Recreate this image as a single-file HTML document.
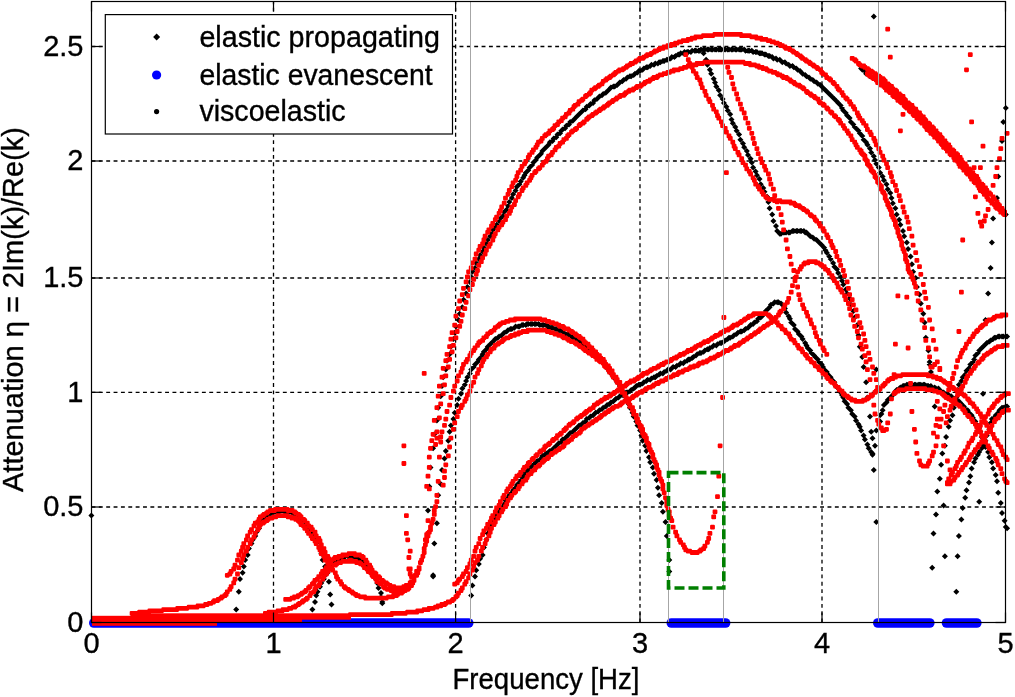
<!DOCTYPE html>
<html><head><meta charset="utf-8"><title>Attenuation vs Frequency</title>
<style>html,body{margin:0;padding:0;background:#fff}svg{display:block}</style></head>
<body>
<svg width="1015" height="697" viewBox="0 0 1015 697" style="display:block">
<rect width="1015" height="697" fill="#fff"/>
<line x1="273.5" y1="622.5" x2="273.5" y2="1.5" stroke="#000" stroke-width="1.3" stroke-dasharray="3.9 3.46"/>
<line x1="455.6" y1="622.5" x2="455.6" y2="1.5" stroke="#000" stroke-width="1.3" stroke-dasharray="3.9 3.46"/>
<line x1="640.0" y1="622.5" x2="640.0" y2="1.5" stroke="#000" stroke-width="1.3" stroke-dasharray="3.9 3.46"/>
<line x1="822.0" y1="622.5" x2="822.0" y2="1.5" stroke="#000" stroke-width="1.3" stroke-dasharray="3.9 3.46"/>
<line x1="91.5" y1="507.0" x2="1005.5" y2="507.0" stroke="#000" stroke-width="1.3" stroke-dasharray="3.9 3.46"/>
<line x1="91.5" y1="392.3" x2="1005.5" y2="392.3" stroke="#000" stroke-width="1.3" stroke-dasharray="3.9 3.46"/>
<line x1="91.5" y1="278.0" x2="1005.5" y2="278.0" stroke="#000" stroke-width="1.3" stroke-dasharray="3.9 3.46"/>
<line x1="91.5" y1="161.0" x2="1005.5" y2="161.0" stroke="#000" stroke-width="1.3" stroke-dasharray="3.9 3.46"/>
<line x1="91.5" y1="46.5" x2="1005.5" y2="46.5" stroke="#000" stroke-width="1.3" stroke-dasharray="3.9 3.46"/>
<path d="M236.2 606.6l3.0 3.0l-3.0 3.0l-3.0 -3.0zM238.8 588.8l3.0 3.0l-3.0 3.0l-3.0 -3.0zM240.0 576.1l3.0 3.0l-3.0 3.0l-3.0 -3.0zM242.6 569.8l3.0 3.0l-3.0 3.0l-3.0 -3.0zM243.8 563.4l3.0 3.0l-3.0 3.0l-3.0 -3.0zM245.1 557.1l3.0 3.0l-3.0 3.0l-3.0 -3.0zM247.7 552.0l3.0 3.0l-3.0 3.0l-3.0 -3.0zM248.9 545.6l3.0 3.0l-3.0 3.0l-3.0 -3.0zM251.5 540.6l3.0 3.0l-3.0 3.0l-3.0 -3.0zM252.7 536.8l3.0 3.0l-3.0 3.0l-3.0 -3.0zM255.3 532.9l3.0 3.0l-3.0 3.0l-3.0 -3.0zM256.5 529.1l3.0 3.0l-3.0 3.0l-3.0 -3.0zM259.1 525.3l3.0 3.0l-3.0 3.0l-3.0 -3.0zM260.4 521.5l3.0 3.0l-3.0 3.0l-3.0 -3.0zM261.6 519.0l3.0 3.0l-3.0 3.0l-3.0 -3.0zM264.2 516.4l3.0 3.0l-3.0 3.0l-3.0 -3.0zM265.4 513.9l3.0 3.0l-3.0 3.0l-3.0 -3.0zM268.0 512.6l3.0 3.0l-3.0 3.0l-3.0 -3.0zM269.2 511.4l3.0 3.0l-3.0 3.0l-3.0 -3.0zM271.8 510.1l3.0 3.0l-3.0 3.0l-3.0 -3.0zM273.1 510.1l3.0 3.0l-3.0 3.0l-3.0 -3.0zM275.6 508.8l3.0 3.0l-3.0 3.0l-3.0 -3.0zM276.9 508.8l3.0 3.0l-3.0 3.0l-3.0 -3.0zM279.4 508.8l3.0 3.0l-3.0 3.0l-3.0 -3.0zM280.7 507.5l3.0 3.0l-3.0 3.0l-3.0 -3.0zM281.9 507.5l3.0 3.0l-3.0 3.0l-3.0 -3.0zM284.5 508.8l3.0 3.0l-3.0 3.0l-3.0 -3.0zM285.8 508.8l3.0 3.0l-3.0 3.0l-3.0 -3.0zM288.3 508.8l3.0 3.0l-3.0 3.0l-3.0 -3.0zM289.6 508.8l3.0 3.0l-3.0 3.0l-3.0 -3.0zM292.1 510.1l3.0 3.0l-3.0 3.0l-3.0 -3.0zM293.4 510.1l3.0 3.0l-3.0 3.0l-3.0 -3.0zM295.9 511.4l3.0 3.0l-3.0 3.0l-3.0 -3.0zM297.2 512.6l3.0 3.0l-3.0 3.0l-3.0 -3.0zM299.7 513.9l3.0 3.0l-3.0 3.0l-3.0 -3.0zM301.0 516.4l3.0 3.0l-3.0 3.0l-3.0 -3.0zM302.3 517.7l3.0 3.0l-3.0 3.0l-3.0 -3.0zM304.8 519.0l3.0 3.0l-3.0 3.0l-3.0 -3.0zM306.1 521.5l3.0 3.0l-3.0 3.0l-3.0 -3.0zM308.6 524.0l3.0 3.0l-3.0 3.0l-3.0 -3.0zM309.9 526.6l3.0 3.0l-3.0 3.0l-3.0 -3.0zM312.4 529.1l3.0 3.0l-3.0 3.0l-3.0 -3.0zM313.7 531.7l3.0 3.0l-3.0 3.0l-3.0 -3.0zM316.2 535.5l3.0 3.0l-3.0 3.0l-3.0 -3.0zM317.5 539.3l3.0 3.0l-3.0 3.0l-3.0 -3.0zM320.0 544.4l3.0 3.0l-3.0 3.0l-3.0 -3.0zM321.3 550.7l3.0 3.0l-3.0 3.0l-3.0 -3.0zM322.6 557.1l3.0 3.0l-3.0 3.0l-3.0 -3.0zM325.1 563.4l3.0 3.0l-3.0 3.0l-3.0 -3.0zM326.4 569.8l3.0 3.0l-3.0 3.0l-3.0 -3.0zM328.9 578.7l3.0 3.0l-3.0 3.0l-3.0 -3.0zM330.2 591.4l3.0 3.0l-3.0 3.0l-3.0 -3.0zM331.5 601.5l3.0 3.0l-3.0 3.0l-3.0 -3.0zM312.4 606.6l3.0 3.0l-3.0 3.0l-3.0 -3.0zM315.0 599.0l3.0 3.0l-3.0 3.0l-3.0 -3.0zM316.2 592.6l3.0 3.0l-3.0 3.0l-3.0 -3.0zM317.5 588.8l3.0 3.0l-3.0 3.0l-3.0 -3.0zM320.0 583.7l3.0 3.0l-3.0 3.0l-3.0 -3.0zM321.3 579.9l3.0 3.0l-3.0 3.0l-3.0 -3.0zM323.9 576.1l3.0 3.0l-3.0 3.0l-3.0 -3.0zM325.1 572.3l3.0 3.0l-3.0 3.0l-3.0 -3.0zM327.7 569.8l3.0 3.0l-3.0 3.0l-3.0 -3.0zM328.9 566.0l3.0 3.0l-3.0 3.0l-3.0 -3.0zM331.5 563.4l3.0 3.0l-3.0 3.0l-3.0 -3.0zM332.7 560.9l3.0 3.0l-3.0 3.0l-3.0 -3.0zM334.0 559.6l3.0 3.0l-3.0 3.0l-3.0 -3.0zM336.6 558.3l3.0 3.0l-3.0 3.0l-3.0 -3.0zM337.8 557.1l3.0 3.0l-3.0 3.0l-3.0 -3.0zM340.4 555.8l3.0 3.0l-3.0 3.0l-3.0 -3.0zM341.6 554.5l3.0 3.0l-3.0 3.0l-3.0 -3.0zM344.2 554.5l3.0 3.0l-3.0 3.0l-3.0 -3.0zM345.4 553.3l3.0 3.0l-3.0 3.0l-3.0 -3.0zM348.0 553.3l3.0 3.0l-3.0 3.0l-3.0 -3.0zM349.2 553.3l3.0 3.0l-3.0 3.0l-3.0 -3.0zM351.8 553.3l3.0 3.0l-3.0 3.0l-3.0 -3.0zM353.1 553.3l3.0 3.0l-3.0 3.0l-3.0 -3.0zM355.6 554.5l3.0 3.0l-3.0 3.0l-3.0 -3.0zM356.9 554.5l3.0 3.0l-3.0 3.0l-3.0 -3.0zM358.1 555.8l3.0 3.0l-3.0 3.0l-3.0 -3.0zM360.7 557.1l3.0 3.0l-3.0 3.0l-3.0 -3.0zM361.9 558.3l3.0 3.0l-3.0 3.0l-3.0 -3.0zM364.5 559.6l3.0 3.0l-3.0 3.0l-3.0 -3.0zM365.8 560.9l3.0 3.0l-3.0 3.0l-3.0 -3.0zM368.3 563.4l3.0 3.0l-3.0 3.0l-3.0 -3.0zM369.6 566.0l3.0 3.0l-3.0 3.0l-3.0 -3.0zM372.1 568.5l3.0 3.0l-3.0 3.0l-3.0 -3.0zM373.4 572.3l3.0 3.0l-3.0 3.0l-3.0 -3.0zM375.9 576.1l3.0 3.0l-3.0 3.0l-3.0 -3.0zM377.2 579.9l3.0 3.0l-3.0 3.0l-3.0 -3.0zM378.5 585.0l3.0 3.0l-3.0 3.0l-3.0 -3.0zM381.0 593.9l3.0 3.0l-3.0 3.0l-3.0 -3.0zM382.3 599.0l3.0 3.0l-3.0 3.0l-3.0 -3.0zM429.3 483.4l3.0 3.0l-3.0 3.0l-3.0 -3.0zM430.5 464.4l3.0 3.0l-3.0 3.0l-3.0 -3.0zM433.1 445.3l3.0 3.0l-3.0 3.0l-3.0 -3.0zM434.3 431.3l3.0 3.0l-3.0 3.0l-3.0 -3.0zM436.9 417.4l3.0 3.0l-3.0 3.0l-3.0 -3.0zM438.2 404.7l3.0 3.0l-3.0 3.0l-3.0 -3.0zM440.7 393.2l3.0 3.0l-3.0 3.0l-3.0 -3.0zM442.0 383.1l3.0 3.0l-3.0 3.0l-3.0 -3.0zM443.2 374.2l3.0 3.0l-3.0 3.0l-3.0 -3.0zM445.8 366.6l3.0 3.0l-3.0 3.0l-3.0 -3.0zM447.0 357.7l3.0 3.0l-3.0 3.0l-3.0 -3.0zM449.6 351.3l3.0 3.0l-3.0 3.0l-3.0 -3.0zM450.9 343.7l3.0 3.0l-3.0 3.0l-3.0 -3.0zM453.4 336.1l3.0 3.0l-3.0 3.0l-3.0 -3.0zM454.7 329.7l3.0 3.0l-3.0 3.0l-3.0 -3.0zM455.9 323.4l3.0 3.0l-3.0 3.0l-3.0 -3.0zM458.5 317.0l3.0 3.0l-3.0 3.0l-3.0 -3.0zM459.7 310.7l3.0 3.0l-3.0 3.0l-3.0 -3.0zM462.3 304.3l3.0 3.0l-3.0 3.0l-3.0 -3.0zM463.6 296.7l3.0 3.0l-3.0 3.0l-3.0 -3.0zM466.1 290.4l3.0 3.0l-3.0 3.0l-3.0 -3.0zM467.4 284.0l3.0 3.0l-3.0 3.0l-3.0 -3.0zM469.9 278.9l3.0 3.0l-3.0 3.0l-3.0 -3.0zM471.2 273.9l3.0 3.0l-3.0 3.0l-3.0 -3.0zM472.4 268.8l3.0 3.0l-3.0 3.0l-3.0 -3.0zM475.0 265.0l3.0 3.0l-3.0 3.0l-3.0 -3.0zM476.2 259.9l3.0 3.0l-3.0 3.0l-3.0 -3.0zM478.8 256.1l3.0 3.0l-3.0 3.0l-3.0 -3.0zM480.1 252.3l3.0 3.0l-3.0 3.0l-3.0 -3.0zM482.6 248.5l3.0 3.0l-3.0 3.0l-3.0 -3.0zM483.9 244.7l3.0 3.0l-3.0 3.0l-3.0 -3.0zM486.4 240.8l3.0 3.0l-3.0 3.0l-3.0 -3.0zM487.7 237.0l3.0 3.0l-3.0 3.0l-3.0 -3.0zM490.2 233.2l3.0 3.0l-3.0 3.0l-3.0 -3.0zM491.5 230.7l3.0 3.0l-3.0 3.0l-3.0 -3.0zM492.8 226.9l3.0 3.0l-3.0 3.0l-3.0 -3.0zM495.3 224.3l3.0 3.0l-3.0 3.0l-3.0 -3.0zM496.6 221.8l3.0 3.0l-3.0 3.0l-3.0 -3.0zM499.1 218.0l3.0 3.0l-3.0 3.0l-3.0 -3.0zM500.4 215.4l3.0 3.0l-3.0 3.0l-3.0 -3.0zM502.9 212.9l3.0 3.0l-3.0 3.0l-3.0 -3.0zM504.2 209.1l3.0 3.0l-3.0 3.0l-3.0 -3.0zM506.7 206.6l3.0 3.0l-3.0 3.0l-3.0 -3.0zM508.0 202.7l3.0 3.0l-3.0 3.0l-3.0 -3.0zM509.3 198.9l3.0 3.0l-3.0 3.0l-3.0 -3.0zM511.8 195.1l3.0 3.0l-3.0 3.0l-3.0 -3.0zM513.1 191.3l3.0 3.0l-3.0 3.0l-3.0 -3.0zM515.6 187.5l3.0 3.0l-3.0 3.0l-3.0 -3.0zM516.9 183.7l3.0 3.0l-3.0 3.0l-3.0 -3.0zM519.4 181.2l3.0 3.0l-3.0 3.0l-3.0 -3.0zM520.7 178.6l3.0 3.0l-3.0 3.0l-3.0 -3.0zM523.2 174.8l3.0 3.0l-3.0 3.0l-3.0 -3.0zM524.5 172.3l3.0 3.0l-3.0 3.0l-3.0 -3.0zM525.8 169.7l3.0 3.0l-3.0 3.0l-3.0 -3.0zM528.3 167.2l3.0 3.0l-3.0 3.0l-3.0 -3.0zM529.6 164.6l3.0 3.0l-3.0 3.0l-3.0 -3.0zM532.1 162.1l3.0 3.0l-3.0 3.0l-3.0 -3.0zM533.4 159.6l3.0 3.0l-3.0 3.0l-3.0 -3.0zM535.9 157.0l3.0 3.0l-3.0 3.0l-3.0 -3.0zM537.2 154.5l3.0 3.0l-3.0 3.0l-3.0 -3.0zM539.8 151.9l3.0 3.0l-3.0 3.0l-3.0 -3.0zM541.0 150.7l3.0 3.0l-3.0 3.0l-3.0 -3.0zM542.3 148.1l3.0 3.0l-3.0 3.0l-3.0 -3.0zM544.8 145.6l3.0 3.0l-3.0 3.0l-3.0 -3.0zM546.1 144.3l3.0 3.0l-3.0 3.0l-3.0 -3.0zM548.6 141.8l3.0 3.0l-3.0 3.0l-3.0 -3.0zM549.9 139.2l3.0 3.0l-3.0 3.0l-3.0 -3.0zM552.5 138.0l3.0 3.0l-3.0 3.0l-3.0 -3.0zM553.7 135.4l3.0 3.0l-3.0 3.0l-3.0 -3.0zM556.3 134.2l3.0 3.0l-3.0 3.0l-3.0 -3.0zM557.5 131.6l3.0 3.0l-3.0 3.0l-3.0 -3.0zM560.1 130.3l3.0 3.0l-3.0 3.0l-3.0 -3.0zM561.3 127.8l3.0 3.0l-3.0 3.0l-3.0 -3.0zM562.6 126.5l3.0 3.0l-3.0 3.0l-3.0 -3.0zM565.1 125.3l3.0 3.0l-3.0 3.0l-3.0 -3.0zM566.4 122.7l3.0 3.0l-3.0 3.0l-3.0 -3.0zM569.0 121.5l3.0 3.0l-3.0 3.0l-3.0 -3.0zM570.2 118.9l3.0 3.0l-3.0 3.0l-3.0 -3.0zM572.8 117.7l3.0 3.0l-3.0 3.0l-3.0 -3.0zM574.0 116.4l3.0 3.0l-3.0 3.0l-3.0 -3.0zM576.6 113.8l3.0 3.0l-3.0 3.0l-3.0 -3.0zM577.9 112.6l3.0 3.0l-3.0 3.0l-3.0 -3.0zM579.1 111.3l3.0 3.0l-3.0 3.0l-3.0 -3.0zM581.7 108.8l3.0 3.0l-3.0 3.0l-3.0 -3.0zM582.9 107.5l3.0 3.0l-3.0 3.0l-3.0 -3.0zM585.5 106.2l3.0 3.0l-3.0 3.0l-3.0 -3.0zM586.7 103.7l3.0 3.0l-3.0 3.0l-3.0 -3.0zM589.3 102.4l3.0 3.0l-3.0 3.0l-3.0 -3.0zM590.5 101.1l3.0 3.0l-3.0 3.0l-3.0 -3.0zM593.1 99.9l3.0 3.0l-3.0 3.0l-3.0 -3.0zM594.4 97.3l3.0 3.0l-3.0 3.0l-3.0 -3.0zM596.9 96.1l3.0 3.0l-3.0 3.0l-3.0 -3.0zM598.2 94.8l3.0 3.0l-3.0 3.0l-3.0 -3.0zM599.4 93.5l3.0 3.0l-3.0 3.0l-3.0 -3.0zM602.0 92.2l3.0 3.0l-3.0 3.0l-3.0 -3.0zM603.2 91.0l3.0 3.0l-3.0 3.0l-3.0 -3.0zM605.8 89.7l3.0 3.0l-3.0 3.0l-3.0 -3.0zM607.1 88.4l3.0 3.0l-3.0 3.0l-3.0 -3.0zM609.6 85.9l3.0 3.0l-3.0 3.0l-3.0 -3.0zM610.9 84.6l3.0 3.0l-3.0 3.0l-3.0 -3.0zM613.4 83.4l3.0 3.0l-3.0 3.0l-3.0 -3.0zM614.7 83.4l3.0 3.0l-3.0 3.0l-3.0 -3.0zM617.2 82.1l3.0 3.0l-3.0 3.0l-3.0 -3.0zM618.5 80.8l3.0 3.0l-3.0 3.0l-3.0 -3.0zM619.8 79.5l3.0 3.0l-3.0 3.0l-3.0 -3.0zM622.3 78.3l3.0 3.0l-3.0 3.0l-3.0 -3.0zM623.6 77.0l3.0 3.0l-3.0 3.0l-3.0 -3.0zM626.1 75.7l3.0 3.0l-3.0 3.0l-3.0 -3.0zM627.4 74.5l3.0 3.0l-3.0 3.0l-3.0 -3.0zM629.9 73.2l3.0 3.0l-3.0 3.0l-3.0 -3.0zM631.2 73.2l3.0 3.0l-3.0 3.0l-3.0 -3.0zM633.7 71.9l3.0 3.0l-3.0 3.0l-3.0 -3.0zM635.0 70.7l3.0 3.0l-3.0 3.0l-3.0 -3.0zM637.5 69.4l3.0 3.0l-3.0 3.0l-3.0 -3.0zM638.8 68.1l3.0 3.0l-3.0 3.0l-3.0 -3.0zM640.1 68.1l3.0 3.0l-3.0 3.0l-3.0 -3.0zM642.6 66.8l3.0 3.0l-3.0 3.0l-3.0 -3.0zM643.9 65.6l3.0 3.0l-3.0 3.0l-3.0 -3.0zM646.4 64.3l3.0 3.0l-3.0 3.0l-3.0 -3.0zM647.7 64.3l3.0 3.0l-3.0 3.0l-3.0 -3.0zM650.2 63.0l3.0 3.0l-3.0 3.0l-3.0 -3.0zM651.5 61.8l3.0 3.0l-3.0 3.0l-3.0 -3.0zM654.0 61.8l3.0 3.0l-3.0 3.0l-3.0 -3.0zM655.3 60.5l3.0 3.0l-3.0 3.0l-3.0 -3.0zM657.9 60.5l3.0 3.0l-3.0 3.0l-3.0 -3.0zM659.1 59.2l3.0 3.0l-3.0 3.0l-3.0 -3.0zM660.4 59.2l3.0 3.0l-3.0 3.0l-3.0 -3.0zM662.9 58.0l3.0 3.0l-3.0 3.0l-3.0 -3.0zM664.2 58.0l3.0 3.0l-3.0 3.0l-3.0 -3.0zM666.8 56.7l3.0 3.0l-3.0 3.0l-3.0 -3.0zM668.0 56.7l3.0 3.0l-3.0 3.0l-3.0 -3.0zM670.6 55.4l3.0 3.0l-3.0 3.0l-3.0 -3.0zM671.8 54.1l3.0 3.0l-3.0 3.0l-3.0 -3.0zM674.4 54.1l3.0 3.0l-3.0 3.0l-3.0 -3.0zM675.6 52.9l3.0 3.0l-3.0 3.0l-3.0 -3.0zM678.2 51.6l3.0 3.0l-3.0 3.0l-3.0 -3.0zM679.5 51.6l3.0 3.0l-3.0 3.0l-3.0 -3.0zM680.7 50.3l3.0 3.0l-3.0 3.0l-3.0 -3.0zM683.3 50.3l3.0 3.0l-3.0 3.0l-3.0 -3.0zM684.5 49.1l3.0 3.0l-3.0 3.0l-3.0 -3.0zM687.1 49.1l3.0 3.0l-3.0 3.0l-3.0 -3.0zM688.3 49.1l3.0 3.0l-3.0 3.0l-3.0 -3.0zM690.9 49.1l3.0 3.0l-3.0 3.0l-3.0 -3.0zM692.1 47.8l3.0 3.0l-3.0 3.0l-3.0 -3.0zM694.7 47.8l3.0 3.0l-3.0 3.0l-3.0 -3.0zM696.0 47.8l3.0 3.0l-3.0 3.0l-3.0 -3.0zM698.5 47.8l3.0 3.0l-3.0 3.0l-3.0 -3.0zM699.8 47.8l3.0 3.0l-3.0 3.0l-3.0 -3.0zM701.0 46.5l3.0 3.0l-3.0 3.0l-3.0 -3.0zM703.6 46.5l3.0 3.0l-3.0 3.0l-3.0 -3.0zM704.9 46.5l3.0 3.0l-3.0 3.0l-3.0 -3.0zM707.4 46.5l3.0 3.0l-3.0 3.0l-3.0 -3.0zM708.7 46.5l3.0 3.0l-3.0 3.0l-3.0 -3.0zM711.2 46.5l3.0 3.0l-3.0 3.0l-3.0 -3.0zM712.5 46.5l3.0 3.0l-3.0 3.0l-3.0 -3.0zM715.0 46.5l3.0 3.0l-3.0 3.0l-3.0 -3.0zM716.3 46.5l3.0 3.0l-3.0 3.0l-3.0 -3.0zM718.8 46.5l3.0 3.0l-3.0 3.0l-3.0 -3.0zM720.1 46.5l3.0 3.0l-3.0 3.0l-3.0 -3.0zM721.4 46.5l3.0 3.0l-3.0 3.0l-3.0 -3.0zM723.9 46.5l3.0 3.0l-3.0 3.0l-3.0 -3.0zM725.2 46.5l3.0 3.0l-3.0 3.0l-3.0 -3.0zM727.7 46.5l3.0 3.0l-3.0 3.0l-3.0 -3.0zM729.0 46.5l3.0 3.0l-3.0 3.0l-3.0 -3.0zM731.5 46.5l3.0 3.0l-3.0 3.0l-3.0 -3.0zM732.8 46.5l3.0 3.0l-3.0 3.0l-3.0 -3.0zM735.3 46.5l3.0 3.0l-3.0 3.0l-3.0 -3.0zM736.6 46.5l3.0 3.0l-3.0 3.0l-3.0 -3.0zM739.1 46.5l3.0 3.0l-3.0 3.0l-3.0 -3.0zM740.4 46.5l3.0 3.0l-3.0 3.0l-3.0 -3.0zM741.7 46.5l3.0 3.0l-3.0 3.0l-3.0 -3.0zM744.2 46.5l3.0 3.0l-3.0 3.0l-3.0 -3.0zM745.5 47.8l3.0 3.0l-3.0 3.0l-3.0 -3.0zM748.0 47.8l3.0 3.0l-3.0 3.0l-3.0 -3.0zM749.3 47.8l3.0 3.0l-3.0 3.0l-3.0 -3.0zM751.8 47.8l3.0 3.0l-3.0 3.0l-3.0 -3.0zM753.1 49.1l3.0 3.0l-3.0 3.0l-3.0 -3.0zM755.6 49.1l3.0 3.0l-3.0 3.0l-3.0 -3.0zM756.9 49.1l3.0 3.0l-3.0 3.0l-3.0 -3.0zM759.5 50.3l3.0 3.0l-3.0 3.0l-3.0 -3.0zM760.7 50.3l3.0 3.0l-3.0 3.0l-3.0 -3.0zM762.0 50.3l3.0 3.0l-3.0 3.0l-3.0 -3.0zM764.5 51.6l3.0 3.0l-3.0 3.0l-3.0 -3.0zM765.8 51.6l3.0 3.0l-3.0 3.0l-3.0 -3.0zM768.4 52.9l3.0 3.0l-3.0 3.0l-3.0 -3.0zM769.6 52.9l3.0 3.0l-3.0 3.0l-3.0 -3.0zM772.2 54.1l3.0 3.0l-3.0 3.0l-3.0 -3.0zM773.4 55.4l3.0 3.0l-3.0 3.0l-3.0 -3.0zM776.0 55.4l3.0 3.0l-3.0 3.0l-3.0 -3.0zM777.2 56.7l3.0 3.0l-3.0 3.0l-3.0 -3.0zM779.8 56.7l3.0 3.0l-3.0 3.0l-3.0 -3.0zM781.0 58.0l3.0 3.0l-3.0 3.0l-3.0 -3.0zM782.3 59.2l3.0 3.0l-3.0 3.0l-3.0 -3.0zM784.9 59.2l3.0 3.0l-3.0 3.0l-3.0 -3.0zM786.1 60.5l3.0 3.0l-3.0 3.0l-3.0 -3.0zM788.7 61.8l3.0 3.0l-3.0 3.0l-3.0 -3.0zM789.9 63.0l3.0 3.0l-3.0 3.0l-3.0 -3.0zM792.5 63.0l3.0 3.0l-3.0 3.0l-3.0 -3.0zM793.8 64.3l3.0 3.0l-3.0 3.0l-3.0 -3.0zM796.3 65.6l3.0 3.0l-3.0 3.0l-3.0 -3.0zM797.6 66.8l3.0 3.0l-3.0 3.0l-3.0 -3.0zM800.1 68.1l3.0 3.0l-3.0 3.0l-3.0 -3.0zM801.4 69.4l3.0 3.0l-3.0 3.0l-3.0 -3.0zM802.6 70.7l3.0 3.0l-3.0 3.0l-3.0 -3.0zM805.2 71.9l3.0 3.0l-3.0 3.0l-3.0 -3.0zM806.5 73.2l3.0 3.0l-3.0 3.0l-3.0 -3.0zM809.0 74.5l3.0 3.0l-3.0 3.0l-3.0 -3.0zM810.3 75.7l3.0 3.0l-3.0 3.0l-3.0 -3.0zM812.8 77.0l3.0 3.0l-3.0 3.0l-3.0 -3.0zM814.1 78.3l3.0 3.0l-3.0 3.0l-3.0 -3.0zM816.6 79.5l3.0 3.0l-3.0 3.0l-3.0 -3.0zM817.9 80.8l3.0 3.0l-3.0 3.0l-3.0 -3.0zM820.4 82.1l3.0 3.0l-3.0 3.0l-3.0 -3.0zM821.7 83.4l3.0 3.0l-3.0 3.0l-3.0 -3.0zM824.2 85.9l3.0 3.0l-3.0 3.0l-3.0 -3.0zM825.5 87.2l3.0 3.0l-3.0 3.0l-3.0 -3.0zM826.8 88.4l3.0 3.0l-3.0 3.0l-3.0 -3.0zM829.3 91.0l3.0 3.0l-3.0 3.0l-3.0 -3.0zM830.6 92.2l3.0 3.0l-3.0 3.0l-3.0 -3.0zM833.1 94.8l3.0 3.0l-3.0 3.0l-3.0 -3.0zM834.4 96.1l3.0 3.0l-3.0 3.0l-3.0 -3.0zM836.9 98.6l3.0 3.0l-3.0 3.0l-3.0 -3.0zM838.2 99.9l3.0 3.0l-3.0 3.0l-3.0 -3.0zM840.7 102.4l3.0 3.0l-3.0 3.0l-3.0 -3.0zM842.0 105.0l3.0 3.0l-3.0 3.0l-3.0 -3.0zM843.3 107.5l3.0 3.0l-3.0 3.0l-3.0 -3.0zM845.8 110.0l3.0 3.0l-3.0 3.0l-3.0 -3.0zM847.1 112.6l3.0 3.0l-3.0 3.0l-3.0 -3.0zM849.6 115.1l3.0 3.0l-3.0 3.0l-3.0 -3.0zM850.9 118.9l3.0 3.0l-3.0 3.0l-3.0 -3.0zM853.4 121.5l3.0 3.0l-3.0 3.0l-3.0 -3.0zM854.7 124.0l3.0 3.0l-3.0 3.0l-3.0 -3.0zM857.2 126.5l3.0 3.0l-3.0 3.0l-3.0 -3.0zM858.5 127.8l3.0 3.0l-3.0 3.0l-3.0 -3.0zM859.8 130.3l3.0 3.0l-3.0 3.0l-3.0 -3.0zM862.3 132.9l3.0 3.0l-3.0 3.0l-3.0 -3.0zM863.6 136.7l3.0 3.0l-3.0 3.0l-3.0 -3.0zM866.1 139.2l3.0 3.0l-3.0 3.0l-3.0 -3.0zM867.4 141.8l3.0 3.0l-3.0 3.0l-3.0 -3.0zM870.0 145.6l3.0 3.0l-3.0 3.0l-3.0 -3.0zM871.2 149.4l3.0 3.0l-3.0 3.0l-3.0 -3.0zM873.8 153.2l3.0 3.0l-3.0 3.0l-3.0 -3.0zM875.0 157.0l3.0 3.0l-3.0 3.0l-3.0 -3.0zM876.3 160.8l3.0 3.0l-3.0 3.0l-3.0 -3.0zM878.8 164.6l3.0 3.0l-3.0 3.0l-3.0 -3.0zM880.1 169.7l3.0 3.0l-3.0 3.0l-3.0 -3.0zM882.6 173.5l3.0 3.0l-3.0 3.0l-3.0 -3.0zM883.9 177.3l3.0 3.0l-3.0 3.0l-3.0 -3.0zM886.5 181.2l3.0 3.0l-3.0 3.0l-3.0 -3.0zM887.7 186.2l3.0 3.0l-3.0 3.0l-3.0 -3.0zM890.3 190.0l3.0 3.0l-3.0 3.0l-3.0 -3.0zM891.5 195.1l3.0 3.0l-3.0 3.0l-3.0 -3.0zM892.8 200.2l3.0 3.0l-3.0 3.0l-3.0 -3.0zM895.4 205.3l3.0 3.0l-3.0 3.0l-3.0 -3.0zM896.6 211.6l3.0 3.0l-3.0 3.0l-3.0 -3.0zM899.2 216.7l3.0 3.0l-3.0 3.0l-3.0 -3.0zM900.4 221.8l3.0 3.0l-3.0 3.0l-3.0 -3.0zM903.0 228.1l3.0 3.0l-3.0 3.0l-3.0 -3.0zM904.2 233.2l3.0 3.0l-3.0 3.0l-3.0 -3.0zM906.8 239.6l3.0 3.0l-3.0 3.0l-3.0 -3.0zM908.1 245.9l3.0 3.0l-3.0 3.0l-3.0 -3.0zM910.6 253.5l3.0 3.0l-3.0 3.0l-3.0 -3.0zM911.9 261.2l3.0 3.0l-3.0 3.0l-3.0 -3.0zM913.1 268.8l3.0 3.0l-3.0 3.0l-3.0 -3.0zM915.7 275.1l3.0 3.0l-3.0 3.0l-3.0 -3.0zM916.9 284.0l3.0 3.0l-3.0 3.0l-3.0 -3.0zM919.5 291.6l3.0 3.0l-3.0 3.0l-3.0 -3.0zM920.8 300.5l3.0 3.0l-3.0 3.0l-3.0 -3.0zM923.3 310.7l3.0 3.0l-3.0 3.0l-3.0 -3.0zM924.6 319.6l3.0 3.0l-3.0 3.0l-3.0 -3.0zM925.8 334.8l3.0 3.0l-3.0 3.0l-3.0 -3.0zM928.4 347.5l3.0 3.0l-3.0 3.0l-3.0 -3.0zM929.6 361.5l3.0 3.0l-3.0 3.0l-3.0 -3.0zM930.9 369.1l3.0 3.0l-3.0 3.0l-3.0 -3.0zM433.1 572.3l3.0 3.0l-3.0 3.0l-3.0 -3.0zM434.3 540.6l3.0 3.0l-3.0 3.0l-3.0 -3.0zM436.9 520.2l3.0 3.0l-3.0 3.0l-3.0 -3.0zM438.2 492.3l3.0 3.0l-3.0 3.0l-3.0 -3.0zM440.7 480.9l3.0 3.0l-3.0 3.0l-3.0 -3.0zM442.0 466.9l3.0 3.0l-3.0 3.0l-3.0 -3.0zM444.5 455.5l3.0 3.0l-3.0 3.0l-3.0 -3.0zM445.8 447.9l3.0 3.0l-3.0 3.0l-3.0 -3.0zM448.3 437.7l3.0 3.0l-3.0 3.0l-3.0 -3.0zM449.6 428.8l3.0 3.0l-3.0 3.0l-3.0 -3.0zM450.9 422.4l3.0 3.0l-3.0 3.0l-3.0 -3.0zM453.4 416.1l3.0 3.0l-3.0 3.0l-3.0 -3.0zM454.7 409.8l3.0 3.0l-3.0 3.0l-3.0 -3.0zM457.2 402.1l3.0 3.0l-3.0 3.0l-3.0 -3.0zM458.5 395.8l3.0 3.0l-3.0 3.0l-3.0 -3.0zM461.0 390.7l3.0 3.0l-3.0 3.0l-3.0 -3.0zM462.3 385.6l3.0 3.0l-3.0 3.0l-3.0 -3.0zM464.8 381.8l3.0 3.0l-3.0 3.0l-3.0 -3.0zM466.1 378.0l3.0 3.0l-3.0 3.0l-3.0 -3.0zM467.4 374.2l3.0 3.0l-3.0 3.0l-3.0 -3.0zM469.9 370.4l3.0 3.0l-3.0 3.0l-3.0 -3.0zM471.2 366.6l3.0 3.0l-3.0 3.0l-3.0 -3.0zM473.7 364.0l3.0 3.0l-3.0 3.0l-3.0 -3.0zM475.0 361.5l3.0 3.0l-3.0 3.0l-3.0 -3.0zM477.5 358.9l3.0 3.0l-3.0 3.0l-3.0 -3.0zM478.8 356.4l3.0 3.0l-3.0 3.0l-3.0 -3.0zM481.3 353.9l3.0 3.0l-3.0 3.0l-3.0 -3.0zM482.6 351.3l3.0 3.0l-3.0 3.0l-3.0 -3.0zM483.9 348.8l3.0 3.0l-3.0 3.0l-3.0 -3.0zM486.4 346.2l3.0 3.0l-3.0 3.0l-3.0 -3.0zM487.7 343.7l3.0 3.0l-3.0 3.0l-3.0 -3.0zM490.2 341.2l3.0 3.0l-3.0 3.0l-3.0 -3.0zM491.5 339.9l3.0 3.0l-3.0 3.0l-3.0 -3.0zM494.0 337.4l3.0 3.0l-3.0 3.0l-3.0 -3.0zM495.3 336.1l3.0 3.0l-3.0 3.0l-3.0 -3.0zM497.8 334.8l3.0 3.0l-3.0 3.0l-3.0 -3.0zM499.1 333.6l3.0 3.0l-3.0 3.0l-3.0 -3.0zM501.7 332.3l3.0 3.0l-3.0 3.0l-3.0 -3.0zM502.9 331.0l3.0 3.0l-3.0 3.0l-3.0 -3.0zM504.2 329.7l3.0 3.0l-3.0 3.0l-3.0 -3.0zM506.7 328.5l3.0 3.0l-3.0 3.0l-3.0 -3.0zM508.0 327.2l3.0 3.0l-3.0 3.0l-3.0 -3.0zM510.5 325.9l3.0 3.0l-3.0 3.0l-3.0 -3.0zM511.8 325.9l3.0 3.0l-3.0 3.0l-3.0 -3.0zM514.4 324.7l3.0 3.0l-3.0 3.0l-3.0 -3.0zM515.6 323.4l3.0 3.0l-3.0 3.0l-3.0 -3.0zM518.2 323.4l3.0 3.0l-3.0 3.0l-3.0 -3.0zM519.4 323.4l3.0 3.0l-3.0 3.0l-3.0 -3.0zM522.0 322.1l3.0 3.0l-3.0 3.0l-3.0 -3.0zM523.2 322.1l3.0 3.0l-3.0 3.0l-3.0 -3.0zM525.8 322.1l3.0 3.0l-3.0 3.0l-3.0 -3.0zM527.0 320.9l3.0 3.0l-3.0 3.0l-3.0 -3.0zM528.3 320.9l3.0 3.0l-3.0 3.0l-3.0 -3.0zM530.9 320.9l3.0 3.0l-3.0 3.0l-3.0 -3.0zM532.1 320.9l3.0 3.0l-3.0 3.0l-3.0 -3.0zM534.7 320.9l3.0 3.0l-3.0 3.0l-3.0 -3.0zM535.9 320.9l3.0 3.0l-3.0 3.0l-3.0 -3.0zM538.5 320.9l3.0 3.0l-3.0 3.0l-3.0 -3.0zM539.8 322.1l3.0 3.0l-3.0 3.0l-3.0 -3.0zM542.3 322.1l3.0 3.0l-3.0 3.0l-3.0 -3.0zM543.6 322.1l3.0 3.0l-3.0 3.0l-3.0 -3.0zM546.1 322.1l3.0 3.0l-3.0 3.0l-3.0 -3.0zM547.4 323.4l3.0 3.0l-3.0 3.0l-3.0 -3.0zM548.6 323.4l3.0 3.0l-3.0 3.0l-3.0 -3.0zM551.2 324.7l3.0 3.0l-3.0 3.0l-3.0 -3.0zM552.5 324.7l3.0 3.0l-3.0 3.0l-3.0 -3.0zM555.0 325.9l3.0 3.0l-3.0 3.0l-3.0 -3.0zM556.3 325.9l3.0 3.0l-3.0 3.0l-3.0 -3.0zM558.8 327.2l3.0 3.0l-3.0 3.0l-3.0 -3.0zM560.1 327.2l3.0 3.0l-3.0 3.0l-3.0 -3.0zM562.6 328.5l3.0 3.0l-3.0 3.0l-3.0 -3.0zM563.9 329.7l3.0 3.0l-3.0 3.0l-3.0 -3.0zM565.1 331.0l3.0 3.0l-3.0 3.0l-3.0 -3.0zM567.7 331.0l3.0 3.0l-3.0 3.0l-3.0 -3.0zM569.0 332.3l3.0 3.0l-3.0 3.0l-3.0 -3.0zM571.5 333.6l3.0 3.0l-3.0 3.0l-3.0 -3.0zM572.8 334.8l3.0 3.0l-3.0 3.0l-3.0 -3.0zM575.3 336.1l3.0 3.0l-3.0 3.0l-3.0 -3.0zM576.6 337.4l3.0 3.0l-3.0 3.0l-3.0 -3.0zM579.1 338.6l3.0 3.0l-3.0 3.0l-3.0 -3.0zM580.4 339.9l3.0 3.0l-3.0 3.0l-3.0 -3.0zM582.9 341.2l3.0 3.0l-3.0 3.0l-3.0 -3.0zM584.2 342.4l3.0 3.0l-3.0 3.0l-3.0 -3.0zM586.7 343.7l3.0 3.0l-3.0 3.0l-3.0 -3.0zM588.0 345.0l3.0 3.0l-3.0 3.0l-3.0 -3.0zM589.3 347.5l3.0 3.0l-3.0 3.0l-3.0 -3.0zM591.8 348.8l3.0 3.0l-3.0 3.0l-3.0 -3.0zM593.1 350.1l3.0 3.0l-3.0 3.0l-3.0 -3.0zM595.6 352.6l3.0 3.0l-3.0 3.0l-3.0 -3.0zM596.9 353.9l3.0 3.0l-3.0 3.0l-3.0 -3.0zM599.4 356.4l3.0 3.0l-3.0 3.0l-3.0 -3.0zM600.7 357.7l3.0 3.0l-3.0 3.0l-3.0 -3.0zM603.2 360.2l3.0 3.0l-3.0 3.0l-3.0 -3.0zM604.5 361.5l3.0 3.0l-3.0 3.0l-3.0 -3.0zM605.8 364.0l3.0 3.0l-3.0 3.0l-3.0 -3.0zM608.3 366.6l3.0 3.0l-3.0 3.0l-3.0 -3.0zM609.6 369.1l3.0 3.0l-3.0 3.0l-3.0 -3.0zM612.1 371.6l3.0 3.0l-3.0 3.0l-3.0 -3.0zM613.4 374.2l3.0 3.0l-3.0 3.0l-3.0 -3.0zM616.0 376.7l3.0 3.0l-3.0 3.0l-3.0 -3.0zM617.2 379.3l3.0 3.0l-3.0 3.0l-3.0 -3.0zM619.8 383.1l3.0 3.0l-3.0 3.0l-3.0 -3.0zM621.0 385.6l3.0 3.0l-3.0 3.0l-3.0 -3.0zM623.6 389.4l3.0 3.0l-3.0 3.0l-3.0 -3.0zM624.8 393.2l3.0 3.0l-3.0 3.0l-3.0 -3.0zM626.1 397.1l3.0 3.0l-3.0 3.0l-3.0 -3.0zM628.6 400.9l3.0 3.0l-3.0 3.0l-3.0 -3.0zM629.9 404.7l3.0 3.0l-3.0 3.0l-3.0 -3.0zM632.5 409.8l3.0 3.0l-3.0 3.0l-3.0 -3.0zM633.7 413.6l3.0 3.0l-3.0 3.0l-3.0 -3.0zM636.3 418.6l3.0 3.0l-3.0 3.0l-3.0 -3.0zM637.5 422.4l3.0 3.0l-3.0 3.0l-3.0 -3.0zM640.1 427.5l3.0 3.0l-3.0 3.0l-3.0 -3.0zM641.4 432.6l3.0 3.0l-3.0 3.0l-3.0 -3.0zM642.6 437.7l3.0 3.0l-3.0 3.0l-3.0 -3.0zM645.2 442.8l3.0 3.0l-3.0 3.0l-3.0 -3.0zM646.4 447.9l3.0 3.0l-3.0 3.0l-3.0 -3.0zM649.0 454.2l3.0 3.0l-3.0 3.0l-3.0 -3.0zM650.2 459.3l3.0 3.0l-3.0 3.0l-3.0 -3.0zM652.8 464.4l3.0 3.0l-3.0 3.0l-3.0 -3.0zM654.0 470.7l3.0 3.0l-3.0 3.0l-3.0 -3.0zM656.6 477.1l3.0 3.0l-3.0 3.0l-3.0 -3.0zM657.9 484.7l3.0 3.0l-3.0 3.0l-3.0 -3.0zM659.1 492.3l3.0 3.0l-3.0 3.0l-3.0 -3.0zM661.7 499.9l3.0 3.0l-3.0 3.0l-3.0 -3.0zM662.9 508.8l3.0 3.0l-3.0 3.0l-3.0 -3.0zM665.5 519.0l3.0 3.0l-3.0 3.0l-3.0 -3.0zM666.8 532.9l3.0 3.0l-3.0 3.0l-3.0 -3.0zM669.3 557.1l3.0 3.0l-3.0 3.0l-3.0 -3.0zM669.3 568.5l3.0 3.0l-3.0 3.0l-3.0 -3.0zM471.2 592.6l3.0 3.0l-3.0 3.0l-3.0 -3.0zM472.4 582.5l3.0 3.0l-3.0 3.0l-3.0 -3.0zM475.0 573.6l3.0 3.0l-3.0 3.0l-3.0 -3.0zM476.2 567.2l3.0 3.0l-3.0 3.0l-3.0 -3.0zM478.8 560.9l3.0 3.0l-3.0 3.0l-3.0 -3.0zM480.1 555.8l3.0 3.0l-3.0 3.0l-3.0 -3.0zM482.6 552.0l3.0 3.0l-3.0 3.0l-3.0 -3.0zM483.9 544.4l3.0 3.0l-3.0 3.0l-3.0 -3.0zM486.4 536.8l3.0 3.0l-3.0 3.0l-3.0 -3.0zM487.7 530.4l3.0 3.0l-3.0 3.0l-3.0 -3.0zM488.9 526.6l3.0 3.0l-3.0 3.0l-3.0 -3.0zM491.5 521.5l3.0 3.0l-3.0 3.0l-3.0 -3.0zM492.8 519.0l3.0 3.0l-3.0 3.0l-3.0 -3.0zM495.3 515.2l3.0 3.0l-3.0 3.0l-3.0 -3.0zM496.6 512.6l3.0 3.0l-3.0 3.0l-3.0 -3.0zM499.1 508.8l3.0 3.0l-3.0 3.0l-3.0 -3.0zM500.4 506.3l3.0 3.0l-3.0 3.0l-3.0 -3.0zM502.9 503.7l3.0 3.0l-3.0 3.0l-3.0 -3.0zM504.2 501.2l3.0 3.0l-3.0 3.0l-3.0 -3.0zM505.5 497.4l3.0 3.0l-3.0 3.0l-3.0 -3.0zM508.0 494.8l3.0 3.0l-3.0 3.0l-3.0 -3.0zM509.3 492.3l3.0 3.0l-3.0 3.0l-3.0 -3.0zM511.8 489.8l3.0 3.0l-3.0 3.0l-3.0 -3.0zM513.1 487.2l3.0 3.0l-3.0 3.0l-3.0 -3.0zM515.6 484.7l3.0 3.0l-3.0 3.0l-3.0 -3.0zM516.9 482.1l3.0 3.0l-3.0 3.0l-3.0 -3.0zM519.4 479.6l3.0 3.0l-3.0 3.0l-3.0 -3.0zM520.7 477.1l3.0 3.0l-3.0 3.0l-3.0 -3.0zM522.0 474.5l3.0 3.0l-3.0 3.0l-3.0 -3.0zM524.5 472.0l3.0 3.0l-3.0 3.0l-3.0 -3.0zM525.8 469.4l3.0 3.0l-3.0 3.0l-3.0 -3.0zM528.3 466.9l3.0 3.0l-3.0 3.0l-3.0 -3.0zM529.6 465.6l3.0 3.0l-3.0 3.0l-3.0 -3.0zM532.1 463.1l3.0 3.0l-3.0 3.0l-3.0 -3.0zM533.4 461.8l3.0 3.0l-3.0 3.0l-3.0 -3.0zM535.9 459.3l3.0 3.0l-3.0 3.0l-3.0 -3.0zM537.2 458.0l3.0 3.0l-3.0 3.0l-3.0 -3.0zM539.8 456.7l3.0 3.0l-3.0 3.0l-3.0 -3.0zM541.0 455.5l3.0 3.0l-3.0 3.0l-3.0 -3.0zM542.3 452.9l3.0 3.0l-3.0 3.0l-3.0 -3.0zM544.8 451.7l3.0 3.0l-3.0 3.0l-3.0 -3.0zM546.1 450.4l3.0 3.0l-3.0 3.0l-3.0 -3.0zM548.6 449.1l3.0 3.0l-3.0 3.0l-3.0 -3.0zM549.9 447.9l3.0 3.0l-3.0 3.0l-3.0 -3.0zM552.5 446.6l3.0 3.0l-3.0 3.0l-3.0 -3.0zM553.7 445.3l3.0 3.0l-3.0 3.0l-3.0 -3.0zM556.3 442.8l3.0 3.0l-3.0 3.0l-3.0 -3.0zM557.5 441.5l3.0 3.0l-3.0 3.0l-3.0 -3.0zM558.8 440.2l3.0 3.0l-3.0 3.0l-3.0 -3.0zM561.3 439.0l3.0 3.0l-3.0 3.0l-3.0 -3.0zM562.6 436.4l3.0 3.0l-3.0 3.0l-3.0 -3.0zM565.1 435.2l3.0 3.0l-3.0 3.0l-3.0 -3.0zM566.4 433.9l3.0 3.0l-3.0 3.0l-3.0 -3.0zM569.0 431.3l3.0 3.0l-3.0 3.0l-3.0 -3.0zM570.2 430.1l3.0 3.0l-3.0 3.0l-3.0 -3.0zM572.8 428.8l3.0 3.0l-3.0 3.0l-3.0 -3.0zM574.0 427.5l3.0 3.0l-3.0 3.0l-3.0 -3.0zM576.6 425.0l3.0 3.0l-3.0 3.0l-3.0 -3.0zM577.9 423.7l3.0 3.0l-3.0 3.0l-3.0 -3.0zM579.1 422.4l3.0 3.0l-3.0 3.0l-3.0 -3.0zM581.7 421.2l3.0 3.0l-3.0 3.0l-3.0 -3.0zM582.9 419.9l3.0 3.0l-3.0 3.0l-3.0 -3.0zM585.5 418.6l3.0 3.0l-3.0 3.0l-3.0 -3.0zM586.7 416.1l3.0 3.0l-3.0 3.0l-3.0 -3.0zM589.3 414.8l3.0 3.0l-3.0 3.0l-3.0 -3.0zM590.5 413.6l3.0 3.0l-3.0 3.0l-3.0 -3.0zM593.1 412.3l3.0 3.0l-3.0 3.0l-3.0 -3.0zM594.4 411.0l3.0 3.0l-3.0 3.0l-3.0 -3.0zM595.6 409.8l3.0 3.0l-3.0 3.0l-3.0 -3.0zM598.2 408.5l3.0 3.0l-3.0 3.0l-3.0 -3.0zM599.4 407.2l3.0 3.0l-3.0 3.0l-3.0 -3.0zM602.0 405.9l3.0 3.0l-3.0 3.0l-3.0 -3.0zM603.2 404.7l3.0 3.0l-3.0 3.0l-3.0 -3.0zM605.8 403.4l3.0 3.0l-3.0 3.0l-3.0 -3.0zM607.1 402.1l3.0 3.0l-3.0 3.0l-3.0 -3.0zM609.6 400.9l3.0 3.0l-3.0 3.0l-3.0 -3.0zM610.9 399.6l3.0 3.0l-3.0 3.0l-3.0 -3.0zM613.4 398.3l3.0 3.0l-3.0 3.0l-3.0 -3.0zM614.7 397.1l3.0 3.0l-3.0 3.0l-3.0 -3.0zM616.0 395.8l3.0 3.0l-3.0 3.0l-3.0 -3.0zM618.5 394.5l3.0 3.0l-3.0 3.0l-3.0 -3.0zM619.8 393.2l3.0 3.0l-3.0 3.0l-3.0 -3.0zM622.3 392.0l3.0 3.0l-3.0 3.0l-3.0 -3.0zM623.6 390.7l3.0 3.0l-3.0 3.0l-3.0 -3.0zM626.1 389.4l3.0 3.0l-3.0 3.0l-3.0 -3.0zM627.4 389.4l3.0 3.0l-3.0 3.0l-3.0 -3.0zM629.9 388.2l3.0 3.0l-3.0 3.0l-3.0 -3.0zM631.2 386.9l3.0 3.0l-3.0 3.0l-3.0 -3.0zM633.7 385.6l3.0 3.0l-3.0 3.0l-3.0 -3.0zM635.0 384.4l3.0 3.0l-3.0 3.0l-3.0 -3.0zM636.3 383.1l3.0 3.0l-3.0 3.0l-3.0 -3.0zM638.8 381.8l3.0 3.0l-3.0 3.0l-3.0 -3.0zM640.1 381.8l3.0 3.0l-3.0 3.0l-3.0 -3.0zM642.6 380.5l3.0 3.0l-3.0 3.0l-3.0 -3.0zM643.9 379.3l3.0 3.0l-3.0 3.0l-3.0 -3.0zM646.4 378.0l3.0 3.0l-3.0 3.0l-3.0 -3.0zM647.7 376.7l3.0 3.0l-3.0 3.0l-3.0 -3.0zM650.2 376.7l3.0 3.0l-3.0 3.0l-3.0 -3.0zM651.5 375.5l3.0 3.0l-3.0 3.0l-3.0 -3.0zM654.0 374.2l3.0 3.0l-3.0 3.0l-3.0 -3.0zM655.3 374.2l3.0 3.0l-3.0 3.0l-3.0 -3.0zM656.6 372.9l3.0 3.0l-3.0 3.0l-3.0 -3.0zM659.1 371.6l3.0 3.0l-3.0 3.0l-3.0 -3.0zM660.4 370.4l3.0 3.0l-3.0 3.0l-3.0 -3.0zM662.9 370.4l3.0 3.0l-3.0 3.0l-3.0 -3.0zM664.2 369.1l3.0 3.0l-3.0 3.0l-3.0 -3.0zM666.8 367.8l3.0 3.0l-3.0 3.0l-3.0 -3.0zM668.0 366.6l3.0 3.0l-3.0 3.0l-3.0 -3.0zM670.6 366.6l3.0 3.0l-3.0 3.0l-3.0 -3.0zM671.8 365.3l3.0 3.0l-3.0 3.0l-3.0 -3.0zM673.1 364.0l3.0 3.0l-3.0 3.0l-3.0 -3.0zM675.6 364.0l3.0 3.0l-3.0 3.0l-3.0 -3.0zM676.9 362.8l3.0 3.0l-3.0 3.0l-3.0 -3.0zM679.5 361.5l3.0 3.0l-3.0 3.0l-3.0 -3.0zM680.7 360.2l3.0 3.0l-3.0 3.0l-3.0 -3.0zM683.3 360.2l3.0 3.0l-3.0 3.0l-3.0 -3.0zM684.5 358.9l3.0 3.0l-3.0 3.0l-3.0 -3.0zM687.1 357.7l3.0 3.0l-3.0 3.0l-3.0 -3.0zM688.3 356.4l3.0 3.0l-3.0 3.0l-3.0 -3.0zM689.6 356.4l3.0 3.0l-3.0 3.0l-3.0 -3.0zM692.1 355.1l3.0 3.0l-3.0 3.0l-3.0 -3.0zM693.4 353.9l3.0 3.0l-3.0 3.0l-3.0 -3.0zM696.0 352.6l3.0 3.0l-3.0 3.0l-3.0 -3.0zM697.2 351.3l3.0 3.0l-3.0 3.0l-3.0 -3.0zM699.8 350.1l3.0 3.0l-3.0 3.0l-3.0 -3.0zM701.0 350.1l3.0 3.0l-3.0 3.0l-3.0 -3.0zM703.6 348.8l3.0 3.0l-3.0 3.0l-3.0 -3.0zM704.9 347.5l3.0 3.0l-3.0 3.0l-3.0 -3.0zM707.4 346.2l3.0 3.0l-3.0 3.0l-3.0 -3.0zM708.7 346.2l3.0 3.0l-3.0 3.0l-3.0 -3.0zM709.9 345.0l3.0 3.0l-3.0 3.0l-3.0 -3.0zM712.5 343.7l3.0 3.0l-3.0 3.0l-3.0 -3.0zM713.7 342.4l3.0 3.0l-3.0 3.0l-3.0 -3.0zM716.3 342.4l3.0 3.0l-3.0 3.0l-3.0 -3.0zM717.5 341.2l3.0 3.0l-3.0 3.0l-3.0 -3.0zM720.1 339.9l3.0 3.0l-3.0 3.0l-3.0 -3.0zM721.4 339.9l3.0 3.0l-3.0 3.0l-3.0 -3.0zM723.9 338.6l3.0 3.0l-3.0 3.0l-3.0 -3.0zM725.2 337.4l3.0 3.0l-3.0 3.0l-3.0 -3.0zM727.7 336.1l3.0 3.0l-3.0 3.0l-3.0 -3.0zM729.0 334.8l3.0 3.0l-3.0 3.0l-3.0 -3.0zM730.2 334.8l3.0 3.0l-3.0 3.0l-3.0 -3.0zM732.8 333.6l3.0 3.0l-3.0 3.0l-3.0 -3.0zM734.1 332.3l3.0 3.0l-3.0 3.0l-3.0 -3.0zM736.6 331.0l3.0 3.0l-3.0 3.0l-3.0 -3.0zM737.9 329.7l3.0 3.0l-3.0 3.0l-3.0 -3.0zM740.4 328.5l3.0 3.0l-3.0 3.0l-3.0 -3.0zM741.7 328.5l3.0 3.0l-3.0 3.0l-3.0 -3.0zM744.2 327.2l3.0 3.0l-3.0 3.0l-3.0 -3.0zM745.5 325.9l3.0 3.0l-3.0 3.0l-3.0 -3.0zM748.0 324.7l3.0 3.0l-3.0 3.0l-3.0 -3.0zM749.3 323.4l3.0 3.0l-3.0 3.0l-3.0 -3.0zM750.6 322.1l3.0 3.0l-3.0 3.0l-3.0 -3.0zM753.1 320.9l3.0 3.0l-3.0 3.0l-3.0 -3.0zM754.4 319.6l3.0 3.0l-3.0 3.0l-3.0 -3.0zM756.9 318.3l3.0 3.0l-3.0 3.0l-3.0 -3.0zM758.2 315.8l3.0 3.0l-3.0 3.0l-3.0 -3.0zM760.7 314.5l3.0 3.0l-3.0 3.0l-3.0 -3.0zM762.0 313.2l3.0 3.0l-3.0 3.0l-3.0 -3.0zM764.5 310.7l3.0 3.0l-3.0 3.0l-3.0 -3.0zM765.8 308.1l3.0 3.0l-3.0 3.0l-3.0 -3.0zM768.4 305.6l3.0 3.0l-3.0 3.0l-3.0 -3.0zM769.6 304.3l3.0 3.0l-3.0 3.0l-3.0 -3.0zM770.9 301.8l3.0 3.0l-3.0 3.0l-3.0 -3.0zM773.4 300.5l3.0 3.0l-3.0 3.0l-3.0 -3.0zM774.7 299.3l3.0 3.0l-3.0 3.0l-3.0 -3.0zM777.2 299.3l3.0 3.0l-3.0 3.0l-3.0 -3.0zM778.5 299.3l3.0 3.0l-3.0 3.0l-3.0 -3.0zM781.0 300.5l3.0 3.0l-3.0 3.0l-3.0 -3.0zM782.3 301.8l3.0 3.0l-3.0 3.0l-3.0 -3.0zM784.9 305.6l3.0 3.0l-3.0 3.0l-3.0 -3.0zM786.1 309.4l3.0 3.0l-3.0 3.0l-3.0 -3.0zM788.7 313.2l3.0 3.0l-3.0 3.0l-3.0 -3.0zM789.9 315.8l3.0 3.0l-3.0 3.0l-3.0 -3.0zM791.2 319.6l3.0 3.0l-3.0 3.0l-3.0 -3.0zM793.8 322.1l3.0 3.0l-3.0 3.0l-3.0 -3.0zM795.0 325.9l3.0 3.0l-3.0 3.0l-3.0 -3.0zM797.6 328.5l3.0 3.0l-3.0 3.0l-3.0 -3.0zM798.8 331.0l3.0 3.0l-3.0 3.0l-3.0 -3.0zM801.4 333.6l3.0 3.0l-3.0 3.0l-3.0 -3.0zM802.6 336.1l3.0 3.0l-3.0 3.0l-3.0 -3.0zM805.2 339.9l3.0 3.0l-3.0 3.0l-3.0 -3.0zM806.5 342.4l3.0 3.0l-3.0 3.0l-3.0 -3.0zM807.7 345.0l3.0 3.0l-3.0 3.0l-3.0 -3.0zM810.3 347.5l3.0 3.0l-3.0 3.0l-3.0 -3.0zM811.5 350.1l3.0 3.0l-3.0 3.0l-3.0 -3.0zM814.1 352.6l3.0 3.0l-3.0 3.0l-3.0 -3.0zM815.3 353.9l3.0 3.0l-3.0 3.0l-3.0 -3.0zM817.9 356.4l3.0 3.0l-3.0 3.0l-3.0 -3.0zM819.1 358.9l3.0 3.0l-3.0 3.0l-3.0 -3.0zM821.7 361.5l3.0 3.0l-3.0 3.0l-3.0 -3.0zM823.0 364.0l3.0 3.0l-3.0 3.0l-3.0 -3.0zM824.2 366.6l3.0 3.0l-3.0 3.0l-3.0 -3.0zM826.8 369.1l3.0 3.0l-3.0 3.0l-3.0 -3.0zM828.0 371.6l3.0 3.0l-3.0 3.0l-3.0 -3.0zM830.6 374.2l3.0 3.0l-3.0 3.0l-3.0 -3.0zM831.9 376.7l3.0 3.0l-3.0 3.0l-3.0 -3.0zM834.4 379.3l3.0 3.0l-3.0 3.0l-3.0 -3.0zM835.7 383.1l3.0 3.0l-3.0 3.0l-3.0 -3.0zM838.2 385.6l3.0 3.0l-3.0 3.0l-3.0 -3.0zM839.5 388.2l3.0 3.0l-3.0 3.0l-3.0 -3.0zM842.0 392.0l3.0 3.0l-3.0 3.0l-3.0 -3.0zM843.3 394.5l3.0 3.0l-3.0 3.0l-3.0 -3.0zM844.6 398.3l3.0 3.0l-3.0 3.0l-3.0 -3.0zM847.1 400.9l3.0 3.0l-3.0 3.0l-3.0 -3.0zM848.4 404.7l3.0 3.0l-3.0 3.0l-3.0 -3.0zM850.9 407.2l3.0 3.0l-3.0 3.0l-3.0 -3.0zM852.2 411.0l3.0 3.0l-3.0 3.0l-3.0 -3.0zM854.7 413.6l3.0 3.0l-3.0 3.0l-3.0 -3.0zM856.0 417.4l3.0 3.0l-3.0 3.0l-3.0 -3.0zM858.5 421.2l3.0 3.0l-3.0 3.0l-3.0 -3.0zM859.8 423.7l3.0 3.0l-3.0 3.0l-3.0 -3.0zM861.1 427.5l3.0 3.0l-3.0 3.0l-3.0 -3.0zM863.6 432.6l3.0 3.0l-3.0 3.0l-3.0 -3.0zM864.9 436.4l3.0 3.0l-3.0 3.0l-3.0 -3.0zM867.4 441.5l3.0 3.0l-3.0 3.0l-3.0 -3.0zM868.7 445.3l3.0 3.0l-3.0 3.0l-3.0 -3.0zM871.2 449.1l3.0 3.0l-3.0 3.0l-3.0 -3.0zM872.5 451.7l3.0 3.0l-3.0 3.0l-3.0 -3.0zM703.6 50.3l3.0 3.0l-3.0 3.0l-3.0 -3.0zM706.1 56.7l3.0 3.0l-3.0 3.0l-3.0 -3.0zM707.4 61.8l3.0 3.0l-3.0 3.0l-3.0 -3.0zM709.9 66.8l3.0 3.0l-3.0 3.0l-3.0 -3.0zM711.2 70.7l3.0 3.0l-3.0 3.0l-3.0 -3.0zM713.7 75.7l3.0 3.0l-3.0 3.0l-3.0 -3.0zM715.0 79.5l3.0 3.0l-3.0 3.0l-3.0 -3.0zM716.3 83.4l3.0 3.0l-3.0 3.0l-3.0 -3.0zM718.8 87.2l3.0 3.0l-3.0 3.0l-3.0 -3.0zM720.1 92.2l3.0 3.0l-3.0 3.0l-3.0 -3.0zM722.6 96.1l3.0 3.0l-3.0 3.0l-3.0 -3.0zM723.9 99.9l3.0 3.0l-3.0 3.0l-3.0 -3.0zM726.4 103.7l3.0 3.0l-3.0 3.0l-3.0 -3.0zM727.7 107.5l3.0 3.0l-3.0 3.0l-3.0 -3.0zM730.2 111.3l3.0 3.0l-3.0 3.0l-3.0 -3.0zM731.5 116.4l3.0 3.0l-3.0 3.0l-3.0 -3.0zM732.8 120.2l3.0 3.0l-3.0 3.0l-3.0 -3.0zM735.3 124.0l3.0 3.0l-3.0 3.0l-3.0 -3.0zM736.6 127.8l3.0 3.0l-3.0 3.0l-3.0 -3.0zM739.1 131.6l3.0 3.0l-3.0 3.0l-3.0 -3.0zM740.4 136.7l3.0 3.0l-3.0 3.0l-3.0 -3.0zM743.0 140.5l3.0 3.0l-3.0 3.0l-3.0 -3.0zM744.2 144.3l3.0 3.0l-3.0 3.0l-3.0 -3.0zM746.8 148.1l3.0 3.0l-3.0 3.0l-3.0 -3.0zM748.0 151.9l3.0 3.0l-3.0 3.0l-3.0 -3.0zM750.6 155.8l3.0 3.0l-3.0 3.0l-3.0 -3.0zM751.8 159.6l3.0 3.0l-3.0 3.0l-3.0 -3.0zM753.1 164.6l3.0 3.0l-3.0 3.0l-3.0 -3.0zM755.6 168.4l3.0 3.0l-3.0 3.0l-3.0 -3.0zM756.9 172.3l3.0 3.0l-3.0 3.0l-3.0 -3.0zM759.5 176.1l3.0 3.0l-3.0 3.0l-3.0 -3.0zM760.7 181.2l3.0 3.0l-3.0 3.0l-3.0 -3.0zM763.3 185.0l3.0 3.0l-3.0 3.0l-3.0 -3.0zM764.5 188.8l3.0 3.0l-3.0 3.0l-3.0 -3.0zM767.1 193.8l3.0 3.0l-3.0 3.0l-3.0 -3.0zM768.4 198.9l3.0 3.0l-3.0 3.0l-3.0 -3.0zM769.6 205.3l3.0 3.0l-3.0 3.0l-3.0 -3.0zM772.2 211.6l3.0 3.0l-3.0 3.0l-3.0 -3.0zM773.4 218.0l3.0 3.0l-3.0 3.0l-3.0 -3.0zM776.0 223.1l3.0 3.0l-3.0 3.0l-3.0 -3.0zM777.2 228.1l3.0 3.0l-3.0 3.0l-3.0 -3.0zM779.8 230.7l3.0 3.0l-3.0 3.0l-3.0 -3.0zM781.0 230.7l3.0 3.0l-3.0 3.0l-3.0 -3.0zM783.6 229.4l3.0 3.0l-3.0 3.0l-3.0 -3.0zM784.9 229.4l3.0 3.0l-3.0 3.0l-3.0 -3.0zM786.1 229.4l3.0 3.0l-3.0 3.0l-3.0 -3.0zM788.7 229.4l3.0 3.0l-3.0 3.0l-3.0 -3.0zM789.9 229.4l3.0 3.0l-3.0 3.0l-3.0 -3.0zM792.5 228.1l3.0 3.0l-3.0 3.0l-3.0 -3.0zM793.8 228.1l3.0 3.0l-3.0 3.0l-3.0 -3.0zM796.3 228.1l3.0 3.0l-3.0 3.0l-3.0 -3.0zM797.6 228.1l3.0 3.0l-3.0 3.0l-3.0 -3.0zM800.1 228.1l3.0 3.0l-3.0 3.0l-3.0 -3.0zM801.4 228.1l3.0 3.0l-3.0 3.0l-3.0 -3.0zM803.9 228.1l3.0 3.0l-3.0 3.0l-3.0 -3.0zM805.2 229.4l3.0 3.0l-3.0 3.0l-3.0 -3.0zM806.5 229.4l3.0 3.0l-3.0 3.0l-3.0 -3.0zM809.0 232.0l3.0 3.0l-3.0 3.0l-3.0 -3.0zM810.3 233.2l3.0 3.0l-3.0 3.0l-3.0 -3.0zM812.8 234.5l3.0 3.0l-3.0 3.0l-3.0 -3.0zM814.1 235.8l3.0 3.0l-3.0 3.0l-3.0 -3.0zM816.6 237.0l3.0 3.0l-3.0 3.0l-3.0 -3.0zM817.9 238.3l3.0 3.0l-3.0 3.0l-3.0 -3.0zM820.4 240.8l3.0 3.0l-3.0 3.0l-3.0 -3.0zM821.7 242.1l3.0 3.0l-3.0 3.0l-3.0 -3.0zM824.2 244.7l3.0 3.0l-3.0 3.0l-3.0 -3.0zM825.5 247.2l3.0 3.0l-3.0 3.0l-3.0 -3.0zM826.8 249.7l3.0 3.0l-3.0 3.0l-3.0 -3.0zM829.3 253.5l3.0 3.0l-3.0 3.0l-3.0 -3.0zM830.6 256.1l3.0 3.0l-3.0 3.0l-3.0 -3.0zM833.1 259.9l3.0 3.0l-3.0 3.0l-3.0 -3.0zM834.4 263.7l3.0 3.0l-3.0 3.0l-3.0 -3.0zM836.9 266.2l3.0 3.0l-3.0 3.0l-3.0 -3.0zM838.2 270.1l3.0 3.0l-3.0 3.0l-3.0 -3.0zM840.7 273.9l3.0 3.0l-3.0 3.0l-3.0 -3.0zM842.0 277.7l3.0 3.0l-3.0 3.0l-3.0 -3.0zM843.3 281.5l3.0 3.0l-3.0 3.0l-3.0 -3.0zM845.8 286.6l3.0 3.0l-3.0 3.0l-3.0 -3.0zM847.1 290.4l3.0 3.0l-3.0 3.0l-3.0 -3.0zM849.6 295.4l3.0 3.0l-3.0 3.0l-3.0 -3.0zM850.9 301.8l3.0 3.0l-3.0 3.0l-3.0 -3.0zM853.4 308.1l3.0 3.0l-3.0 3.0l-3.0 -3.0zM854.7 314.5l3.0 3.0l-3.0 3.0l-3.0 -3.0zM857.2 322.1l3.0 3.0l-3.0 3.0l-3.0 -3.0zM858.5 332.3l3.0 3.0l-3.0 3.0l-3.0 -3.0zM859.8 343.7l3.0 3.0l-3.0 3.0l-3.0 -3.0zM862.3 353.9l3.0 3.0l-3.0 3.0l-3.0 -3.0zM863.6 364.0l3.0 3.0l-3.0 3.0l-3.0 -3.0zM866.1 379.3l3.0 3.0l-3.0 3.0l-3.0 -3.0zM867.4 394.5l3.0 3.0l-3.0 3.0l-3.0 -3.0zM870.0 413.6l3.0 3.0l-3.0 3.0l-3.0 -3.0zM871.2 428.8l3.0 3.0l-3.0 3.0l-3.0 -3.0zM872.5 435.2l3.0 3.0l-3.0 3.0l-3.0 -3.0zM861.1 65.6l3.0 3.0l-3.0 3.0l-3.0 -3.0zM862.3 66.8l3.0 3.0l-3.0 3.0l-3.0 -3.0zM864.9 68.1l3.0 3.0l-3.0 3.0l-3.0 -3.0zM866.1 70.7l3.0 3.0l-3.0 3.0l-3.0 -3.0zM868.7 71.9l3.0 3.0l-3.0 3.0l-3.0 -3.0zM870.0 73.2l3.0 3.0l-3.0 3.0l-3.0 -3.0zM872.5 74.5l3.0 3.0l-3.0 3.0l-3.0 -3.0zM872.5 74.5l3.0 3.0l-3.0 3.0l-3.0 -3.0zM933.5 530.4l3.0 3.0l-3.0 3.0l-3.0 -3.0zM936.0 511.4l3.0 3.0l-3.0 3.0l-3.0 -3.0zM937.3 488.5l3.0 3.0l-3.0 3.0l-3.0 -3.0zM939.8 475.8l3.0 3.0l-3.0 3.0l-3.0 -3.0zM941.1 461.8l3.0 3.0l-3.0 3.0l-3.0 -3.0zM942.3 450.4l3.0 3.0l-3.0 3.0l-3.0 -3.0zM944.9 442.8l3.0 3.0l-3.0 3.0l-3.0 -3.0zM946.1 433.9l3.0 3.0l-3.0 3.0l-3.0 -3.0zM948.7 423.7l3.0 3.0l-3.0 3.0l-3.0 -3.0zM950.0 417.4l3.0 3.0l-3.0 3.0l-3.0 -3.0zM952.5 412.3l3.0 3.0l-3.0 3.0l-3.0 -3.0zM953.8 404.7l3.0 3.0l-3.0 3.0l-3.0 -3.0zM956.3 394.5l3.0 3.0l-3.0 3.0l-3.0 -3.0zM957.6 386.9l3.0 3.0l-3.0 3.0l-3.0 -3.0zM958.9 381.8l3.0 3.0l-3.0 3.0l-3.0 -3.0zM961.4 378.0l3.0 3.0l-3.0 3.0l-3.0 -3.0zM962.7 374.2l3.0 3.0l-3.0 3.0l-3.0 -3.0zM965.2 371.6l3.0 3.0l-3.0 3.0l-3.0 -3.0zM966.5 367.8l3.0 3.0l-3.0 3.0l-3.0 -3.0zM969.0 365.3l3.0 3.0l-3.0 3.0l-3.0 -3.0zM970.3 361.5l3.0 3.0l-3.0 3.0l-3.0 -3.0zM972.8 358.9l3.0 3.0l-3.0 3.0l-3.0 -3.0zM974.1 356.4l3.0 3.0l-3.0 3.0l-3.0 -3.0zM975.4 352.6l3.0 3.0l-3.0 3.0l-3.0 -3.0zM977.9 350.1l3.0 3.0l-3.0 3.0l-3.0 -3.0zM979.2 347.5l3.0 3.0l-3.0 3.0l-3.0 -3.0zM981.7 345.0l3.0 3.0l-3.0 3.0l-3.0 -3.0zM983.0 343.7l3.0 3.0l-3.0 3.0l-3.0 -3.0zM985.5 341.2l3.0 3.0l-3.0 3.0l-3.0 -3.0zM986.8 339.9l3.0 3.0l-3.0 3.0l-3.0 -3.0zM989.3 338.6l3.0 3.0l-3.0 3.0l-3.0 -3.0zM990.6 337.4l3.0 3.0l-3.0 3.0l-3.0 -3.0zM993.1 336.1l3.0 3.0l-3.0 3.0l-3.0 -3.0zM994.4 334.8l3.0 3.0l-3.0 3.0l-3.0 -3.0zM995.7 334.8l3.0 3.0l-3.0 3.0l-3.0 -3.0zM998.2 333.6l3.0 3.0l-3.0 3.0l-3.0 -3.0zM999.5 333.6l3.0 3.0l-3.0 3.0l-3.0 -3.0zM1002.0 333.6l3.0 3.0l-3.0 3.0l-3.0 -3.0zM1003.3 333.6l3.0 3.0l-3.0 3.0l-3.0 -3.0zM1005.8 333.6l3.0 3.0l-3.0 3.0l-3.0 -3.0zM1007.1 333.6l3.0 3.0l-3.0 3.0l-3.0 -3.0zM956.3 588.8l3.0 3.0l-3.0 3.0l-3.0 -3.0zM957.6 553.3l3.0 3.0l-3.0 3.0l-3.0 -3.0zM958.9 532.9l3.0 3.0l-3.0 3.0l-3.0 -3.0zM961.4 516.4l3.0 3.0l-3.0 3.0l-3.0 -3.0zM962.7 505.0l3.0 3.0l-3.0 3.0l-3.0 -3.0zM965.2 494.8l3.0 3.0l-3.0 3.0l-3.0 -3.0zM966.5 487.2l3.0 3.0l-3.0 3.0l-3.0 -3.0zM969.0 479.6l3.0 3.0l-3.0 3.0l-3.0 -3.0zM970.3 473.2l3.0 3.0l-3.0 3.0l-3.0 -3.0zM971.6 465.6l3.0 3.0l-3.0 3.0l-3.0 -3.0zM974.1 459.3l3.0 3.0l-3.0 3.0l-3.0 -3.0zM975.4 455.5l3.0 3.0l-3.0 3.0l-3.0 -3.0zM977.9 451.7l3.0 3.0l-3.0 3.0l-3.0 -3.0zM979.2 449.1l3.0 3.0l-3.0 3.0l-3.0 -3.0zM981.7 445.3l3.0 3.0l-3.0 3.0l-3.0 -3.0zM983.0 442.8l3.0 3.0l-3.0 3.0l-3.0 -3.0zM985.5 437.7l3.0 3.0l-3.0 3.0l-3.0 -3.0zM986.8 432.6l3.0 3.0l-3.0 3.0l-3.0 -3.0zM989.3 426.3l3.0 3.0l-3.0 3.0l-3.0 -3.0zM990.6 419.9l3.0 3.0l-3.0 3.0l-3.0 -3.0zM991.9 416.1l3.0 3.0l-3.0 3.0l-3.0 -3.0zM994.4 414.8l3.0 3.0l-3.0 3.0l-3.0 -3.0zM995.7 412.3l3.0 3.0l-3.0 3.0l-3.0 -3.0zM998.2 409.8l3.0 3.0l-3.0 3.0l-3.0 -3.0zM999.5 407.2l3.0 3.0l-3.0 3.0l-3.0 -3.0zM1002.0 404.7l3.0 3.0l-3.0 3.0l-3.0 -3.0zM1003.3 404.7l3.0 3.0l-3.0 3.0l-3.0 -3.0zM1005.8 403.4l3.0 3.0l-3.0 3.0l-3.0 -3.0zM1007.1 403.4l3.0 3.0l-3.0 3.0l-3.0 -3.0zM880.1 412.3l3.0 3.0l-3.0 3.0l-3.0 -3.0zM882.6 407.2l3.0 3.0l-3.0 3.0l-3.0 -3.0zM883.9 402.1l3.0 3.0l-3.0 3.0l-3.0 -3.0zM886.5 399.6l3.0 3.0l-3.0 3.0l-3.0 -3.0zM887.7 397.1l3.0 3.0l-3.0 3.0l-3.0 -3.0zM890.3 394.5l3.0 3.0l-3.0 3.0l-3.0 -3.0zM891.5 393.2l3.0 3.0l-3.0 3.0l-3.0 -3.0zM894.1 390.7l3.0 3.0l-3.0 3.0l-3.0 -3.0zM895.4 388.2l3.0 3.0l-3.0 3.0l-3.0 -3.0zM896.6 386.9l3.0 3.0l-3.0 3.0l-3.0 -3.0zM899.2 385.6l3.0 3.0l-3.0 3.0l-3.0 -3.0zM900.4 384.4l3.0 3.0l-3.0 3.0l-3.0 -3.0zM903.0 383.1l3.0 3.0l-3.0 3.0l-3.0 -3.0zM904.2 383.1l3.0 3.0l-3.0 3.0l-3.0 -3.0zM906.8 381.8l3.0 3.0l-3.0 3.0l-3.0 -3.0zM908.1 381.8l3.0 3.0l-3.0 3.0l-3.0 -3.0zM910.6 381.8l3.0 3.0l-3.0 3.0l-3.0 -3.0zM911.9 381.8l3.0 3.0l-3.0 3.0l-3.0 -3.0zM914.4 381.8l3.0 3.0l-3.0 3.0l-3.0 -3.0zM915.7 381.8l3.0 3.0l-3.0 3.0l-3.0 -3.0zM918.2 381.8l3.0 3.0l-3.0 3.0l-3.0 -3.0zM919.5 381.8l3.0 3.0l-3.0 3.0l-3.0 -3.0zM920.8 381.8l3.0 3.0l-3.0 3.0l-3.0 -3.0zM923.3 381.8l3.0 3.0l-3.0 3.0l-3.0 -3.0zM924.6 381.8l3.0 3.0l-3.0 3.0l-3.0 -3.0zM927.1 383.1l3.0 3.0l-3.0 3.0l-3.0 -3.0zM928.4 383.1l3.0 3.0l-3.0 3.0l-3.0 -3.0zM930.9 383.1l3.0 3.0l-3.0 3.0l-3.0 -3.0zM932.2 384.4l3.0 3.0l-3.0 3.0l-3.0 -3.0zM934.7 384.4l3.0 3.0l-3.0 3.0l-3.0 -3.0zM936.0 385.6l3.0 3.0l-3.0 3.0l-3.0 -3.0zM938.5 385.6l3.0 3.0l-3.0 3.0l-3.0 -3.0zM939.8 386.9l3.0 3.0l-3.0 3.0l-3.0 -3.0zM941.1 388.2l3.0 3.0l-3.0 3.0l-3.0 -3.0zM943.6 389.4l3.0 3.0l-3.0 3.0l-3.0 -3.0zM944.9 390.7l3.0 3.0l-3.0 3.0l-3.0 -3.0zM947.4 390.7l3.0 3.0l-3.0 3.0l-3.0 -3.0zM948.7 392.0l3.0 3.0l-3.0 3.0l-3.0 -3.0zM951.2 393.2l3.0 3.0l-3.0 3.0l-3.0 -3.0zM952.5 394.5l3.0 3.0l-3.0 3.0l-3.0 -3.0zM955.0 395.8l3.0 3.0l-3.0 3.0l-3.0 -3.0zM956.3 397.1l3.0 3.0l-3.0 3.0l-3.0 -3.0zM958.9 398.3l3.0 3.0l-3.0 3.0l-3.0 -3.0zM960.1 399.6l3.0 3.0l-3.0 3.0l-3.0 -3.0zM961.4 400.9l3.0 3.0l-3.0 3.0l-3.0 -3.0zM963.9 403.4l3.0 3.0l-3.0 3.0l-3.0 -3.0zM965.2 405.9l3.0 3.0l-3.0 3.0l-3.0 -3.0zM967.7 407.2l3.0 3.0l-3.0 3.0l-3.0 -3.0zM969.0 409.8l3.0 3.0l-3.0 3.0l-3.0 -3.0zM971.6 412.3l3.0 3.0l-3.0 3.0l-3.0 -3.0zM972.8 414.8l3.0 3.0l-3.0 3.0l-3.0 -3.0zM975.4 418.6l3.0 3.0l-3.0 3.0l-3.0 -3.0zM976.6 421.2l3.0 3.0l-3.0 3.0l-3.0 -3.0zM979.2 425.0l3.0 3.0l-3.0 3.0l-3.0 -3.0zM980.4 428.8l3.0 3.0l-3.0 3.0l-3.0 -3.0zM981.7 433.9l3.0 3.0l-3.0 3.0l-3.0 -3.0zM984.2 439.0l3.0 3.0l-3.0 3.0l-3.0 -3.0zM985.5 444.0l3.0 3.0l-3.0 3.0l-3.0 -3.0zM988.1 449.1l3.0 3.0l-3.0 3.0l-3.0 -3.0zM989.3 454.2l3.0 3.0l-3.0 3.0l-3.0 -3.0zM991.9 459.3l3.0 3.0l-3.0 3.0l-3.0 -3.0zM993.1 465.6l3.0 3.0l-3.0 3.0l-3.0 -3.0zM995.7 472.0l3.0 3.0l-3.0 3.0l-3.0 -3.0zM997.0 478.3l3.0 3.0l-3.0 3.0l-3.0 -3.0zM998.2 489.8l3.0 3.0l-3.0 3.0l-3.0 -3.0zM1000.8 499.9l3.0 3.0l-3.0 3.0l-3.0 -3.0zM1002.0 510.1l3.0 3.0l-3.0 3.0l-3.0 -3.0zM1004.6 517.7l3.0 3.0l-3.0 3.0l-3.0 -3.0zM1005.8 524.0l3.0 3.0l-3.0 3.0l-3.0 -3.0zM1007.1 525.3l3.0 3.0l-3.0 3.0l-3.0 -3.0zM873.8 466.9l3.0 3.0l-3.0 3.0l-3.0 -3.0zM876.3 519.0l3.0 3.0l-3.0 3.0l-3.0 -3.0zM91.4 512.6l3.0 3.0l-3.0 3.0l-3.0 -3.0zM428.0 507.5l3.0 3.0l-3.0 3.0l-3.0 -3.0zM381.0 590.1l3.0 3.0l-3.0 3.0l-3.0 -3.0zM382.3 600.2l3.0 3.0l-3.0 3.0l-3.0 -3.0zM433.1 573.6l3.0 3.0l-3.0 3.0l-3.0 -3.0zM873.8 13.5l3.0 3.0l-3.0 3.0l-3.0 -3.0zM1005.8 105.0l3.0 3.0l-3.0 3.0l-3.0 -3.0zM1003.3 118.9l3.0 3.0l-3.0 3.0l-3.0 -3.0zM1002.0 138.0l3.0 3.0l-3.0 3.0l-3.0 -3.0zM998.2 173.5l3.0 3.0l-3.0 3.0l-3.0 -3.0zM997.0 195.1l3.0 3.0l-3.0 3.0l-3.0 -3.0zM993.1 215.4l3.0 3.0l-3.0 3.0l-3.0 -3.0zM991.9 239.6l3.0 3.0l-3.0 3.0l-3.0 -3.0zM990.6 265.0l3.0 3.0l-3.0 3.0l-3.0 -3.0zM1005.8 211.6l3.0 3.0l-3.0 3.0l-3.0 -3.0zM988.1 290.4l3.0 3.0l-3.0 3.0l-3.0 -3.0zM985.5 317.0l3.0 3.0l-3.0 3.0l-3.0 -3.0zM983.0 390.7l3.0 3.0l-3.0 3.0l-3.0 -3.0zM943.6 502.5l3.0 3.0l-3.0 3.0l-3.0 -3.0zM979.2 498.7l3.0 3.0l-3.0 3.0l-3.0 -3.0zM958.9 532.9l3.0 3.0l-3.0 3.0l-3.0 -3.0zM944.9 553.3l3.0 3.0l-3.0 3.0l-3.0 -3.0zM957.6 553.3l3.0 3.0l-3.0 3.0l-3.0 -3.0zM932.2 564.7l3.0 3.0l-3.0 3.0l-3.0 -3.0zM872.5 450.4l3.0 3.0l-3.0 3.0l-3.0 -3.0zM929.6 358.9l3.0 3.0l-3.0 3.0l-3.0 -3.0zM934.7 403.4l3.0 3.0l-3.0 3.0l-3.0 -3.0zM876.3 366.6l3.0 3.0l-3.0 3.0l-3.0 -3.0zM881.4 411.0l3.0 3.0l-3.0 3.0l-3.0 -3.0zM880.1 418.6l3.0 3.0l-3.0 3.0l-3.0 -3.0zM876.3 427.5l3.0 3.0l-3.0 3.0l-3.0 -3.0zM875.0 442.8l3.0 3.0l-3.0 3.0l-3.0 -3.0z" fill="#000"/>
<line x1="93.8" y1="623" x2="468.7" y2="623" stroke="#00f" stroke-width="9.6" stroke-linecap="round"/>
<line x1="671.3" y1="623" x2="725.6" y2="623" stroke="#00f" stroke-width="9.6" stroke-linecap="round"/>
<line x1="877.8" y1="623" x2="929.8" y2="623" stroke="#00f" stroke-width="9.6" stroke-linecap="round"/>
<line x1="946.5" y1="623" x2="976.8" y2="623" stroke="#00f" stroke-width="9.6" stroke-linecap="round"/>
<rect x="92" y="615.8" width="125" height="10" fill="#f00"/>
<rect x="217" y="615.8" width="85" height="6.6" fill="#f00"/>
<rect x="131" y="613.3" width="220" height="6.4" fill="#f00"/>
<path d="M130.8 612.1h2.6v2.6h-2.6zM132.0 612.1h2.6v2.6h-2.6zM134.6 612.1h2.6v2.6h-2.6zM135.9 612.1h2.6v2.6h-2.6zM138.4 610.8h2.6v2.6h-2.6zM139.7 610.8h2.6v2.6h-2.6zM142.2 610.8h2.6v2.6h-2.6zM143.5 610.8h2.6v2.6h-2.6zM146.0 610.8h2.6v2.6h-2.6zM147.3 610.8h2.6v2.6h-2.6zM148.6 609.6h2.6v2.6h-2.6zM151.1 609.6h2.6v2.6h-2.6zM152.4 609.6h2.6v2.6h-2.6zM154.9 609.6h2.6v2.6h-2.6zM156.2 609.6h2.6v2.6h-2.6zM158.7 609.6h2.6v2.6h-2.6zM160.0 609.6h2.6v2.6h-2.6zM162.5 608.3h2.6v2.6h-2.6zM163.8 608.3h2.6v2.6h-2.6zM165.1 608.3h2.6v2.6h-2.6zM167.6 608.3h2.6v2.6h-2.6zM168.9 608.3h2.6v2.6h-2.6zM171.4 608.3h2.6v2.6h-2.6zM172.7 608.3h2.6v2.6h-2.6zM175.2 608.3h2.6v2.6h-2.6zM176.5 607.0h2.6v2.6h-2.6zM179.0 607.0h2.6v2.6h-2.6zM180.3 607.0h2.6v2.6h-2.6zM182.8 607.0h2.6v2.6h-2.6zM184.1 607.0h2.6v2.6h-2.6zM185.4 607.0h2.6v2.6h-2.6zM187.9 605.8h2.6v2.6h-2.6zM189.2 605.8h2.6v2.6h-2.6zM191.7 605.8h2.6v2.6h-2.6zM193.0 605.8h2.6v2.6h-2.6zM195.5 605.8h2.6v2.6h-2.6zM196.8 604.5h2.6v2.6h-2.6zM199.4 604.5h2.6v2.6h-2.6zM200.6 604.5h2.6v2.6h-2.6zM201.9 604.5h2.6v2.6h-2.6zM204.4 603.2h2.6v2.6h-2.6zM205.7 603.2h2.6v2.6h-2.6zM208.2 602.0h2.6v2.6h-2.6zM209.5 602.0h2.6v2.6h-2.6zM212.1 600.7h2.6v2.6h-2.6zM213.3 599.4h2.6v2.6h-2.6zM215.9 599.4h2.6v2.6h-2.6zM217.1 598.1h2.6v2.6h-2.6zM219.7 596.9h2.6v2.6h-2.6zM220.9 595.6h2.6v2.6h-2.6zM223.5 594.3h2.6v2.6h-2.6zM224.8 593.1h2.6v2.6h-2.6zM226.0 590.5h2.6v2.6h-2.6zM228.6 588.0h2.6v2.6h-2.6zM229.8 585.4h2.6v2.6h-2.6zM232.4 581.6h2.6v2.6h-2.6zM233.7 577.8h2.6v2.6h-2.6zM236.2 572.7h2.6v2.6h-2.6zM237.5 566.4h2.6v2.6h-2.6zM240.0 561.3h2.6v2.6h-2.6zM241.3 557.5h2.6v2.6h-2.6zM242.5 553.7h2.6v2.6h-2.6zM245.1 549.9h2.6v2.6h-2.6zM246.3 546.1h2.6v2.6h-2.6zM248.9 542.3h2.6v2.6h-2.6zM250.2 538.5h2.6v2.6h-2.6zM252.7 535.9h2.6v2.6h-2.6zM254.0 532.1h2.6v2.6h-2.6zM256.5 528.3h2.6v2.6h-2.6zM257.8 525.8h2.6v2.6h-2.6zM259.1 523.2h2.6v2.6h-2.6zM261.6 521.9h2.6v2.6h-2.6zM262.9 520.7h2.6v2.6h-2.6zM265.4 519.4h2.6v2.6h-2.6zM266.7 518.1h2.6v2.6h-2.6zM269.2 516.9h2.6v2.6h-2.6zM270.5 516.9h2.6v2.6h-2.6zM273.0 515.6h2.6v2.6h-2.6zM274.3 515.6h2.6v2.6h-2.6zM276.8 514.3h2.6v2.6h-2.6zM278.1 514.3h2.6v2.6h-2.6zM280.6 514.3h2.6v2.6h-2.6zM281.9 514.3h2.6v2.6h-2.6zM283.2 514.3h2.6v2.6h-2.6zM285.7 514.3h2.6v2.6h-2.6zM287.0 515.6h2.6v2.6h-2.6zM289.5 515.6h2.6v2.6h-2.6zM290.8 516.9h2.6v2.6h-2.6zM293.3 516.9h2.6v2.6h-2.6zM294.6 518.1h2.6v2.6h-2.6zM297.1 519.4h2.6v2.6h-2.6zM298.4 520.7h2.6v2.6h-2.6zM299.7 523.2h2.6v2.6h-2.6zM302.2 524.5h2.6v2.6h-2.6zM303.5 527.0h2.6v2.6h-2.6zM306.0 529.6h2.6v2.6h-2.6zM307.3 532.1h2.6v2.6h-2.6zM309.8 534.6h2.6v2.6h-2.6zM311.1 537.2h2.6v2.6h-2.6zM313.7 539.7h2.6v2.6h-2.6zM314.9 542.3h2.6v2.6h-2.6zM317.5 546.1h2.6v2.6h-2.6zM318.7 548.6h2.6v2.6h-2.6zM320.0 552.4h2.6v2.6h-2.6zM322.6 555.0h2.6v2.6h-2.6zM323.8 558.8h2.6v2.6h-2.6zM326.4 561.3h2.6v2.6h-2.6zM327.6 563.9h2.6v2.6h-2.6zM330.2 566.4h2.6v2.6h-2.6zM331.4 568.9h2.6v2.6h-2.6zM334.0 571.5h2.6v2.6h-2.6zM335.2 575.3h2.6v2.6h-2.6zM336.5 577.8h2.6v2.6h-2.6zM339.1 580.4h2.6v2.6h-2.6zM340.3 582.9h2.6v2.6h-2.6zM342.9 585.4h2.6v2.6h-2.6zM344.1 586.7h2.6v2.6h-2.6zM346.7 588.0h2.6v2.6h-2.6zM347.9 589.2h2.6v2.6h-2.6zM350.5 590.5h2.6v2.6h-2.6zM351.8 591.8h2.6v2.6h-2.6zM354.3 593.1h2.6v2.6h-2.6zM355.6 594.3h2.6v2.6h-2.6zM356.8 594.3h2.6v2.6h-2.6zM359.4 595.6h2.6v2.6h-2.6zM360.6 595.6h2.6v2.6h-2.6zM363.2 595.6h2.6v2.6h-2.6zM364.5 596.9h2.6v2.6h-2.6zM367.0 596.9h2.6v2.6h-2.6zM368.3 596.9h2.6v2.6h-2.6zM370.8 596.9h2.6v2.6h-2.6zM372.1 596.9h2.6v2.6h-2.6zM374.6 596.9h2.6v2.6h-2.6zM375.9 596.9h2.6v2.6h-2.6zM377.2 596.9h2.6v2.6h-2.6zM379.7 596.9h2.6v2.6h-2.6zM381.0 596.9h2.6v2.6h-2.6zM383.5 596.9h2.6v2.6h-2.6zM384.8 596.9h2.6v2.6h-2.6zM387.3 595.6h2.6v2.6h-2.6zM388.6 595.6h2.6v2.6h-2.6zM391.1 595.6h2.6v2.6h-2.6zM392.4 594.3h2.6v2.6h-2.6zM394.9 594.3h2.6v2.6h-2.6zM396.2 593.1h2.6v2.6h-2.6zM397.5 591.8h2.6v2.6h-2.6zM400.0 591.8h2.6v2.6h-2.6zM401.3 590.5h2.6v2.6h-2.6zM403.8 589.2h2.6v2.6h-2.6zM405.1 588.0h2.6v2.6h-2.6zM407.6 586.7h2.6v2.6h-2.6zM408.9 584.2h2.6v2.6h-2.6zM411.4 581.6h2.6v2.6h-2.6zM412.7 579.1h2.6v2.6h-2.6zM415.3 574.0h2.6v2.6h-2.6zM416.5 570.2h2.6v2.6h-2.6zM417.8 567.7h2.6v2.6h-2.6zM226.0 574.0h2.6v2.6h-2.6zM228.6 572.7h2.6v2.6h-2.6zM229.8 570.2h2.6v2.6h-2.6zM232.4 567.7h2.6v2.6h-2.6zM233.7 563.9h2.6v2.6h-2.6zM236.2 558.8h2.6v2.6h-2.6zM237.5 553.7h2.6v2.6h-2.6zM240.0 549.9h2.6v2.6h-2.6zM241.3 546.1h2.6v2.6h-2.6zM242.5 542.3h2.6v2.6h-2.6zM245.1 538.5h2.6v2.6h-2.6zM246.3 534.6h2.6v2.6h-2.6zM248.9 530.8h2.6v2.6h-2.6zM250.2 528.3h2.6v2.6h-2.6zM252.7 524.5h2.6v2.6h-2.6zM254.0 521.9h2.6v2.6h-2.6zM256.5 520.7h2.6v2.6h-2.6zM257.8 518.1h2.6v2.6h-2.6zM259.1 515.6h2.6v2.6h-2.6zM261.6 514.3h2.6v2.6h-2.6zM262.9 513.1h2.6v2.6h-2.6zM265.4 511.8h2.6v2.6h-2.6zM266.7 510.5h2.6v2.6h-2.6zM269.2 509.2h2.6v2.6h-2.6zM270.5 509.2h2.6v2.6h-2.6zM273.0 509.2h2.6v2.6h-2.6zM274.3 508.0h2.6v2.6h-2.6zM276.8 508.0h2.6v2.6h-2.6zM278.1 508.0h2.6v2.6h-2.6zM279.4 508.0h2.6v2.6h-2.6zM281.9 508.0h2.6v2.6h-2.6zM283.2 508.0h2.6v2.6h-2.6zM285.7 508.0h2.6v2.6h-2.6zM287.0 509.2h2.6v2.6h-2.6zM289.5 509.2h2.6v2.6h-2.6zM290.8 509.2h2.6v2.6h-2.6zM293.3 510.5h2.6v2.6h-2.6zM294.6 511.8h2.6v2.6h-2.6zM297.1 513.1h2.6v2.6h-2.6zM298.4 514.3h2.6v2.6h-2.6zM299.7 515.6h2.6v2.6h-2.6zM302.2 518.1h2.6v2.6h-2.6zM303.5 519.4h2.6v2.6h-2.6zM306.0 521.9h2.6v2.6h-2.6zM307.3 524.5h2.6v2.6h-2.6zM309.8 525.8h2.6v2.6h-2.6zM311.1 528.3h2.6v2.6h-2.6zM313.7 530.8h2.6v2.6h-2.6zM314.9 534.6h2.6v2.6h-2.6zM317.5 537.2h2.6v2.6h-2.6zM318.7 539.7h2.6v2.6h-2.6zM320.0 543.5h2.6v2.6h-2.6zM322.6 547.3h2.6v2.6h-2.6zM323.8 551.2h2.6v2.6h-2.6zM326.4 555.0h2.6v2.6h-2.6zM327.6 557.5h2.6v2.6h-2.6zM284.4 598.1h2.6v2.6h-2.6zM287.0 598.1h2.6v2.6h-2.6zM288.3 598.1h2.6v2.6h-2.6zM290.8 596.9h2.6v2.6h-2.6zM292.1 596.9h2.6v2.6h-2.6zM293.3 595.6h2.6v2.6h-2.6zM295.9 595.6h2.6v2.6h-2.6zM297.1 594.3h2.6v2.6h-2.6zM299.7 593.1h2.6v2.6h-2.6zM301.0 591.8h2.6v2.6h-2.6zM303.5 590.5h2.6v2.6h-2.6zM304.8 589.2h2.6v2.6h-2.6zM307.3 586.7h2.6v2.6h-2.6zM308.6 585.4h2.6v2.6h-2.6zM311.1 582.9h2.6v2.6h-2.6zM312.4 581.6h2.6v2.6h-2.6zM313.7 579.1h2.6v2.6h-2.6zM316.2 577.8h2.6v2.6h-2.6zM317.5 575.3h2.6v2.6h-2.6zM320.0 572.7h2.6v2.6h-2.6zM321.3 570.2h2.6v2.6h-2.6zM323.8 568.9h2.6v2.6h-2.6zM325.1 566.4h2.6v2.6h-2.6zM327.6 562.6h2.6v2.6h-2.6zM328.9 561.3h2.6v2.6h-2.6zM330.2 558.8h2.6v2.6h-2.6zM332.7 557.5h2.6v2.6h-2.6zM334.0 556.2h2.6v2.6h-2.6zM336.5 556.2h2.6v2.6h-2.6zM337.8 555.0h2.6v2.6h-2.6zM340.3 555.0h2.6v2.6h-2.6zM341.6 553.7h2.6v2.6h-2.6zM344.1 553.7h2.6v2.6h-2.6zM345.4 553.7h2.6v2.6h-2.6zM347.9 552.4h2.6v2.6h-2.6zM349.2 552.4h2.6v2.6h-2.6zM351.8 552.4h2.6v2.6h-2.6zM353.0 552.4h2.6v2.6h-2.6zM354.3 553.7h2.6v2.6h-2.6zM356.8 553.7h2.6v2.6h-2.6zM358.1 553.7h2.6v2.6h-2.6zM360.6 555.0h2.6v2.6h-2.6zM361.9 556.2h2.6v2.6h-2.6zM364.5 558.8h2.6v2.6h-2.6zM365.7 561.3h2.6v2.6h-2.6zM368.3 563.9h2.6v2.6h-2.6zM369.5 566.4h2.6v2.6h-2.6zM370.8 568.9h2.6v2.6h-2.6zM373.3 571.5h2.6v2.6h-2.6zM374.6 572.7h2.6v2.6h-2.6zM377.2 575.3h2.6v2.6h-2.6zM378.4 576.6h2.6v2.6h-2.6zM381.0 579.1h2.6v2.6h-2.6zM382.2 580.4h2.6v2.6h-2.6zM384.8 581.6h2.6v2.6h-2.6zM386.1 582.9h2.6v2.6h-2.6zM388.6 584.2h2.6v2.6h-2.6zM389.9 585.4h2.6v2.6h-2.6zM392.4 585.4h2.6v2.6h-2.6zM393.7 586.7h2.6v2.6h-2.6zM394.9 586.7h2.6v2.6h-2.6zM397.5 586.7h2.6v2.6h-2.6zM398.8 586.7h2.6v2.6h-2.6zM401.3 586.7h2.6v2.6h-2.6zM402.6 585.4h2.6v2.6h-2.6zM405.1 584.2h2.6v2.6h-2.6zM406.4 584.2h2.6v2.6h-2.6zM408.9 581.6h2.6v2.6h-2.6zM410.2 580.4h2.6v2.6h-2.6zM412.7 577.8h2.6v2.6h-2.6zM414.0 574.0h2.6v2.6h-2.6zM415.3 570.2h2.6v2.6h-2.6zM417.8 566.4h2.6v2.6h-2.6zM419.1 561.3h2.6v2.6h-2.6zM420.3 558.8h2.6v2.6h-2.6zM421.6 555.0h2.6v2.6h-2.6zM422.9 551.2h2.6v2.6h-2.6zM422.9 547.3h2.6v2.6h-2.6zM424.1 543.5h2.6v2.6h-2.6zM425.4 539.7h2.6v2.6h-2.6zM425.4 533.4h2.6v2.6h-2.6zM426.7 519.4h2.6v2.6h-2.6zM428.0 487.6h2.6v2.6h-2.6zM264.1 612.1h2.6v2.6h-2.6zM265.4 612.1h2.6v2.6h-2.6zM267.9 610.8h2.6v2.6h-2.6zM269.2 610.8h2.6v2.6h-2.6zM270.5 610.8h2.6v2.6h-2.6zM273.0 610.8h2.6v2.6h-2.6zM274.3 610.8h2.6v2.6h-2.6zM276.8 609.6h2.6v2.6h-2.6zM278.1 609.6h2.6v2.6h-2.6zM280.6 609.6h2.6v2.6h-2.6zM281.9 608.3h2.6v2.6h-2.6zM284.4 608.3h2.6v2.6h-2.6zM285.7 608.3h2.6v2.6h-2.6zM288.3 607.0h2.6v2.6h-2.6zM289.5 607.0h2.6v2.6h-2.6zM292.1 605.8h2.6v2.6h-2.6zM293.3 605.8h2.6v2.6h-2.6zM294.6 604.5h2.6v2.6h-2.6zM297.1 603.2h2.6v2.6h-2.6zM298.4 602.0h2.6v2.6h-2.6zM301.0 600.7h2.6v2.6h-2.6zM302.2 599.4h2.6v2.6h-2.6zM304.8 598.1h2.6v2.6h-2.6zM306.0 596.9h2.6v2.6h-2.6zM308.6 594.3h2.6v2.6h-2.6zM309.8 591.8h2.6v2.6h-2.6zM312.4 590.5h2.6v2.6h-2.6zM313.7 588.0h2.6v2.6h-2.6zM314.9 585.4h2.6v2.6h-2.6zM317.5 584.2h2.6v2.6h-2.6zM318.7 581.6h2.6v2.6h-2.6zM321.3 577.8h2.6v2.6h-2.6zM322.6 575.3h2.6v2.6h-2.6zM325.1 572.7h2.6v2.6h-2.6zM326.4 570.2h2.6v2.6h-2.6zM328.9 567.7h2.6v2.6h-2.6zM330.2 566.4h2.6v2.6h-2.6zM332.7 563.9h2.6v2.6h-2.6zM334.0 563.9h2.6v2.6h-2.6zM335.2 562.6h2.6v2.6h-2.6zM337.8 561.3h2.6v2.6h-2.6zM339.1 561.3h2.6v2.6h-2.6zM341.6 560.0h2.6v2.6h-2.6zM342.9 560.0h2.6v2.6h-2.6zM345.4 560.0h2.6v2.6h-2.6zM346.7 560.0h2.6v2.6h-2.6zM349.2 558.8h2.6v2.6h-2.6zM350.5 560.0h2.6v2.6h-2.6zM353.0 560.0h2.6v2.6h-2.6zM354.3 560.0h2.6v2.6h-2.6zM355.6 561.3h2.6v2.6h-2.6zM358.1 561.3h2.6v2.6h-2.6zM359.4 562.6h2.6v2.6h-2.6zM361.9 563.9h2.6v2.6h-2.6zM363.2 566.4h2.6v2.6h-2.6zM365.7 567.7h2.6v2.6h-2.6zM367.0 570.2h2.6v2.6h-2.6zM369.5 571.5h2.6v2.6h-2.6zM370.8 574.0h2.6v2.6h-2.6zM372.1 575.3h2.6v2.6h-2.6zM374.6 577.8h2.6v2.6h-2.6zM375.9 580.4h2.6v2.6h-2.6zM378.4 581.6h2.6v2.6h-2.6zM379.7 582.9h2.6v2.6h-2.6zM382.2 585.4h2.6v2.6h-2.6zM383.5 586.7h2.6v2.6h-2.6zM386.1 588.0h2.6v2.6h-2.6zM387.3 588.0h2.6v2.6h-2.6zM389.9 589.2h2.6v2.6h-2.6zM391.1 589.2h2.6v2.6h-2.6zM392.4 590.5h2.6v2.6h-2.6zM394.9 590.5h2.6v2.6h-2.6zM396.2 590.5h2.6v2.6h-2.6zM398.8 590.5h2.6v2.6h-2.6zM400.0 590.5h2.6v2.6h-2.6zM402.6 589.2h2.6v2.6h-2.6zM403.8 589.2h2.6v2.6h-2.6zM406.4 588.0h2.6v2.6h-2.6zM407.6 585.4h2.6v2.6h-2.6zM410.2 584.2h2.6v2.6h-2.6zM411.4 581.6h2.6v2.6h-2.6zM412.7 577.8h2.6v2.6h-2.6zM415.3 574.0h2.6v2.6h-2.6zM416.5 571.5h2.6v2.6h-2.6zM425.4 485.1h2.6v2.6h-2.6zM426.7 474.9h2.6v2.6h-2.6zM428.0 466.1h2.6v2.6h-2.6zM428.0 455.9h2.6v2.6h-2.6zM429.2 447.0h2.6v2.6h-2.6zM430.5 439.4h2.6v2.6h-2.6zM431.8 433.0h2.6v2.6h-2.6zM433.0 419.1h2.6v2.6h-2.6zM435.6 406.4h2.6v2.6h-2.6zM436.9 394.9h2.6v2.6h-2.6zM438.1 384.8h2.6v2.6h-2.6zM440.7 375.9h2.6v2.6h-2.6zM441.9 367.0h2.6v2.6h-2.6zM444.5 359.4h2.6v2.6h-2.6zM445.7 353.0h2.6v2.6h-2.6zM448.3 345.4h2.6v2.6h-2.6zM449.6 337.8h2.6v2.6h-2.6zM450.8 331.4h2.6v2.6h-2.6zM453.4 323.8h2.6v2.6h-2.6zM454.6 314.9h2.6v2.6h-2.6zM457.2 307.3h2.6v2.6h-2.6zM458.4 299.7h2.6v2.6h-2.6zM461.0 293.3h2.6v2.6h-2.6zM462.2 287.0h2.6v2.6h-2.6zM464.8 280.6h2.6v2.6h-2.6zM466.1 275.6h2.6v2.6h-2.6zM467.3 270.5h2.6v2.6h-2.6zM469.9 266.7h2.6v2.6h-2.6zM471.1 261.6h2.6v2.6h-2.6zM473.7 257.8h2.6v2.6h-2.6zM474.9 252.7h2.6v2.6h-2.6zM477.5 248.9h2.6v2.6h-2.6zM478.8 245.1h2.6v2.6h-2.6zM481.3 242.5h2.6v2.6h-2.6zM482.6 238.7h2.6v2.6h-2.6zM483.8 234.9h2.6v2.6h-2.6zM486.4 231.1h2.6v2.6h-2.6zM487.6 228.6h2.6v2.6h-2.6zM490.2 224.8h2.6v2.6h-2.6zM491.5 222.2h2.6v2.6h-2.6zM494.0 218.4h2.6v2.6h-2.6zM495.3 215.9h2.6v2.6h-2.6zM497.8 212.1h2.6v2.6h-2.6zM499.1 209.5h2.6v2.6h-2.6zM500.4 205.7h2.6v2.6h-2.6zM502.9 201.9h2.6v2.6h-2.6zM504.2 196.8h2.6v2.6h-2.6zM506.7 193.0h2.6v2.6h-2.6zM508.0 189.2h2.6v2.6h-2.6zM510.5 185.4h2.6v2.6h-2.6zM511.8 181.6h2.6v2.6h-2.6zM514.3 179.0h2.6v2.6h-2.6zM515.6 175.2h2.6v2.6h-2.6zM516.9 171.4h2.6v2.6h-2.6zM519.4 168.9h2.6v2.6h-2.6zM520.7 165.1h2.6v2.6h-2.6zM523.2 162.5h2.6v2.6h-2.6zM524.5 160.0h2.6v2.6h-2.6zM527.0 156.2h2.6v2.6h-2.6zM528.3 153.6h2.6v2.6h-2.6zM530.8 151.1h2.6v2.6h-2.6zM532.1 148.6h2.6v2.6h-2.6zM534.6 146.0h2.6v2.6h-2.6zM535.9 143.5h2.6v2.6h-2.6zM537.2 140.9h2.6v2.6h-2.6zM539.7 139.7h2.6v2.6h-2.6zM541.0 137.1h2.6v2.6h-2.6zM543.5 134.6h2.6v2.6h-2.6zM544.8 133.3h2.6v2.6h-2.6zM547.3 132.0h2.6v2.6h-2.6zM548.6 129.5h2.6v2.6h-2.6zM551.2 128.2h2.6v2.6h-2.6zM552.4 127.0h2.6v2.6h-2.6zM553.7 124.4h2.6v2.6h-2.6zM556.2 123.2h2.6v2.6h-2.6zM557.5 120.6h2.6v2.6h-2.6zM560.0 119.4h2.6v2.6h-2.6zM561.3 116.8h2.6v2.6h-2.6zM563.9 115.5h2.6v2.6h-2.6zM565.1 113.0h2.6v2.6h-2.6zM567.7 111.7h2.6v2.6h-2.6zM568.9 109.2h2.6v2.6h-2.6zM571.5 107.9h2.6v2.6h-2.6zM572.7 105.4h2.6v2.6h-2.6zM574.0 104.1h2.6v2.6h-2.6zM576.6 102.8h2.6v2.6h-2.6zM577.8 100.3h2.6v2.6h-2.6zM580.4 99.0h2.6v2.6h-2.6zM581.6 97.8h2.6v2.6h-2.6zM584.2 95.2h2.6v2.6h-2.6zM585.4 94.0h2.6v2.6h-2.6zM588.0 92.7h2.6v2.6h-2.6zM589.2 91.4h2.6v2.6h-2.6zM590.5 88.9h2.6v2.6h-2.6zM593.1 87.6h2.6v2.6h-2.6zM594.3 86.3h2.6v2.6h-2.6zM596.9 85.1h2.6v2.6h-2.6zM598.1 83.8h2.6v2.6h-2.6zM600.7 82.5h2.6v2.6h-2.6zM602.0 80.0h2.6v2.6h-2.6zM604.5 78.7h2.6v2.6h-2.6zM605.8 77.4h2.6v2.6h-2.6zM608.3 76.2h2.6v2.6h-2.6zM609.6 74.9h2.6v2.6h-2.6zM612.1 73.6h2.6v2.6h-2.6zM613.4 72.4h2.6v2.6h-2.6zM614.7 71.1h2.6v2.6h-2.6zM617.2 69.8h2.6v2.6h-2.6zM618.5 68.5h2.6v2.6h-2.6zM621.0 68.5h2.6v2.6h-2.6zM622.3 67.3h2.6v2.6h-2.6zM624.8 66.0h2.6v2.6h-2.6zM626.1 64.7h2.6v2.6h-2.6zM628.6 63.5h2.6v2.6h-2.6zM629.9 62.2h2.6v2.6h-2.6zM631.2 62.2h2.6v2.6h-2.6zM633.7 60.9h2.6v2.6h-2.6zM635.0 59.7h2.6v2.6h-2.6zM637.5 58.4h2.6v2.6h-2.6zM638.8 57.1h2.6v2.6h-2.6zM641.3 57.1h2.6v2.6h-2.6zM642.6 55.9h2.6v2.6h-2.6zM645.1 54.6h2.6v2.6h-2.6zM646.4 53.3h2.6v2.6h-2.6zM648.9 53.3h2.6v2.6h-2.6zM650.2 52.0h2.6v2.6h-2.6zM652.8 50.8h2.6v2.6h-2.6zM654.0 49.5h2.6v2.6h-2.6zM655.3 49.5h2.6v2.6h-2.6zM657.8 48.2h2.6v2.6h-2.6zM659.1 47.0h2.6v2.6h-2.6zM661.6 47.0h2.6v2.6h-2.6zM662.9 45.7h2.6v2.6h-2.6zM665.5 45.7h2.6v2.6h-2.6zM666.7 44.4h2.6v2.6h-2.6zM669.3 44.4h2.6v2.6h-2.6zM670.5 43.2h2.6v2.6h-2.6zM673.1 43.2h2.6v2.6h-2.6zM674.3 41.9h2.6v2.6h-2.6zM675.6 41.9h2.6v2.6h-2.6zM678.2 40.6h2.6v2.6h-2.6zM679.4 40.6h2.6v2.6h-2.6zM682.0 39.3h2.6v2.6h-2.6zM683.2 39.3h2.6v2.6h-2.6zM685.8 39.3h2.6v2.6h-2.6zM687.0 38.1h2.6v2.6h-2.6zM689.6 38.1h2.6v2.6h-2.6zM690.9 36.8h2.6v2.6h-2.6zM693.4 36.8h2.6v2.6h-2.6zM694.7 35.5h2.6v2.6h-2.6zM697.2 35.5h2.6v2.6h-2.6zM698.5 35.5h2.6v2.6h-2.6zM699.7 35.5h2.6v2.6h-2.6zM702.3 34.3h2.6v2.6h-2.6zM703.6 34.3h2.6v2.6h-2.6zM706.1 34.3h2.6v2.6h-2.6zM707.4 34.3h2.6v2.6h-2.6zM709.9 34.3h2.6v2.6h-2.6zM711.2 34.3h2.6v2.6h-2.6zM713.7 33.0h2.6v2.6h-2.6zM715.0 33.0h2.6v2.6h-2.6zM717.5 33.0h2.6v2.6h-2.6zM718.8 33.0h2.6v2.6h-2.6zM720.1 33.0h2.6v2.6h-2.6zM722.6 33.0h2.6v2.6h-2.6zM723.9 33.0h2.6v2.6h-2.6zM726.4 33.0h2.6v2.6h-2.6zM727.7 33.0h2.6v2.6h-2.6zM730.2 33.0h2.6v2.6h-2.6zM731.5 33.0h2.6v2.6h-2.6zM734.0 33.0h2.6v2.6h-2.6zM735.3 33.0h2.6v2.6h-2.6zM737.8 33.0h2.6v2.6h-2.6zM739.1 33.0h2.6v2.6h-2.6zM740.4 34.3h2.6v2.6h-2.6zM742.9 34.3h2.6v2.6h-2.6zM744.2 34.3h2.6v2.6h-2.6zM746.7 34.3h2.6v2.6h-2.6zM748.0 34.3h2.6v2.6h-2.6zM750.5 35.5h2.6v2.6h-2.6zM751.8 35.5h2.6v2.6h-2.6zM754.4 35.5h2.6v2.6h-2.6zM755.6 36.8h2.6v2.6h-2.6zM758.2 36.8h2.6v2.6h-2.6zM759.4 36.8h2.6v2.6h-2.6zM760.7 38.1h2.6v2.6h-2.6zM763.2 38.1h2.6v2.6h-2.6zM764.5 38.1h2.6v2.6h-2.6zM767.1 39.3h2.6v2.6h-2.6zM768.3 39.3h2.6v2.6h-2.6zM770.9 40.6h2.6v2.6h-2.6zM772.1 40.6h2.6v2.6h-2.6zM774.7 41.9h2.6v2.6h-2.6zM775.9 41.9h2.6v2.6h-2.6zM778.5 43.2h2.6v2.6h-2.6zM779.8 44.4h2.6v2.6h-2.6zM781.0 44.4h2.6v2.6h-2.6zM783.6 45.7h2.6v2.6h-2.6zM784.8 47.0h2.6v2.6h-2.6zM787.4 47.0h2.6v2.6h-2.6zM788.6 48.2h2.6v2.6h-2.6zM791.2 49.5h2.6v2.6h-2.6zM792.5 50.8h2.6v2.6h-2.6zM795.0 52.0h2.6v2.6h-2.6zM796.3 53.3h2.6v2.6h-2.6zM798.8 54.6h2.6v2.6h-2.6zM800.1 55.9h2.6v2.6h-2.6zM801.3 57.1h2.6v2.6h-2.6zM803.9 58.4h2.6v2.6h-2.6zM805.2 59.7h2.6v2.6h-2.6zM807.7 60.9h2.6v2.6h-2.6zM809.0 62.2h2.6v2.6h-2.6zM811.5 63.5h2.6v2.6h-2.6zM812.8 64.7h2.6v2.6h-2.6zM815.3 66.0h2.6v2.6h-2.6zM816.6 67.3h2.6v2.6h-2.6zM819.1 68.5h2.6v2.6h-2.6zM820.4 71.1h2.6v2.6h-2.6zM821.7 72.4h2.6v2.6h-2.6zM824.2 73.6h2.6v2.6h-2.6zM825.5 76.2h2.6v2.6h-2.6zM828.0 77.4h2.6v2.6h-2.6zM829.3 78.7h2.6v2.6h-2.6zM831.8 81.2h2.6v2.6h-2.6zM833.1 82.5h2.6v2.6h-2.6zM835.6 85.1h2.6v2.6h-2.6zM836.9 87.6h2.6v2.6h-2.6zM838.2 88.9h2.6v2.6h-2.6zM840.7 91.4h2.6v2.6h-2.6zM842.0 94.0h2.6v2.6h-2.6zM844.5 96.5h2.6v2.6h-2.6zM845.8 97.8h2.6v2.6h-2.6zM848.3 100.3h2.6v2.6h-2.6zM849.6 102.8h2.6v2.6h-2.6zM852.1 105.4h2.6v2.6h-2.6zM853.4 107.9h2.6v2.6h-2.6zM856.0 111.7h2.6v2.6h-2.6zM857.2 114.3h2.6v2.6h-2.6zM858.5 116.8h2.6v2.6h-2.6zM861.0 119.4h2.6v2.6h-2.6zM862.3 121.9h2.6v2.6h-2.6zM864.8 124.4h2.6v2.6h-2.6zM866.1 128.2h2.6v2.6h-2.6zM868.7 130.8h2.6v2.6h-2.6zM869.9 133.3h2.6v2.6h-2.6zM872.5 137.1h2.6v2.6h-2.6zM873.7 139.7h2.6v2.6h-2.6zM875.0 143.5h2.6v2.6h-2.6zM877.5 147.3h2.6v2.6h-2.6zM878.8 151.1h2.6v2.6h-2.6zM881.4 154.9h2.6v2.6h-2.6zM882.6 158.7h2.6v2.6h-2.6zM885.2 162.5h2.6v2.6h-2.6zM886.4 166.3h2.6v2.6h-2.6zM889.0 171.4h2.6v2.6h-2.6zM890.2 175.2h2.6v2.6h-2.6zM891.5 180.3h2.6v2.6h-2.6zM894.1 184.1h2.6v2.6h-2.6zM895.3 189.2h2.6v2.6h-2.6zM897.9 194.3h2.6v2.6h-2.6zM899.1 199.4h2.6v2.6h-2.6zM901.7 205.7h2.6v2.6h-2.6zM902.9 210.8h2.6v2.6h-2.6zM905.5 215.9h2.6v2.6h-2.6zM906.8 220.9h2.6v2.6h-2.6zM908.0 227.3h2.6v2.6h-2.6zM910.6 234.9h2.6v2.6h-2.6zM911.8 243.8h2.6v2.6h-2.6zM914.4 251.4h2.6v2.6h-2.6zM915.6 259.1h2.6v2.6h-2.6zM918.2 265.4h2.6v2.6h-2.6zM919.5 273.0h2.6v2.6h-2.6zM922.0 283.2h2.6v2.6h-2.6zM923.3 290.8h2.6v2.6h-2.6zM924.5 297.1h2.6v2.6h-2.6zM927.1 306.0h2.6v2.6h-2.6zM928.3 318.7h2.6v2.6h-2.6zM930.9 327.6h2.6v2.6h-2.6zM932.2 339.1h2.6v2.6h-2.6zM934.7 347.9h2.6v2.6h-2.6zM936.0 360.6h2.6v2.6h-2.6zM938.5 367.0h2.6v2.6h-2.6zM938.5 367.0h2.6v2.6h-2.6zM434.3 443.2h2.6v2.6h-2.6zM435.6 436.9h2.6v2.6h-2.6zM435.6 430.5h2.6v2.6h-2.6zM438.1 416.5h2.6v2.6h-2.6zM439.4 402.6h2.6v2.6h-2.6zM441.9 392.4h2.6v2.6h-2.6zM443.2 383.5h2.6v2.6h-2.6zM444.5 374.6h2.6v2.6h-2.6zM447.0 365.7h2.6v2.6h-2.6zM448.3 358.1h2.6v2.6h-2.6zM450.8 350.5h2.6v2.6h-2.6zM452.1 344.1h2.6v2.6h-2.6zM454.6 336.5h2.6v2.6h-2.6zM455.9 330.2h2.6v2.6h-2.6zM458.4 325.1h2.6v2.6h-2.6zM459.7 320.0h2.6v2.6h-2.6zM461.0 313.7h2.6v2.6h-2.6zM463.5 307.3h2.6v2.6h-2.6zM464.8 301.0h2.6v2.6h-2.6zM467.3 294.6h2.6v2.6h-2.6zM468.6 288.3h2.6v2.6h-2.6zM471.1 283.2h2.6v2.6h-2.6zM472.4 278.1h2.6v2.6h-2.6zM474.9 273.0h2.6v2.6h-2.6zM476.2 269.2h2.6v2.6h-2.6zM477.5 264.1h2.6v2.6h-2.6zM480.0 260.3h2.6v2.6h-2.6zM481.3 256.5h2.6v2.6h-2.6zM483.8 252.7h2.6v2.6h-2.6zM485.1 248.9h2.6v2.6h-2.6zM487.6 245.1h2.6v2.6h-2.6zM488.9 242.5h2.6v2.6h-2.6zM491.5 238.7h2.6v2.6h-2.6zM492.7 234.9h2.6v2.6h-2.6zM494.0 232.4h2.6v2.6h-2.6zM496.5 228.6h2.6v2.6h-2.6zM497.8 226.0h2.6v2.6h-2.6zM500.4 223.5h2.6v2.6h-2.6zM501.6 220.9h2.6v2.6h-2.6zM504.2 218.4h2.6v2.6h-2.6zM505.4 214.6h2.6v2.6h-2.6zM508.0 212.1h2.6v2.6h-2.6zM509.2 209.5h2.6v2.6h-2.6zM510.5 205.7h2.6v2.6h-2.6zM513.1 203.2h2.6v2.6h-2.6zM514.3 199.4h2.6v2.6h-2.6zM516.9 195.5h2.6v2.6h-2.6zM518.1 193.0h2.6v2.6h-2.6zM520.7 189.2h2.6v2.6h-2.6zM521.9 186.7h2.6v2.6h-2.6zM524.5 184.1h2.6v2.6h-2.6zM525.8 181.6h2.6v2.6h-2.6zM528.3 179.0h2.6v2.6h-2.6zM529.6 176.5h2.6v2.6h-2.6zM530.8 174.0h2.6v2.6h-2.6zM533.4 171.4h2.6v2.6h-2.6zM534.6 170.1h2.6v2.6h-2.6zM537.2 167.6h2.6v2.6h-2.6zM538.5 166.3h2.6v2.6h-2.6zM541.0 163.8h2.6v2.6h-2.6zM542.3 161.3h2.6v2.6h-2.6zM544.8 160.0h2.6v2.6h-2.6zM546.1 157.4h2.6v2.6h-2.6zM547.3 154.9h2.6v2.6h-2.6zM549.9 153.6h2.6v2.6h-2.6zM551.2 151.1h2.6v2.6h-2.6zM553.7 148.6h2.6v2.6h-2.6zM555.0 146.0h2.6v2.6h-2.6zM557.5 144.8h2.6v2.6h-2.6zM558.8 142.2h2.6v2.6h-2.6zM561.3 140.9h2.6v2.6h-2.6zM562.6 138.4h2.6v2.6h-2.6zM565.1 137.1h2.6v2.6h-2.6zM566.4 134.6h2.6v2.6h-2.6zM567.7 133.3h2.6v2.6h-2.6zM570.2 130.8h2.6v2.6h-2.6zM571.5 129.5h2.6v2.6h-2.6zM574.0 128.2h2.6v2.6h-2.6zM575.3 127.0h2.6v2.6h-2.6zM577.8 124.4h2.6v2.6h-2.6zM579.1 123.2h2.6v2.6h-2.6zM581.6 121.9h2.6v2.6h-2.6zM582.9 120.6h2.6v2.6h-2.6zM585.4 118.1h2.6v2.6h-2.6zM586.7 116.8h2.6v2.6h-2.6zM588.0 115.5h2.6v2.6h-2.6zM590.5 114.3h2.6v2.6h-2.6zM591.8 113.0h2.6v2.6h-2.6zM594.3 111.7h2.6v2.6h-2.6zM595.6 110.5h2.6v2.6h-2.6zM598.1 109.2h2.6v2.6h-2.6zM599.4 107.9h2.6v2.6h-2.6zM602.0 106.7h2.6v2.6h-2.6zM603.2 105.4h2.6v2.6h-2.6zM605.8 104.1h2.6v2.6h-2.6zM607.0 102.8h2.6v2.6h-2.6zM608.3 101.6h2.6v2.6h-2.6zM610.8 100.3h2.6v2.6h-2.6zM612.1 99.0h2.6v2.6h-2.6zM614.7 97.8h2.6v2.6h-2.6zM615.9 96.5h2.6v2.6h-2.6zM618.5 95.2h2.6v2.6h-2.6zM619.7 94.0h2.6v2.6h-2.6zM622.3 94.0h2.6v2.6h-2.6zM623.5 92.7h2.6v2.6h-2.6zM624.8 91.4h2.6v2.6h-2.6zM627.4 90.1h2.6v2.6h-2.6zM628.6 88.9h2.6v2.6h-2.6zM631.2 88.9h2.6v2.6h-2.6zM632.4 87.6h2.6v2.6h-2.6zM635.0 86.3h2.6v2.6h-2.6zM636.2 85.1h2.6v2.6h-2.6zM638.8 85.1h2.6v2.6h-2.6zM640.1 83.8h2.6v2.6h-2.6zM642.6 82.5h2.6v2.6h-2.6zM643.9 81.2h2.6v2.6h-2.6zM646.4 80.0h2.6v2.6h-2.6zM647.7 80.0h2.6v2.6h-2.6zM648.9 78.7h2.6v2.6h-2.6zM651.5 77.4h2.6v2.6h-2.6zM652.8 76.2h2.6v2.6h-2.6zM655.3 76.2h2.6v2.6h-2.6zM656.6 74.9h2.6v2.6h-2.6zM659.1 73.6h2.6v2.6h-2.6zM660.4 73.6h2.6v2.6h-2.6zM662.9 72.4h2.6v2.6h-2.6zM664.2 72.4h2.6v2.6h-2.6zM666.7 71.1h2.6v2.6h-2.6zM668.0 71.1h2.6v2.6h-2.6zM670.5 69.8h2.6v2.6h-2.6zM671.8 69.8h2.6v2.6h-2.6zM673.1 68.5h2.6v2.6h-2.6zM675.6 68.5h2.6v2.6h-2.6zM676.9 68.5h2.6v2.6h-2.6zM679.4 67.3h2.6v2.6h-2.6zM680.7 67.3h2.6v2.6h-2.6zM683.2 66.0h2.6v2.6h-2.6zM684.5 66.0h2.6v2.6h-2.6zM687.0 64.7h2.6v2.6h-2.6zM688.3 64.7h2.6v2.6h-2.6zM690.9 63.5h2.6v2.6h-2.6zM692.1 63.5h2.6v2.6h-2.6zM694.7 63.5h2.6v2.6h-2.6zM695.9 62.2h2.6v2.6h-2.6zM698.5 62.2h2.6v2.6h-2.6zM699.7 62.2h2.6v2.6h-2.6zM701.0 62.2h2.6v2.6h-2.6zM703.6 60.9h2.6v2.6h-2.6zM704.8 60.9h2.6v2.6h-2.6zM707.4 60.9h2.6v2.6h-2.6zM708.6 60.9h2.6v2.6h-2.6zM711.2 60.9h2.6v2.6h-2.6zM712.4 60.9h2.6v2.6h-2.6zM715.0 60.9h2.6v2.6h-2.6zM716.2 60.9h2.6v2.6h-2.6zM717.5 60.9h2.6v2.6h-2.6zM720.1 60.9h2.6v2.6h-2.6zM721.3 60.9h2.6v2.6h-2.6zM723.9 60.9h2.6v2.6h-2.6zM725.1 60.9h2.6v2.6h-2.6zM727.7 60.9h2.6v2.6h-2.6zM729.0 60.9h2.6v2.6h-2.6zM731.5 60.9h2.6v2.6h-2.6zM732.8 60.9h2.6v2.6h-2.6zM735.3 60.9h2.6v2.6h-2.6zM736.6 60.9h2.6v2.6h-2.6zM737.8 60.9h2.6v2.6h-2.6zM740.4 60.9h2.6v2.6h-2.6zM741.7 60.9h2.6v2.6h-2.6zM744.2 62.2h2.6v2.6h-2.6zM745.5 62.2h2.6v2.6h-2.6zM748.0 62.2h2.6v2.6h-2.6zM749.3 63.5h2.6v2.6h-2.6zM751.8 63.5h2.6v2.6h-2.6zM753.1 63.5h2.6v2.6h-2.6zM755.6 64.7h2.6v2.6h-2.6zM756.9 64.7h2.6v2.6h-2.6zM758.2 66.0h2.6v2.6h-2.6zM760.7 66.0h2.6v2.6h-2.6zM762.0 67.3h2.6v2.6h-2.6zM764.5 67.3h2.6v2.6h-2.6zM765.8 68.5h2.6v2.6h-2.6zM768.3 69.8h2.6v2.6h-2.6zM769.6 69.8h2.6v2.6h-2.6zM772.1 71.1h2.6v2.6h-2.6zM773.4 71.1h2.6v2.6h-2.6zM775.9 72.4h2.6v2.6h-2.6zM777.2 73.6h2.6v2.6h-2.6zM778.5 73.6h2.6v2.6h-2.6zM781.0 74.9h2.6v2.6h-2.6zM782.3 76.2h2.6v2.6h-2.6zM784.8 76.2h2.6v2.6h-2.6zM786.1 77.4h2.6v2.6h-2.6zM788.6 78.7h2.6v2.6h-2.6zM789.9 80.0h2.6v2.6h-2.6zM792.5 81.2h2.6v2.6h-2.6zM793.7 82.5h2.6v2.6h-2.6zM796.3 83.8h2.6v2.6h-2.6zM797.5 83.8h2.6v2.6h-2.6zM798.8 85.1h2.6v2.6h-2.6zM801.3 86.3h2.6v2.6h-2.6zM802.6 87.6h2.6v2.6h-2.6zM805.2 90.1h2.6v2.6h-2.6zM806.4 91.4h2.6v2.6h-2.6zM809.0 92.7h2.6v2.6h-2.6zM810.2 94.0h2.6v2.6h-2.6zM812.8 95.2h2.6v2.6h-2.6zM814.0 96.5h2.6v2.6h-2.6zM816.6 97.8h2.6v2.6h-2.6zM817.9 100.3h2.6v2.6h-2.6zM819.1 101.6h2.6v2.6h-2.6zM821.7 102.8h2.6v2.6h-2.6zM822.9 104.1h2.6v2.6h-2.6zM825.5 106.7h2.6v2.6h-2.6zM826.7 107.9h2.6v2.6h-2.6zM829.3 110.5h2.6v2.6h-2.6zM830.6 111.7h2.6v2.6h-2.6zM833.1 114.3h2.6v2.6h-2.6zM834.4 115.5h2.6v2.6h-2.6zM836.9 118.1h2.6v2.6h-2.6zM838.2 119.4h2.6v2.6h-2.6zM839.4 121.9h2.6v2.6h-2.6zM842.0 124.4h2.6v2.6h-2.6zM843.3 127.0h2.6v2.6h-2.6zM845.8 129.5h2.6v2.6h-2.6zM847.1 132.0h2.6v2.6h-2.6zM849.6 134.6h2.6v2.6h-2.6zM850.9 138.4h2.6v2.6h-2.6zM853.4 140.9h2.6v2.6h-2.6zM854.7 143.5h2.6v2.6h-2.6zM856.0 146.0h2.6v2.6h-2.6zM858.5 148.6h2.6v2.6h-2.6zM859.8 149.8h2.6v2.6h-2.6zM859.8 151.1h2.6v2.6h-2.6zM861.0 152.4h2.6v2.6h-2.6zM862.3 153.6h2.6v2.6h-2.6zM863.6 154.9h2.6v2.6h-2.6zM863.6 157.4h2.6v2.6h-2.6zM864.8 158.7h2.6v2.6h-2.6zM866.1 160.0h2.6v2.6h-2.6zM866.1 162.5h2.6v2.6h-2.6zM867.4 163.8h2.6v2.6h-2.6zM868.7 165.1h2.6v2.6h-2.6zM869.9 167.6h2.6v2.6h-2.6zM869.9 168.9h2.6v2.6h-2.6zM871.2 170.1h2.6v2.6h-2.6zM872.5 171.4h2.6v2.6h-2.6zM873.7 174.0h2.6v2.6h-2.6zM873.7 175.2h2.6v2.6h-2.6zM875.0 176.5h2.6v2.6h-2.6zM876.3 177.8h2.6v2.6h-2.6zM876.3 180.3h2.6v2.6h-2.6zM877.5 181.6h2.6v2.6h-2.6zM878.8 184.1h2.6v2.6h-2.6zM880.1 185.4h2.6v2.6h-2.6zM880.1 187.9h2.6v2.6h-2.6zM881.4 190.5h2.6v2.6h-2.6zM882.6 191.7h2.6v2.6h-2.6zM883.9 194.3h2.6v2.6h-2.6zM883.9 196.8h2.6v2.6h-2.6zM885.2 199.4h2.6v2.6h-2.6zM886.4 201.9h2.6v2.6h-2.6zM886.4 203.2h2.6v2.6h-2.6zM887.7 205.7h2.6v2.6h-2.6zM889.0 208.2h2.6v2.6h-2.6zM890.2 210.8h2.6v2.6h-2.6zM890.2 213.3h2.6v2.6h-2.6zM891.5 215.9h2.6v2.6h-2.6zM892.8 218.4h2.6v2.6h-2.6zM894.1 220.9h2.6v2.6h-2.6zM894.1 223.5h2.6v2.6h-2.6zM895.3 226.0h2.6v2.6h-2.6zM896.6 228.6h2.6v2.6h-2.6zM896.6 231.1h2.6v2.6h-2.6zM897.9 234.9h2.6v2.6h-2.6zM899.1 237.5h2.6v2.6h-2.6zM900.4 241.3h2.6v2.6h-2.6zM900.4 243.8h2.6v2.6h-2.6zM901.7 247.6h2.6v2.6h-2.6zM902.9 250.2h2.6v2.6h-2.6zM904.2 254.0h2.6v2.6h-2.6zM904.2 257.8h2.6v2.6h-2.6zM905.5 260.3h2.6v2.6h-2.6zM906.8 264.1h2.6v2.6h-2.6zM906.8 267.9h2.6v2.6h-2.6zM908.0 270.5h2.6v2.6h-2.6zM909.3 271.8h2.6v2.6h-2.6zM910.6 274.3h2.6v2.6h-2.6zM910.6 275.6h2.6v2.6h-2.6zM911.8 278.1h2.6v2.6h-2.6zM913.1 281.9h2.6v2.6h-2.6zM914.4 285.7h2.6v2.6h-2.6zM915.6 292.1h2.6v2.6h-2.6zM916.9 299.7h2.6v2.6h-2.6zM919.5 308.6h2.6v2.6h-2.6zM920.7 318.7h2.6v2.6h-2.6zM923.3 326.4h2.6v2.6h-2.6zM924.5 339.1h2.6v2.6h-2.6zM927.1 346.7h2.6v2.6h-2.6zM928.3 355.6h2.6v2.6h-2.6zM929.6 365.7h2.6v2.6h-2.6zM930.9 365.7h2.6v2.6h-2.6zM424.1 538.5h2.6v2.6h-2.6zM425.4 535.9h2.6v2.6h-2.6zM426.7 534.6h2.6v2.6h-2.6zM426.7 532.1h2.6v2.6h-2.6zM428.0 530.8h2.6v2.6h-2.6zM429.2 528.3h2.6v2.6h-2.6zM429.2 525.8h2.6v2.6h-2.6zM430.5 521.9h2.6v2.6h-2.6zM431.8 518.1h2.6v2.6h-2.6zM433.0 513.1h2.6v2.6h-2.6zM433.0 509.2h2.6v2.6h-2.6zM434.3 505.4h2.6v2.6h-2.6zM435.6 500.4h2.6v2.6h-2.6zM435.6 494.0h2.6v2.6h-2.6zM436.9 480.0h2.6v2.6h-2.6zM438.1 455.9h2.6v2.6h-2.6zM439.4 440.7h2.6v2.6h-2.6zM439.4 435.6h2.6v2.6h-2.6zM440.7 430.5h2.6v2.6h-2.6zM443.2 424.1h2.6v2.6h-2.6zM444.5 417.8h2.6v2.6h-2.6zM445.7 410.2h2.6v2.6h-2.6zM448.3 403.8h2.6v2.6h-2.6zM449.6 396.2h2.6v2.6h-2.6zM452.1 389.9h2.6v2.6h-2.6zM453.4 384.8h2.6v2.6h-2.6zM455.9 379.7h2.6v2.6h-2.6zM457.2 374.6h2.6v2.6h-2.6zM459.7 370.8h2.6v2.6h-2.6zM461.0 367.0h2.6v2.6h-2.6zM462.2 363.2h2.6v2.6h-2.6zM464.8 360.6h2.6v2.6h-2.6zM466.1 358.1h2.6v2.6h-2.6zM468.6 354.3h2.6v2.6h-2.6zM469.9 351.8h2.6v2.6h-2.6zM472.4 349.2h2.6v2.6h-2.6zM473.7 346.7h2.6v2.6h-2.6zM476.2 344.1h2.6v2.6h-2.6zM477.5 341.6h2.6v2.6h-2.6zM478.8 340.3h2.6v2.6h-2.6zM481.3 339.1h2.6v2.6h-2.6zM482.6 336.5h2.6v2.6h-2.6zM485.1 335.2h2.6v2.6h-2.6zM486.4 332.7h2.6v2.6h-2.6zM488.9 331.4h2.6v2.6h-2.6zM490.2 330.2h2.6v2.6h-2.6zM492.7 328.9h2.6v2.6h-2.6zM494.0 326.4h2.6v2.6h-2.6zM496.5 325.1h2.6v2.6h-2.6zM497.8 323.8h2.6v2.6h-2.6zM499.1 322.6h2.6v2.6h-2.6zM501.6 321.3h2.6v2.6h-2.6zM502.9 321.3h2.6v2.6h-2.6zM505.4 320.0h2.6v2.6h-2.6zM506.7 320.0h2.6v2.6h-2.6zM509.2 318.7h2.6v2.6h-2.6zM510.5 318.7h2.6v2.6h-2.6zM513.1 318.7h2.6v2.6h-2.6zM514.3 317.5h2.6v2.6h-2.6zM516.9 317.5h2.6v2.6h-2.6zM518.1 317.5h2.6v2.6h-2.6zM519.4 317.5h2.6v2.6h-2.6zM521.9 317.5h2.6v2.6h-2.6zM523.2 317.5h2.6v2.6h-2.6zM525.8 317.5h2.6v2.6h-2.6zM527.0 317.5h2.6v2.6h-2.6zM529.6 317.5h2.6v2.6h-2.6zM530.8 317.5h2.6v2.6h-2.6zM533.4 317.5h2.6v2.6h-2.6zM534.6 317.5h2.6v2.6h-2.6zM537.2 317.5h2.6v2.6h-2.6zM538.5 317.5h2.6v2.6h-2.6zM541.0 318.7h2.6v2.6h-2.6zM542.3 318.7h2.6v2.6h-2.6zM543.5 318.7h2.6v2.6h-2.6zM546.1 320.0h2.6v2.6h-2.6zM547.3 320.0h2.6v2.6h-2.6zM549.9 321.3h2.6v2.6h-2.6zM551.2 321.3h2.6v2.6h-2.6zM553.7 322.6h2.6v2.6h-2.6zM555.0 322.6h2.6v2.6h-2.6zM557.5 323.8h2.6v2.6h-2.6zM558.8 325.1h2.6v2.6h-2.6zM561.3 325.1h2.6v2.6h-2.6zM562.6 326.4h2.6v2.6h-2.6zM563.9 327.6h2.6v2.6h-2.6zM566.4 327.6h2.6v2.6h-2.6zM567.7 328.9h2.6v2.6h-2.6zM570.2 330.2h2.6v2.6h-2.6zM571.5 331.4h2.6v2.6h-2.6zM574.0 332.7h2.6v2.6h-2.6zM575.3 334.0h2.6v2.6h-2.6zM577.8 335.2h2.6v2.6h-2.6zM579.1 336.5h2.6v2.6h-2.6zM581.6 337.8h2.6v2.6h-2.6zM582.9 340.3h2.6v2.6h-2.6zM584.2 341.6h2.6v2.6h-2.6zM586.7 342.9h2.6v2.6h-2.6zM588.0 345.4h2.6v2.6h-2.6zM590.5 346.7h2.6v2.6h-2.6zM591.8 349.2h2.6v2.6h-2.6zM594.3 350.5h2.6v2.6h-2.6zM595.6 353.0h2.6v2.6h-2.6zM598.1 354.3h2.6v2.6h-2.6zM599.4 356.8h2.6v2.6h-2.6zM602.0 358.1h2.6v2.6h-2.6zM603.2 360.6h2.6v2.6h-2.6zM604.5 363.2h2.6v2.6h-2.6zM607.0 364.5h2.6v2.6h-2.6zM608.3 367.0h2.6v2.6h-2.6zM610.8 369.5h2.6v2.6h-2.6zM612.1 373.3h2.6v2.6h-2.6zM614.7 375.9h2.6v2.6h-2.6zM615.9 378.4h2.6v2.6h-2.6zM618.5 381.0h2.6v2.6h-2.6zM619.7 384.8h2.6v2.6h-2.6zM621.0 388.6h2.6v2.6h-2.6zM623.5 392.4h2.6v2.6h-2.6zM624.8 396.2h2.6v2.6h-2.6zM627.4 400.0h2.6v2.6h-2.6zM628.6 403.8h2.6v2.6h-2.6zM631.2 406.4h2.6v2.6h-2.6zM632.4 410.2h2.6v2.6h-2.6zM635.0 414.0h2.6v2.6h-2.6zM636.2 417.8h2.6v2.6h-2.6zM637.5 421.6h2.6v2.6h-2.6zM638.8 424.1h2.6v2.6h-2.6zM640.1 425.4h2.6v2.6h-2.6zM641.3 428.0h2.6v2.6h-2.6zM641.3 430.5h2.6v2.6h-2.6zM642.6 433.0h2.6v2.6h-2.6zM643.9 434.3h2.6v2.6h-2.6zM645.1 436.9h2.6v2.6h-2.6zM645.1 439.4h2.6v2.6h-2.6zM646.4 441.9h2.6v2.6h-2.6zM647.7 443.2h2.6v2.6h-2.6zM647.7 445.7h2.6v2.6h-2.6zM648.9 448.3h2.6v2.6h-2.6zM650.2 450.8h2.6v2.6h-2.6zM651.5 453.4h2.6v2.6h-2.6zM651.5 455.9h2.6v2.6h-2.6zM652.8 458.4h2.6v2.6h-2.6zM654.0 461.0h2.6v2.6h-2.6zM655.3 463.5h2.6v2.6h-2.6zM655.3 466.1h2.6v2.6h-2.6zM656.6 468.6h2.6v2.6h-2.6zM657.8 471.1h2.6v2.6h-2.6zM657.8 473.7h2.6v2.6h-2.6zM659.1 477.5h2.6v2.6h-2.6zM660.4 480.0h2.6v2.6h-2.6zM661.6 483.8h2.6v2.6h-2.6zM661.6 487.6h2.6v2.6h-2.6zM662.9 491.5h2.6v2.6h-2.6zM664.2 496.5h2.6v2.6h-2.6zM665.5 500.4h2.6v2.6h-2.6zM665.5 504.2h2.6v2.6h-2.6zM666.7 508.0h2.6v2.6h-2.6zM668.0 510.5h2.6v2.6h-2.6zM668.0 514.3h2.6v2.6h-2.6zM669.3 516.9h2.6v2.6h-2.6zM670.5 519.4h2.6v2.6h-2.6zM671.8 525.8h2.6v2.6h-2.6zM674.3 530.8h2.6v2.6h-2.6zM675.6 534.6h2.6v2.6h-2.6zM678.2 538.5h2.6v2.6h-2.6zM679.4 541.0h2.6v2.6h-2.6zM682.0 543.5h2.6v2.6h-2.6zM683.2 546.1h2.6v2.6h-2.6zM684.5 548.6h2.6v2.6h-2.6zM687.0 549.9h2.6v2.6h-2.6zM688.3 549.9h2.6v2.6h-2.6zM690.9 551.2h2.6v2.6h-2.6zM692.1 551.2h2.6v2.6h-2.6zM694.7 551.2h2.6v2.6h-2.6zM695.9 551.2h2.6v2.6h-2.6zM698.5 549.9h2.6v2.6h-2.6zM699.7 548.6h2.6v2.6h-2.6zM702.3 547.3h2.6v2.6h-2.6zM703.6 544.8h2.6v2.6h-2.6zM706.1 541.0h2.6v2.6h-2.6zM707.4 537.2h2.6v2.6h-2.6zM708.6 532.1h2.6v2.6h-2.6zM711.2 525.8h2.6v2.6h-2.6zM712.4 515.6h2.6v2.6h-2.6zM713.7 510.5h2.6v2.6h-2.6zM441.9 483.8h2.6v2.6h-2.6zM443.2 476.2h2.6v2.6h-2.6zM443.2 469.9h2.6v2.6h-2.6zM444.5 463.5h2.6v2.6h-2.6zM447.0 454.6h2.6v2.6h-2.6zM448.3 445.7h2.6v2.6h-2.6zM449.6 436.9h2.6v2.6h-2.6zM452.1 428.0h2.6v2.6h-2.6zM453.4 421.6h2.6v2.6h-2.6zM455.9 415.3h2.6v2.6h-2.6zM457.2 410.2h2.6v2.6h-2.6zM459.7 406.4h2.6v2.6h-2.6zM461.0 403.8h2.6v2.6h-2.6zM463.5 400.0h2.6v2.6h-2.6zM464.8 397.5h2.6v2.6h-2.6zM466.1 393.7h2.6v2.6h-2.6zM468.6 389.9h2.6v2.6h-2.6zM469.9 384.8h2.6v2.6h-2.6zM472.4 381.0h2.6v2.6h-2.6zM473.7 375.9h2.6v2.6h-2.6zM476.2 372.1h2.6v2.6h-2.6zM477.5 368.3h2.6v2.6h-2.6zM480.0 364.5h2.6v2.6h-2.6zM481.3 360.6h2.6v2.6h-2.6zM482.6 358.1h2.6v2.6h-2.6zM485.1 355.6h2.6v2.6h-2.6zM486.4 353.0h2.6v2.6h-2.6zM488.9 350.5h2.6v2.6h-2.6zM490.2 347.9h2.6v2.6h-2.6zM492.7 346.7h2.6v2.6h-2.6zM494.0 344.1h2.6v2.6h-2.6zM496.5 342.9h2.6v2.6h-2.6zM497.8 341.6h2.6v2.6h-2.6zM500.4 340.3h2.6v2.6h-2.6zM501.6 339.1h2.6v2.6h-2.6zM502.9 337.8h2.6v2.6h-2.6zM505.4 336.5h2.6v2.6h-2.6zM506.7 336.5h2.6v2.6h-2.6zM509.2 335.2h2.6v2.6h-2.6zM510.5 334.0h2.6v2.6h-2.6zM513.1 334.0h2.6v2.6h-2.6zM514.3 332.7h2.6v2.6h-2.6zM516.9 332.7h2.6v2.6h-2.6zM518.1 331.4h2.6v2.6h-2.6zM519.4 331.4h2.6v2.6h-2.6zM521.9 330.2h2.6v2.6h-2.6zM523.2 330.2h2.6v2.6h-2.6zM525.8 330.2h2.6v2.6h-2.6zM527.0 328.9h2.6v2.6h-2.6zM529.6 328.9h2.6v2.6h-2.6zM530.8 328.9h2.6v2.6h-2.6zM533.4 328.9h2.6v2.6h-2.6zM534.6 328.9h2.6v2.6h-2.6zM537.2 328.9h2.6v2.6h-2.6zM538.5 328.9h2.6v2.6h-2.6zM541.0 328.9h2.6v2.6h-2.6zM542.3 328.9h2.6v2.6h-2.6zM543.5 328.9h2.6v2.6h-2.6zM546.1 330.2h2.6v2.6h-2.6zM547.3 330.2h2.6v2.6h-2.6zM549.9 331.4h2.6v2.6h-2.6zM551.2 331.4h2.6v2.6h-2.6zM553.7 332.7h2.6v2.6h-2.6zM555.0 332.7h2.6v2.6h-2.6zM557.5 334.0h2.6v2.6h-2.6zM558.8 334.0h2.6v2.6h-2.6zM561.3 335.2h2.6v2.6h-2.6zM562.6 336.5h2.6v2.6h-2.6zM563.9 336.5h2.6v2.6h-2.6zM566.4 337.8h2.6v2.6h-2.6zM567.7 339.1h2.6v2.6h-2.6zM570.2 340.3h2.6v2.6h-2.6zM571.5 340.3h2.6v2.6h-2.6zM574.0 341.6h2.6v2.6h-2.6zM575.3 342.9h2.6v2.6h-2.6zM577.8 344.1h2.6v2.6h-2.6zM579.1 345.4h2.6v2.6h-2.6zM581.6 346.7h2.6v2.6h-2.6zM582.9 347.9h2.6v2.6h-2.6zM584.2 349.2h2.6v2.6h-2.6zM586.7 350.5h2.6v2.6h-2.6zM588.0 351.8h2.6v2.6h-2.6zM590.5 353.0h2.6v2.6h-2.6zM591.8 354.3h2.6v2.6h-2.6zM594.3 355.6h2.6v2.6h-2.6zM595.6 358.1h2.6v2.6h-2.6zM598.1 359.4h2.6v2.6h-2.6zM599.4 360.6h2.6v2.6h-2.6zM602.0 361.9h2.6v2.6h-2.6zM603.2 364.5h2.6v2.6h-2.6zM604.5 365.7h2.6v2.6h-2.6zM607.0 368.3h2.6v2.6h-2.6zM608.3 370.8h2.6v2.6h-2.6zM610.8 373.3h2.6v2.6h-2.6zM612.1 375.9h2.6v2.6h-2.6zM614.7 378.4h2.6v2.6h-2.6zM615.9 381.0h2.6v2.6h-2.6zM618.5 384.8h2.6v2.6h-2.6zM619.7 387.3h2.6v2.6h-2.6zM621.0 391.1h2.6v2.6h-2.6zM623.5 393.7h2.6v2.6h-2.6zM624.8 397.5h2.6v2.6h-2.6zM627.4 401.3h2.6v2.6h-2.6zM628.6 405.1h2.6v2.6h-2.6zM631.2 408.9h2.6v2.6h-2.6zM632.4 412.7h2.6v2.6h-2.6zM635.0 416.5h2.6v2.6h-2.6zM636.2 420.3h2.6v2.6h-2.6zM638.8 424.1h2.6v2.6h-2.6zM638.8 425.4h2.6v2.6h-2.6zM640.1 428.0h2.6v2.6h-2.6zM641.3 430.5h2.6v2.6h-2.6zM641.3 431.8h2.6v2.6h-2.6zM642.6 434.3h2.6v2.6h-2.6zM643.9 435.6h2.6v2.6h-2.6zM349.2 613.4h2.6v2.6h-2.6zM350.5 613.4h2.6v2.6h-2.6zM351.8 613.4h2.6v2.6h-2.6zM354.3 613.4h2.6v2.6h-2.6zM355.6 613.4h2.6v2.6h-2.6zM358.1 613.4h2.6v2.6h-2.6zM359.4 613.4h2.6v2.6h-2.6zM361.9 613.4h2.6v2.6h-2.6zM363.2 613.4h2.6v2.6h-2.6zM365.7 613.4h2.6v2.6h-2.6zM367.0 613.4h2.6v2.6h-2.6zM369.5 613.4h2.6v2.6h-2.6zM370.8 613.4h2.6v2.6h-2.6zM373.3 613.4h2.6v2.6h-2.6zM374.6 613.4h2.6v2.6h-2.6zM375.9 613.4h2.6v2.6h-2.6zM378.4 613.4h2.6v2.6h-2.6zM379.7 613.4h2.6v2.6h-2.6zM382.2 613.4h2.6v2.6h-2.6zM383.5 613.4h2.6v2.6h-2.6zM386.1 613.4h2.6v2.6h-2.6zM387.3 613.4h2.6v2.6h-2.6zM389.9 613.4h2.6v2.6h-2.6zM391.1 612.1h2.6v2.6h-2.6zM393.7 612.1h2.6v2.6h-2.6zM394.9 612.1h2.6v2.6h-2.6zM396.2 612.1h2.6v2.6h-2.6zM398.8 612.1h2.6v2.6h-2.6zM400.0 612.1h2.6v2.6h-2.6zM402.6 612.1h2.6v2.6h-2.6zM403.8 612.1h2.6v2.6h-2.6zM406.4 610.8h2.6v2.6h-2.6zM407.6 610.8h2.6v2.6h-2.6zM410.2 610.8h2.6v2.6h-2.6zM411.4 610.8h2.6v2.6h-2.6zM412.7 610.8h2.6v2.6h-2.6zM415.3 610.8h2.6v2.6h-2.6zM416.5 609.6h2.6v2.6h-2.6zM419.1 609.6h2.6v2.6h-2.6zM420.3 609.6h2.6v2.6h-2.6zM422.9 608.3h2.6v2.6h-2.6zM424.1 608.3h2.6v2.6h-2.6zM426.7 608.3h2.6v2.6h-2.6zM428.0 607.0h2.6v2.6h-2.6zM430.5 607.0h2.6v2.6h-2.6zM431.8 607.0h2.6v2.6h-2.6zM434.3 605.8h2.6v2.6h-2.6zM435.6 605.8h2.6v2.6h-2.6zM436.9 604.5h2.6v2.6h-2.6zM439.4 604.5h2.6v2.6h-2.6zM440.7 603.2h2.6v2.6h-2.6zM443.2 603.2h2.6v2.6h-2.6zM444.5 602.0h2.6v2.6h-2.6zM447.0 600.7h2.6v2.6h-2.6zM448.3 600.7h2.6v2.6h-2.6zM450.8 599.4h2.6v2.6h-2.6zM452.1 598.1h2.6v2.6h-2.6zM454.6 595.6h2.6v2.6h-2.6zM455.9 594.3h2.6v2.6h-2.6zM457.2 591.8h2.6v2.6h-2.6zM459.7 589.2h2.6v2.6h-2.6zM461.0 586.7h2.6v2.6h-2.6zM463.5 582.9h2.6v2.6h-2.6zM464.8 580.4h2.6v2.6h-2.6zM467.3 576.6h2.6v2.6h-2.6zM468.6 572.7h2.6v2.6h-2.6zM471.1 568.9h2.6v2.6h-2.6zM472.4 565.1h2.6v2.6h-2.6zM473.7 561.3h2.6v2.6h-2.6zM476.2 558.8h2.6v2.6h-2.6zM477.5 555.0h2.6v2.6h-2.6zM480.0 549.9h2.6v2.6h-2.6zM481.3 546.1h2.6v2.6h-2.6zM483.8 542.3h2.6v2.6h-2.6zM485.1 538.5h2.6v2.6h-2.6zM487.6 534.6h2.6v2.6h-2.6zM488.9 530.8h2.6v2.6h-2.6zM490.2 527.0h2.6v2.6h-2.6zM492.7 523.2h2.6v2.6h-2.6zM494.0 520.7h2.6v2.6h-2.6zM496.5 516.9h2.6v2.6h-2.6zM497.8 514.3h2.6v2.6h-2.6zM500.4 510.5h2.6v2.6h-2.6zM501.6 508.0h2.6v2.6h-2.6zM504.2 505.4h2.6v2.6h-2.6zM505.4 502.9h2.6v2.6h-2.6zM506.7 499.1h2.6v2.6h-2.6zM509.2 496.5h2.6v2.6h-2.6zM510.5 494.0h2.6v2.6h-2.6zM513.1 491.5h2.6v2.6h-2.6zM514.3 490.2h2.6v2.6h-2.6zM516.9 487.6h2.6v2.6h-2.6zM518.1 485.1h2.6v2.6h-2.6zM520.7 482.6h2.6v2.6h-2.6zM521.9 480.0h2.6v2.6h-2.6zM524.5 478.8h2.6v2.6h-2.6zM525.8 476.2h2.6v2.6h-2.6zM527.0 473.7h2.6v2.6h-2.6zM529.6 472.4h2.6v2.6h-2.6zM530.8 469.9h2.6v2.6h-2.6zM533.4 468.6h2.6v2.6h-2.6zM534.6 466.1h2.6v2.6h-2.6zM537.2 464.8h2.6v2.6h-2.6zM538.5 463.5h2.6v2.6h-2.6zM541.0 461.0h2.6v2.6h-2.6zM542.3 459.7h2.6v2.6h-2.6zM543.5 458.4h2.6v2.6h-2.6zM546.1 457.2h2.6v2.6h-2.6zM547.3 455.9h2.6v2.6h-2.6zM549.9 453.4h2.6v2.6h-2.6zM551.2 452.1h2.6v2.6h-2.6zM553.7 450.8h2.6v2.6h-2.6zM555.0 449.6h2.6v2.6h-2.6zM557.5 448.3h2.6v2.6h-2.6zM558.8 447.0h2.6v2.6h-2.6zM561.3 445.7h2.6v2.6h-2.6zM562.6 444.5h2.6v2.6h-2.6zM563.9 441.9h2.6v2.6h-2.6zM566.4 440.7h2.6v2.6h-2.6zM567.7 439.4h2.6v2.6h-2.6zM570.2 438.1h2.6v2.6h-2.6zM571.5 435.6h2.6v2.6h-2.6zM574.0 434.3h2.6v2.6h-2.6zM575.3 433.0h2.6v2.6h-2.6zM577.8 431.8h2.6v2.6h-2.6zM579.1 430.5h2.6v2.6h-2.6zM580.4 428.0h2.6v2.6h-2.6zM582.9 426.7h2.6v2.6h-2.6zM584.2 425.4h2.6v2.6h-2.6zM586.7 424.1h2.6v2.6h-2.6zM588.0 422.9h2.6v2.6h-2.6zM590.5 421.6h2.6v2.6h-2.6zM591.8 420.3h2.6v2.6h-2.6zM594.3 419.1h2.6v2.6h-2.6zM595.6 417.8h2.6v2.6h-2.6zM598.1 416.5h2.6v2.6h-2.6zM599.4 415.3h2.6v2.6h-2.6zM600.7 414.0h2.6v2.6h-2.6zM603.2 412.7h2.6v2.6h-2.6zM604.5 411.4h2.6v2.6h-2.6zM607.0 410.2h2.6v2.6h-2.6zM608.3 408.9h2.6v2.6h-2.6zM610.8 407.6h2.6v2.6h-2.6zM612.1 406.4h2.6v2.6h-2.6zM614.7 405.1h2.6v2.6h-2.6zM615.9 405.1h2.6v2.6h-2.6zM618.5 403.8h2.6v2.6h-2.6zM619.7 402.6h2.6v2.6h-2.6zM621.0 401.3h2.6v2.6h-2.6zM623.5 400.0h2.6v2.6h-2.6zM624.8 398.8h2.6v2.6h-2.6zM627.4 397.5h2.6v2.6h-2.6zM628.6 397.5h2.6v2.6h-2.6zM631.2 396.2h2.6v2.6h-2.6zM632.4 394.9h2.6v2.6h-2.6zM635.0 393.7h2.6v2.6h-2.6zM636.2 392.4h2.6v2.6h-2.6zM638.8 391.1h2.6v2.6h-2.6zM640.1 391.1h2.6v2.6h-2.6zM641.3 389.9h2.6v2.6h-2.6zM643.9 388.6h2.6v2.6h-2.6zM645.1 387.3h2.6v2.6h-2.6zM647.7 386.1h2.6v2.6h-2.6zM648.9 386.1h2.6v2.6h-2.6zM651.5 384.8h2.6v2.6h-2.6zM652.8 383.5h2.6v2.6h-2.6zM655.3 382.2h2.6v2.6h-2.6zM656.6 382.2h2.6v2.6h-2.6zM657.8 381.0h2.6v2.6h-2.6zM660.4 379.7h2.6v2.6h-2.6zM661.6 379.7h2.6v2.6h-2.6zM664.2 378.4h2.6v2.6h-2.6zM665.5 377.2h2.6v2.6h-2.6zM668.0 375.9h2.6v2.6h-2.6zM669.3 375.9h2.6v2.6h-2.6zM671.8 374.6h2.6v2.6h-2.6zM673.1 373.3h2.6v2.6h-2.6zM675.6 373.3h2.6v2.6h-2.6zM676.9 372.1h2.6v2.6h-2.6zM678.2 370.8h2.6v2.6h-2.6zM680.7 370.8h2.6v2.6h-2.6zM682.0 369.5h2.6v2.6h-2.6zM684.5 368.3h2.6v2.6h-2.6zM685.8 368.3h2.6v2.6h-2.6zM688.3 367.0h2.6v2.6h-2.6zM689.6 365.7h2.6v2.6h-2.6zM692.1 365.7h2.6v2.6h-2.6zM693.4 364.5h2.6v2.6h-2.6zM695.9 364.5h2.6v2.6h-2.6zM697.2 363.2h2.6v2.6h-2.6zM698.5 361.9h2.6v2.6h-2.6zM701.0 361.9h2.6v2.6h-2.6zM702.3 360.6h2.6v2.6h-2.6zM704.8 360.6h2.6v2.6h-2.6zM706.1 359.4h2.6v2.6h-2.6zM708.6 358.1h2.6v2.6h-2.6zM709.9 356.8h2.6v2.6h-2.6zM712.4 356.8h2.6v2.6h-2.6zM713.7 355.6h2.6v2.6h-2.6zM716.2 354.3h2.6v2.6h-2.6zM717.5 353.0h2.6v2.6h-2.6zM718.8 353.0h2.6v2.6h-2.6zM721.3 351.8h2.6v2.6h-2.6zM722.6 350.5h2.6v2.6h-2.6zM725.1 349.2h2.6v2.6h-2.6zM726.4 349.2h2.6v2.6h-2.6zM729.0 347.9h2.6v2.6h-2.6zM730.2 346.7h2.6v2.6h-2.6zM732.8 345.4h2.6v2.6h-2.6zM734.0 344.1h2.6v2.6h-2.6zM736.6 344.1h2.6v2.6h-2.6zM737.8 342.9h2.6v2.6h-2.6zM739.1 341.6h2.6v2.6h-2.6zM741.7 340.3h2.6v2.6h-2.6zM742.9 339.1h2.6v2.6h-2.6zM745.5 337.8h2.6v2.6h-2.6zM746.7 336.5h2.6v2.6h-2.6zM749.3 335.2h2.6v2.6h-2.6zM750.5 334.0h2.6v2.6h-2.6zM753.1 332.7h2.6v2.6h-2.6zM754.4 331.4h2.6v2.6h-2.6zM756.9 330.2h2.6v2.6h-2.6zM758.2 328.9h2.6v2.6h-2.6zM759.4 327.6h2.6v2.6h-2.6zM762.0 326.4h2.6v2.6h-2.6zM763.2 325.1h2.6v2.6h-2.6zM765.8 323.8h2.6v2.6h-2.6zM767.1 322.6h2.6v2.6h-2.6zM769.6 321.3h2.6v2.6h-2.6zM770.9 320.0h2.6v2.6h-2.6zM773.4 317.5h2.6v2.6h-2.6zM774.7 316.2h2.6v2.6h-2.6zM777.2 313.7h2.6v2.6h-2.6zM778.5 311.1h2.6v2.6h-2.6zM779.8 309.8h2.6v2.6h-2.6zM782.3 307.3h2.6v2.6h-2.6zM783.6 303.5h2.6v2.6h-2.6zM786.1 301.0h2.6v2.6h-2.6zM787.4 297.1h2.6v2.6h-2.6zM789.9 290.8h2.6v2.6h-2.6zM791.2 284.4h2.6v2.6h-2.6zM793.7 279.4h2.6v2.6h-2.6zM795.0 275.6h2.6v2.6h-2.6zM796.3 270.5h2.6v2.6h-2.6zM798.8 267.9h2.6v2.6h-2.6zM800.1 265.4h2.6v2.6h-2.6zM802.6 262.9h2.6v2.6h-2.6zM803.9 261.6h2.6v2.6h-2.6zM806.4 261.6h2.6v2.6h-2.6zM807.7 260.3h2.6v2.6h-2.6zM810.2 260.3h2.6v2.6h-2.6zM811.5 260.3h2.6v2.6h-2.6zM814.0 260.3h2.6v2.6h-2.6zM815.3 261.6h2.6v2.6h-2.6zM816.6 261.6h2.6v2.6h-2.6zM819.1 262.9h2.6v2.6h-2.6zM820.4 264.1h2.6v2.6h-2.6zM822.9 265.4h2.6v2.6h-2.6zM824.2 267.9h2.6v2.6h-2.6zM826.7 269.2h2.6v2.6h-2.6zM828.0 271.8h2.6v2.6h-2.6zM830.6 274.3h2.6v2.6h-2.6zM831.8 276.8h2.6v2.6h-2.6zM833.1 279.4h2.6v2.6h-2.6zM835.6 281.9h2.6v2.6h-2.6zM836.9 285.7h2.6v2.6h-2.6zM839.4 288.3h2.6v2.6h-2.6zM840.7 290.8h2.6v2.6h-2.6zM843.3 294.6h2.6v2.6h-2.6zM844.5 298.4h2.6v2.6h-2.6zM847.1 302.2h2.6v2.6h-2.6zM848.3 307.3h2.6v2.6h-2.6zM849.6 313.7h2.6v2.6h-2.6zM852.1 318.7h2.6v2.6h-2.6zM853.4 325.1h2.6v2.6h-2.6zM856.0 330.2h2.6v2.6h-2.6zM857.2 336.5h2.6v2.6h-2.6zM859.8 342.9h2.6v2.6h-2.6zM861.0 347.9h2.6v2.6h-2.6zM863.6 354.3h2.6v2.6h-2.6zM864.8 360.6h2.6v2.6h-2.6zM866.1 368.3h2.6v2.6h-2.6zM868.7 378.4h2.6v2.6h-2.6zM869.9 393.7h2.6v2.6h-2.6zM872.5 403.8h2.6v2.6h-2.6zM873.7 412.7h2.6v2.6h-2.6zM876.3 419.1h2.6v2.6h-2.6zM877.5 422.9h2.6v2.6h-2.6zM880.1 426.7h2.6v2.6h-2.6zM881.4 429.2h2.6v2.6h-2.6zM882.6 429.2h2.6v2.6h-2.6zM885.2 428.0h2.6v2.6h-2.6zM886.4 421.6h2.6v2.6h-2.6zM889.0 412.7h2.6v2.6h-2.6zM890.2 397.5h2.6v2.6h-2.6zM892.8 392.4h2.6v2.6h-2.6zM894.1 391.1h2.6v2.6h-2.6zM896.6 389.9h2.6v2.6h-2.6zM897.9 388.6h2.6v2.6h-2.6zM900.4 388.6h2.6v2.6h-2.6zM901.7 388.6h2.6v2.6h-2.6zM902.9 388.6h2.6v2.6h-2.6zM905.5 387.3h2.6v2.6h-2.6zM906.8 387.3h2.6v2.6h-2.6zM909.3 387.3h2.6v2.6h-2.6zM910.6 387.3h2.6v2.6h-2.6zM913.1 387.3h2.6v2.6h-2.6zM914.4 387.3h2.6v2.6h-2.6zM916.9 387.3h2.6v2.6h-2.6zM918.2 387.3h2.6v2.6h-2.6zM920.7 387.3h2.6v2.6h-2.6zM922.0 387.3h2.6v2.6h-2.6zM923.3 387.3h2.6v2.6h-2.6zM925.8 388.6h2.6v2.6h-2.6zM927.1 388.6h2.6v2.6h-2.6zM929.6 388.6h2.6v2.6h-2.6zM930.9 388.6h2.6v2.6h-2.6zM933.4 389.9h2.6v2.6h-2.6zM934.7 389.9h2.6v2.6h-2.6zM937.2 391.1h2.6v2.6h-2.6zM938.5 391.1h2.6v2.6h-2.6zM941.0 392.4h2.6v2.6h-2.6zM942.3 393.7h2.6v2.6h-2.6zM943.6 394.9h2.6v2.6h-2.6zM946.1 396.2h2.6v2.6h-2.6zM947.4 397.5h2.6v2.6h-2.6zM949.9 398.8h2.6v2.6h-2.6zM951.2 400.0h2.6v2.6h-2.6zM953.7 400.0h2.6v2.6h-2.6zM955.0 402.6h2.6v2.6h-2.6zM957.6 403.8h2.6v2.6h-2.6zM958.8 405.1h2.6v2.6h-2.6zM961.4 407.6h2.6v2.6h-2.6zM962.6 408.9h2.6v2.6h-2.6zM963.9 411.4h2.6v2.6h-2.6zM966.4 414.0h2.6v2.6h-2.6zM967.7 415.3h2.6v2.6h-2.6zM970.3 417.8h2.6v2.6h-2.6zM971.5 420.3h2.6v2.6h-2.6zM974.1 422.9h2.6v2.6h-2.6zM975.3 425.4h2.6v2.6h-2.6zM977.9 428.0h2.6v2.6h-2.6zM979.1 430.5h2.6v2.6h-2.6zM980.4 434.3h2.6v2.6h-2.6zM983.0 436.9h2.6v2.6h-2.6zM984.2 440.7h2.6v2.6h-2.6zM986.8 444.5h2.6v2.6h-2.6zM988.0 447.0h2.6v2.6h-2.6zM990.6 450.8h2.6v2.6h-2.6zM991.8 453.4h2.6v2.6h-2.6zM994.4 457.2h2.6v2.6h-2.6zM995.7 459.7h2.6v2.6h-2.6zM996.9 463.5h2.6v2.6h-2.6zM999.5 467.3h2.6v2.6h-2.6zM1000.7 472.4h2.6v2.6h-2.6zM1003.3 477.5h2.6v2.6h-2.6zM1004.5 480.0h2.6v2.6h-2.6zM1005.8 481.3h2.6v2.6h-2.6zM453.4 582.9h2.6v2.6h-2.6zM455.9 581.6h2.6v2.6h-2.6zM457.2 579.1h2.6v2.6h-2.6zM458.4 577.8h2.6v2.6h-2.6zM461.0 575.3h2.6v2.6h-2.6zM462.2 572.7h2.6v2.6h-2.6zM464.8 570.2h2.6v2.6h-2.6zM466.1 566.4h2.6v2.6h-2.6zM468.6 562.6h2.6v2.6h-2.6zM469.9 558.8h2.6v2.6h-2.6zM472.4 555.0h2.6v2.6h-2.6zM473.7 549.9h2.6v2.6h-2.6zM474.9 546.1h2.6v2.6h-2.6zM477.5 542.3h2.6v2.6h-2.6zM478.8 537.2h2.6v2.6h-2.6zM481.3 533.4h2.6v2.6h-2.6zM482.6 529.6h2.6v2.6h-2.6zM485.1 527.0h2.6v2.6h-2.6zM486.4 523.2h2.6v2.6h-2.6zM488.9 520.7h2.6v2.6h-2.6zM490.2 516.9h2.6v2.6h-2.6zM491.5 514.3h2.6v2.6h-2.6zM494.0 510.5h2.6v2.6h-2.6zM495.3 506.7h2.6v2.6h-2.6zM497.8 504.2h2.6v2.6h-2.6zM499.1 500.4h2.6v2.6h-2.6zM501.6 496.5h2.6v2.6h-2.6zM502.9 494.0h2.6v2.6h-2.6zM505.4 490.2h2.6v2.6h-2.6zM506.7 487.6h2.6v2.6h-2.6zM509.2 485.1h2.6v2.6h-2.6zM510.5 482.6h2.6v2.6h-2.6zM511.8 480.0h2.6v2.6h-2.6zM514.3 477.5h2.6v2.6h-2.6zM515.6 474.9h2.6v2.6h-2.6zM518.1 473.7h2.6v2.6h-2.6zM519.4 471.1h2.6v2.6h-2.6zM521.9 468.6h2.6v2.6h-2.6zM523.2 466.1h2.6v2.6h-2.6zM525.8 464.8h2.6v2.6h-2.6zM527.0 462.2h2.6v2.6h-2.6zM528.3 461.0h2.6v2.6h-2.6zM530.8 458.4h2.6v2.6h-2.6zM532.1 457.2h2.6v2.6h-2.6zM534.6 454.6h2.6v2.6h-2.6zM535.9 453.4h2.6v2.6h-2.6zM538.5 450.8h2.6v2.6h-2.6zM539.7 449.6h2.6v2.6h-2.6zM542.3 448.3h2.6v2.6h-2.6zM543.5 445.7h2.6v2.6h-2.6zM544.8 444.5h2.6v2.6h-2.6zM547.3 443.2h2.6v2.6h-2.6zM548.6 441.9h2.6v2.6h-2.6zM551.2 439.4h2.6v2.6h-2.6zM552.4 438.1h2.6v2.6h-2.6zM555.0 436.9h2.6v2.6h-2.6zM556.2 434.3h2.6v2.6h-2.6zM558.8 433.0h2.6v2.6h-2.6zM560.0 431.8h2.6v2.6h-2.6zM562.6 429.2h2.6v2.6h-2.6zM563.9 428.0h2.6v2.6h-2.6zM565.1 426.7h2.6v2.6h-2.6zM567.7 424.1h2.6v2.6h-2.6zM568.9 422.9h2.6v2.6h-2.6zM571.5 421.6h2.6v2.6h-2.6zM572.7 420.3h2.6v2.6h-2.6zM575.3 417.8h2.6v2.6h-2.6zM576.6 416.5h2.6v2.6h-2.6zM579.1 415.3h2.6v2.6h-2.6zM580.4 414.0h2.6v2.6h-2.6zM582.9 412.7h2.6v2.6h-2.6zM584.2 411.4h2.6v2.6h-2.6zM585.4 410.2h2.6v2.6h-2.6zM588.0 408.9h2.6v2.6h-2.6zM589.2 407.6h2.6v2.6h-2.6zM591.8 406.4h2.6v2.6h-2.6zM593.1 403.8h2.6v2.6h-2.6zM595.6 402.6h2.6v2.6h-2.6zM596.9 401.3h2.6v2.6h-2.6zM599.4 400.0h2.6v2.6h-2.6zM600.7 398.8h2.6v2.6h-2.6zM603.2 397.5h2.6v2.6h-2.6zM604.5 396.2h2.6v2.6h-2.6zM605.8 396.2h2.6v2.6h-2.6zM608.3 394.9h2.6v2.6h-2.6zM609.6 393.7h2.6v2.6h-2.6zM612.1 392.4h2.6v2.6h-2.6zM613.4 391.1h2.6v2.6h-2.6zM615.9 389.9h2.6v2.6h-2.6zM617.2 388.6h2.6v2.6h-2.6zM619.7 387.3h2.6v2.6h-2.6zM621.0 386.1h2.6v2.6h-2.6zM623.5 384.8h2.6v2.6h-2.6zM624.8 383.5h2.6v2.6h-2.6zM626.1 382.2h2.6v2.6h-2.6zM628.6 381.0h2.6v2.6h-2.6zM629.9 379.7h2.6v2.6h-2.6zM632.4 379.7h2.6v2.6h-2.6zM633.7 378.4h2.6v2.6h-2.6zM636.2 377.2h2.6v2.6h-2.6zM637.5 375.9h2.6v2.6h-2.6zM640.1 374.6h2.6v2.6h-2.6zM641.3 373.3h2.6v2.6h-2.6zM642.6 372.1h2.6v2.6h-2.6zM645.1 372.1h2.6v2.6h-2.6zM646.4 370.8h2.6v2.6h-2.6zM648.9 369.5h2.6v2.6h-2.6zM650.2 368.3h2.6v2.6h-2.6zM652.8 367.0h2.6v2.6h-2.6zM654.0 367.0h2.6v2.6h-2.6zM656.6 365.7h2.6v2.6h-2.6zM657.8 364.5h2.6v2.6h-2.6zM660.4 363.2h2.6v2.6h-2.6zM661.6 363.2h2.6v2.6h-2.6zM662.9 361.9h2.6v2.6h-2.6zM665.5 360.6h2.6v2.6h-2.6zM666.7 360.6h2.6v2.6h-2.6zM669.3 359.4h2.6v2.6h-2.6zM670.5 358.1h2.6v2.6h-2.6zM673.1 356.8h2.6v2.6h-2.6zM674.3 356.8h2.6v2.6h-2.6zM675.6 355.6h2.6v2.6h-2.6zM678.2 354.3h2.6v2.6h-2.6zM679.4 353.0h2.6v2.6h-2.6zM682.0 353.0h2.6v2.6h-2.6zM683.2 351.8h2.6v2.6h-2.6zM685.8 350.5h2.6v2.6h-2.6zM687.0 349.2h2.6v2.6h-2.6zM689.6 349.2h2.6v2.6h-2.6zM690.9 347.9h2.6v2.6h-2.6zM693.4 346.7h2.6v2.6h-2.6zM694.7 345.4h2.6v2.6h-2.6zM697.2 344.1h2.6v2.6h-2.6zM698.5 344.1h2.6v2.6h-2.6zM699.7 342.9h2.6v2.6h-2.6zM702.3 341.6h2.6v2.6h-2.6zM703.6 340.3h2.6v2.6h-2.6zM706.1 340.3h2.6v2.6h-2.6zM707.4 339.1h2.6v2.6h-2.6zM709.9 337.8h2.6v2.6h-2.6zM711.2 336.5h2.6v2.6h-2.6zM713.7 335.2h2.6v2.6h-2.6zM715.0 334.0h2.6v2.6h-2.6zM716.2 334.0h2.6v2.6h-2.6zM718.8 332.7h2.6v2.6h-2.6zM720.1 331.4h2.6v2.6h-2.6zM722.6 330.2h2.6v2.6h-2.6zM723.9 328.9h2.6v2.6h-2.6zM726.4 328.9h2.6v2.6h-2.6zM727.7 327.6h2.6v2.6h-2.6zM730.2 326.4h2.6v2.6h-2.6zM731.5 325.1h2.6v2.6h-2.6zM732.8 323.8h2.6v2.6h-2.6zM735.3 323.8h2.6v2.6h-2.6zM736.6 322.6h2.6v2.6h-2.6zM739.1 321.3h2.6v2.6h-2.6zM740.4 320.0h2.6v2.6h-2.6zM742.9 318.7h2.6v2.6h-2.6zM744.2 317.5h2.6v2.6h-2.6zM746.7 316.2h2.6v2.6h-2.6zM748.0 314.9h2.6v2.6h-2.6zM749.3 314.9h2.6v2.6h-2.6zM751.8 313.7h2.6v2.6h-2.6zM753.1 312.4h2.6v2.6h-2.6zM755.6 312.4h2.6v2.6h-2.6zM756.9 312.4h2.6v2.6h-2.6zM759.4 312.4h2.6v2.6h-2.6zM760.7 312.4h2.6v2.6h-2.6zM763.2 312.4h2.6v2.6h-2.6zM764.5 312.4h2.6v2.6h-2.6zM767.1 313.7h2.6v2.6h-2.6zM768.3 314.9h2.6v2.6h-2.6zM769.6 316.2h2.6v2.6h-2.6zM772.1 317.5h2.6v2.6h-2.6zM773.4 320.0h2.6v2.6h-2.6zM775.9 321.3h2.6v2.6h-2.6zM777.2 323.8h2.6v2.6h-2.6zM779.8 325.1h2.6v2.6h-2.6zM781.0 327.6h2.6v2.6h-2.6zM783.6 328.9h2.6v2.6h-2.6zM784.8 331.4h2.6v2.6h-2.6zM787.4 332.7h2.6v2.6h-2.6zM788.6 335.2h2.6v2.6h-2.6zM789.9 337.8h2.6v2.6h-2.6zM792.5 339.1h2.6v2.6h-2.6zM793.7 341.6h2.6v2.6h-2.6zM796.3 344.1h2.6v2.6h-2.6zM797.5 346.7h2.6v2.6h-2.6zM800.1 347.9h2.6v2.6h-2.6zM801.3 350.5h2.6v2.6h-2.6zM803.9 353.0h2.6v2.6h-2.6zM805.2 354.3h2.6v2.6h-2.6zM806.4 356.8h2.6v2.6h-2.6zM809.0 358.1h2.6v2.6h-2.6zM810.2 360.6h2.6v2.6h-2.6zM812.8 361.9h2.6v2.6h-2.6zM814.0 364.5h2.6v2.6h-2.6zM816.6 365.7h2.6v2.6h-2.6zM817.9 368.3h2.6v2.6h-2.6zM820.4 369.5h2.6v2.6h-2.6zM821.7 372.1h2.6v2.6h-2.6zM824.2 373.3h2.6v2.6h-2.6zM825.5 375.9h2.6v2.6h-2.6zM826.7 377.2h2.6v2.6h-2.6zM829.3 379.7h2.6v2.6h-2.6zM830.6 381.0h2.6v2.6h-2.6zM833.1 382.2h2.6v2.6h-2.6zM834.4 384.8h2.6v2.6h-2.6zM836.9 386.1h2.6v2.6h-2.6zM838.2 388.6h2.6v2.6h-2.6zM840.7 389.9h2.6v2.6h-2.6zM842.0 392.4h2.6v2.6h-2.6zM843.3 393.7h2.6v2.6h-2.6zM845.8 394.9h2.6v2.6h-2.6zM847.1 396.2h2.6v2.6h-2.6zM849.6 397.5h2.6v2.6h-2.6zM850.9 398.8h2.6v2.6h-2.6zM853.4 398.8h2.6v2.6h-2.6zM854.7 400.0h2.6v2.6h-2.6zM857.2 400.0h2.6v2.6h-2.6zM858.5 400.0h2.6v2.6h-2.6zM861.0 400.0h2.6v2.6h-2.6zM862.3 398.8h2.6v2.6h-2.6zM863.6 398.8h2.6v2.6h-2.6zM866.1 397.5h2.6v2.6h-2.6zM867.4 396.2h2.6v2.6h-2.6zM869.9 394.9h2.6v2.6h-2.6zM871.2 393.7h2.6v2.6h-2.6zM873.7 391.1h2.6v2.6h-2.6zM875.0 389.9h2.6v2.6h-2.6zM877.5 388.6h2.6v2.6h-2.6zM878.8 387.3h2.6v2.6h-2.6zM881.4 384.8h2.6v2.6h-2.6zM882.6 383.5h2.6v2.6h-2.6zM883.9 382.2h2.6v2.6h-2.6zM886.4 379.7h2.6v2.6h-2.6zM887.7 378.4h2.6v2.6h-2.6zM890.2 377.2h2.6v2.6h-2.6zM891.5 377.2h2.6v2.6h-2.6zM894.1 375.9h2.6v2.6h-2.6zM895.3 374.6h2.6v2.6h-2.6zM897.9 374.6h2.6v2.6h-2.6zM899.1 374.6h2.6v2.6h-2.6zM901.7 373.3h2.6v2.6h-2.6zM902.9 373.3h2.6v2.6h-2.6zM905.5 373.3h2.6v2.6h-2.6zM906.8 373.3h2.6v2.6h-2.6zM908.0 373.3h2.6v2.6h-2.6zM910.6 373.3h2.6v2.6h-2.6zM911.8 373.3h2.6v2.6h-2.6zM914.4 373.3h2.6v2.6h-2.6zM915.6 373.3h2.6v2.6h-2.6zM918.2 373.3h2.6v2.6h-2.6zM919.5 373.3h2.6v2.6h-2.6zM922.0 373.3h2.6v2.6h-2.6zM923.3 373.3h2.6v2.6h-2.6zM925.8 373.3h2.6v2.6h-2.6zM927.1 374.6h2.6v2.6h-2.6zM929.6 374.6h2.6v2.6h-2.6zM930.9 374.6h2.6v2.6h-2.6zM932.2 375.9h2.6v2.6h-2.6zM934.7 375.9h2.6v2.6h-2.6zM936.0 377.2h2.6v2.6h-2.6zM938.5 377.2h2.6v2.6h-2.6zM939.8 378.4h2.6v2.6h-2.6zM942.3 379.7h2.6v2.6h-2.6zM943.6 381.0h2.6v2.6h-2.6zM946.1 382.2h2.6v2.6h-2.6zM947.4 383.5h2.6v2.6h-2.6zM948.7 384.8h2.6v2.6h-2.6zM951.2 386.1h2.6v2.6h-2.6zM952.5 387.3h2.6v2.6h-2.6zM955.0 388.6h2.6v2.6h-2.6zM956.3 389.9h2.6v2.6h-2.6zM958.8 391.1h2.6v2.6h-2.6zM960.1 392.4h2.6v2.6h-2.6zM962.6 393.7h2.6v2.6h-2.6zM963.9 394.9h2.6v2.6h-2.6zM966.4 397.5h2.6v2.6h-2.6zM967.7 398.8h2.6v2.6h-2.6zM969.0 401.3h2.6v2.6h-2.6zM971.5 402.6h2.6v2.6h-2.6zM972.8 405.1h2.6v2.6h-2.6zM975.3 407.6h2.6v2.6h-2.6zM976.6 410.2h2.6v2.6h-2.6zM979.1 412.7h2.6v2.6h-2.6zM980.4 415.3h2.6v2.6h-2.6zM983.0 419.1h2.6v2.6h-2.6zM984.2 421.6h2.6v2.6h-2.6zM985.5 424.1h2.6v2.6h-2.6zM988.0 426.7h2.6v2.6h-2.6zM989.3 430.5h2.6v2.6h-2.6zM991.8 433.0h2.6v2.6h-2.6zM993.1 436.9h2.6v2.6h-2.6zM995.7 439.4h2.6v2.6h-2.6zM996.9 443.2h2.6v2.6h-2.6zM999.5 445.7h2.6v2.6h-2.6zM1000.7 449.6h2.6v2.6h-2.6zM1002.0 453.4h2.6v2.6h-2.6zM1004.5 455.9h2.6v2.6h-2.6zM1005.8 458.4h2.6v2.6h-2.6zM684.5 53.3h2.6v2.6h-2.6zM687.0 58.4h2.6v2.6h-2.6zM688.3 62.2h2.6v2.6h-2.6zM690.9 66.0h2.6v2.6h-2.6zM692.1 69.8h2.6v2.6h-2.6zM694.7 72.4h2.6v2.6h-2.6zM695.9 76.2h2.6v2.6h-2.6zM698.5 78.7h2.6v2.6h-2.6zM699.7 82.5h2.6v2.6h-2.6zM701.0 86.3h2.6v2.6h-2.6zM703.6 90.1h2.6v2.6h-2.6zM704.8 94.0h2.6v2.6h-2.6zM707.4 97.8h2.6v2.6h-2.6zM708.6 100.3h2.6v2.6h-2.6zM711.2 104.1h2.6v2.6h-2.6zM712.4 107.9h2.6v2.6h-2.6zM715.0 110.5h2.6v2.6h-2.6zM716.2 114.3h2.6v2.6h-2.6zM717.5 116.8h2.6v2.6h-2.6zM720.1 120.6h2.6v2.6h-2.6zM721.3 124.4h2.6v2.6h-2.6zM723.9 127.0h2.6v2.6h-2.6zM725.1 130.8h2.6v2.6h-2.6zM727.7 134.6h2.6v2.6h-2.6zM729.0 137.1h2.6v2.6h-2.6zM731.5 140.9h2.6v2.6h-2.6zM732.8 144.8h2.6v2.6h-2.6zM734.0 147.3h2.6v2.6h-2.6zM736.6 151.1h2.6v2.6h-2.6zM737.8 153.6h2.6v2.6h-2.6zM740.4 157.4h2.6v2.6h-2.6zM741.7 161.3h2.6v2.6h-2.6zM744.2 163.8h2.6v2.6h-2.6zM745.5 167.6h2.6v2.6h-2.6zM748.0 170.1h2.6v2.6h-2.6zM749.3 172.7h2.6v2.6h-2.6zM751.8 176.5h2.6v2.6h-2.6zM753.1 179.0h2.6v2.6h-2.6zM754.4 182.8h2.6v2.6h-2.6zM756.9 185.4h2.6v2.6h-2.6zM758.2 187.9h2.6v2.6h-2.6zM760.7 190.5h2.6v2.6h-2.6zM762.0 193.0h2.6v2.6h-2.6zM764.5 195.5h2.6v2.6h-2.6zM765.8 196.8h2.6v2.6h-2.6zM768.3 198.1h2.6v2.6h-2.6zM769.6 198.1h2.6v2.6h-2.6zM772.1 198.1h2.6v2.6h-2.6zM773.4 199.4h2.6v2.6h-2.6zM774.7 199.4h2.6v2.6h-2.6zM777.2 199.4h2.6v2.6h-2.6zM778.5 199.4h2.6v2.6h-2.6zM781.0 200.6h2.6v2.6h-2.6zM782.3 200.6h2.6v2.6h-2.6zM784.8 200.6h2.6v2.6h-2.6zM786.1 200.6h2.6v2.6h-2.6zM788.6 200.6h2.6v2.6h-2.6zM789.9 201.9h2.6v2.6h-2.6zM792.5 201.9h2.6v2.6h-2.6zM793.7 203.2h2.6v2.6h-2.6zM795.0 204.4h2.6v2.6h-2.6zM797.5 204.4h2.6v2.6h-2.6zM798.8 205.7h2.6v2.6h-2.6zM801.3 207.0h2.6v2.6h-2.6zM802.6 208.2h2.6v2.6h-2.6zM805.2 209.5h2.6v2.6h-2.6zM806.4 210.8h2.6v2.6h-2.6zM809.0 213.3h2.6v2.6h-2.6zM810.2 214.6h2.6v2.6h-2.6zM812.8 215.9h2.6v2.6h-2.6zM814.0 218.4h2.6v2.6h-2.6zM815.3 219.7h2.6v2.6h-2.6zM817.9 222.2h2.6v2.6h-2.6zM819.1 224.8h2.6v2.6h-2.6zM821.7 227.3h2.6v2.6h-2.6zM822.9 229.8h2.6v2.6h-2.6zM825.5 233.7h2.6v2.6h-2.6zM826.7 236.2h2.6v2.6h-2.6zM829.3 240.0h2.6v2.6h-2.6zM830.6 243.8h2.6v2.6h-2.6zM831.8 246.3h2.6v2.6h-2.6zM834.4 250.2h2.6v2.6h-2.6zM835.6 255.2h2.6v2.6h-2.6zM838.2 259.1h2.6v2.6h-2.6zM839.4 264.1h2.6v2.6h-2.6zM842.0 269.2h2.6v2.6h-2.6zM843.3 274.3h2.6v2.6h-2.6zM845.8 280.6h2.6v2.6h-2.6zM847.1 287.0h2.6v2.6h-2.6zM848.3 293.3h2.6v2.6h-2.6zM850.9 298.4h2.6v2.6h-2.6zM852.1 303.5h2.6v2.6h-2.6zM854.7 308.6h2.6v2.6h-2.6zM856.0 314.9h2.6v2.6h-2.6zM858.5 321.3h2.6v2.6h-2.6zM859.8 326.4h2.6v2.6h-2.6zM862.3 332.7h2.6v2.6h-2.6zM863.6 339.1h2.6v2.6h-2.6zM864.8 345.4h2.6v2.6h-2.6zM867.4 351.8h2.6v2.6h-2.6zM868.7 358.1h2.6v2.6h-2.6zM871.2 365.7h2.6v2.6h-2.6zM872.5 372.1h2.6v2.6h-2.6zM875.0 378.4h2.6v2.6h-2.6zM876.3 386.1h2.6v2.6h-2.6zM876.3 386.1h2.6v2.6h-2.6zM726.4 66.0h2.6v2.6h-2.6zM727.7 71.1h2.6v2.6h-2.6zM730.2 76.2h2.6v2.6h-2.6zM731.5 82.5h2.6v2.6h-2.6zM732.8 87.6h2.6v2.6h-2.6zM735.3 92.7h2.6v2.6h-2.6zM736.6 97.8h2.6v2.6h-2.6zM739.1 102.8h2.6v2.6h-2.6zM740.4 107.9h2.6v2.6h-2.6zM742.9 111.7h2.6v2.6h-2.6zM744.2 116.8h2.6v2.6h-2.6zM746.7 121.9h2.6v2.6h-2.6zM748.0 127.0h2.6v2.6h-2.6zM750.5 132.0h2.6v2.6h-2.6zM751.8 137.1h2.6v2.6h-2.6zM753.1 142.2h2.6v2.6h-2.6zM755.6 147.3h2.6v2.6h-2.6zM756.9 152.4h2.6v2.6h-2.6zM759.4 157.4h2.6v2.6h-2.6zM760.7 161.3h2.6v2.6h-2.6zM763.2 165.1h2.6v2.6h-2.6zM764.5 168.9h2.6v2.6h-2.6zM767.1 172.7h2.6v2.6h-2.6zM768.3 177.8h2.6v2.6h-2.6zM769.6 182.8h2.6v2.6h-2.6zM772.1 187.9h2.6v2.6h-2.6zM773.4 194.3h2.6v2.6h-2.6zM775.9 200.6h2.6v2.6h-2.6zM777.2 207.0h2.6v2.6h-2.6zM779.8 213.3h2.6v2.6h-2.6zM781.0 220.9h2.6v2.6h-2.6zM782.3 228.6h2.6v2.6h-2.6zM784.8 238.7h2.6v2.6h-2.6zM786.1 247.6h2.6v2.6h-2.6zM788.6 255.2h2.6v2.6h-2.6zM789.9 262.9h2.6v2.6h-2.6zM792.5 269.2h2.6v2.6h-2.6zM793.7 276.8h2.6v2.6h-2.6zM796.3 285.7h2.6v2.6h-2.6zM797.5 293.3h2.6v2.6h-2.6zM798.8 298.4h2.6v2.6h-2.6zM801.3 303.5h2.6v2.6h-2.6zM802.6 307.3h2.6v2.6h-2.6zM805.2 311.1h2.6v2.6h-2.6zM806.4 314.9h2.6v2.6h-2.6zM809.0 318.7h2.6v2.6h-2.6zM810.2 322.6h2.6v2.6h-2.6zM812.8 326.4h2.6v2.6h-2.6zM814.0 331.4h2.6v2.6h-2.6zM815.3 335.2h2.6v2.6h-2.6zM817.9 339.1h2.6v2.6h-2.6zM819.1 342.9h2.6v2.6h-2.6zM821.7 346.7h2.6v2.6h-2.6zM822.9 349.2h2.6v2.6h-2.6zM825.5 353.0h2.6v2.6h-2.6zM825.5 353.0h2.6v2.6h-2.6zM850.9 57.1h2.6v2.6h-2.6zM853.4 58.4h2.6v2.6h-2.6zM854.7 59.7h2.6v2.6h-2.6zM857.2 62.2h2.6v2.6h-2.6zM858.5 63.5h2.6v2.6h-2.6zM861.0 64.7h2.6v2.6h-2.6zM862.3 64.7h2.6v2.6h-2.6zM863.6 66.0h2.6v2.6h-2.6zM866.1 67.3h2.6v2.6h-2.6zM867.4 68.5h2.6v2.6h-2.6zM869.9 69.8h2.6v2.6h-2.6zM871.2 71.1h2.6v2.6h-2.6zM873.7 72.4h2.6v2.6h-2.6zM875.0 73.6h2.6v2.6h-2.6zM877.5 74.9h2.6v2.6h-2.6zM878.8 76.2h2.6v2.6h-2.6zM881.4 77.4h2.6v2.6h-2.6zM882.6 78.7h2.6v2.6h-2.6zM883.9 80.0h2.6v2.6h-2.6zM886.4 82.5h2.6v2.6h-2.6zM887.7 83.8h2.6v2.6h-2.6zM890.2 85.1h2.6v2.6h-2.6zM891.5 87.6h2.6v2.6h-2.6zM894.1 88.9h2.6v2.6h-2.6zM895.3 90.1h2.6v2.6h-2.6zM897.9 92.7h2.6v2.6h-2.6zM899.1 94.0h2.6v2.6h-2.6zM901.7 95.2h2.6v2.6h-2.6zM902.9 97.8h2.6v2.6h-2.6zM904.2 99.0h2.6v2.6h-2.6zM906.8 101.6h2.6v2.6h-2.6zM908.0 102.8h2.6v2.6h-2.6zM910.6 104.1h2.6v2.6h-2.6zM911.8 106.7h2.6v2.6h-2.6zM914.4 107.9h2.6v2.6h-2.6zM915.6 110.5h2.6v2.6h-2.6zM918.2 111.7h2.6v2.6h-2.6zM919.5 114.3h2.6v2.6h-2.6zM922.0 115.5h2.6v2.6h-2.6zM923.3 118.1h2.6v2.6h-2.6zM924.5 119.4h2.6v2.6h-2.6zM927.1 121.9h2.6v2.6h-2.6zM928.3 123.2h2.6v2.6h-2.6zM930.9 125.7h2.6v2.6h-2.6zM932.2 127.0h2.6v2.6h-2.6zM934.7 129.5h2.6v2.6h-2.6zM936.0 132.0h2.6v2.6h-2.6zM938.5 133.3h2.6v2.6h-2.6zM939.8 135.9h2.6v2.6h-2.6zM941.0 137.1h2.6v2.6h-2.6zM943.6 139.7h2.6v2.6h-2.6zM944.9 142.2h2.6v2.6h-2.6zM947.4 143.5h2.6v2.6h-2.6zM948.7 146.0h2.6v2.6h-2.6zM951.2 148.6h2.6v2.6h-2.6zM952.5 149.8h2.6v2.6h-2.6zM955.0 152.4h2.6v2.6h-2.6zM956.3 153.6h2.6v2.6h-2.6zM958.8 156.2h2.6v2.6h-2.6zM960.1 158.7h2.6v2.6h-2.6zM961.4 161.3h2.6v2.6h-2.6zM963.9 162.5h2.6v2.6h-2.6zM965.2 165.1h2.6v2.6h-2.6zM967.7 167.6h2.6v2.6h-2.6zM969.0 168.9h2.6v2.6h-2.6zM971.5 171.4h2.6v2.6h-2.6zM972.8 174.0h2.6v2.6h-2.6zM975.3 175.2h2.6v2.6h-2.6zM976.6 177.8h2.6v2.6h-2.6zM977.9 180.3h2.6v2.6h-2.6zM980.4 182.8h2.6v2.6h-2.6zM981.7 184.1h2.6v2.6h-2.6zM984.2 186.7h2.6v2.6h-2.6zM985.5 189.2h2.6v2.6h-2.6zM988.0 191.7h2.6v2.6h-2.6zM989.3 193.0h2.6v2.6h-2.6zM991.8 195.5h2.6v2.6h-2.6zM993.1 198.1h2.6v2.6h-2.6zM995.7 200.6h2.6v2.6h-2.6zM996.9 203.2h2.6v2.6h-2.6zM998.2 204.4h2.6v2.6h-2.6zM1000.7 207.0h2.6v2.6h-2.6zM1002.0 209.5h2.6v2.6h-2.6zM1003.3 210.8h2.6v2.6h-2.6zM866.1 72.4h2.6v2.6h-2.6zM867.4 73.6h2.6v2.6h-2.6zM868.7 74.9h2.6v2.6h-2.6zM871.2 76.2h2.6v2.6h-2.6zM872.5 77.4h2.6v2.6h-2.6zM875.0 78.7h2.6v2.6h-2.6zM876.3 81.2h2.6v2.6h-2.6zM878.8 82.5h2.6v2.6h-2.6zM880.1 83.8h2.6v2.6h-2.6zM882.6 85.1h2.6v2.6h-2.6zM883.9 86.3h2.6v2.6h-2.6zM885.2 88.9h2.6v2.6h-2.6zM887.7 90.1h2.6v2.6h-2.6zM889.0 91.4h2.6v2.6h-2.6zM891.5 94.0h2.6v2.6h-2.6zM892.8 95.2h2.6v2.6h-2.6zM895.3 96.5h2.6v2.6h-2.6zM896.6 99.0h2.6v2.6h-2.6zM899.1 100.3h2.6v2.6h-2.6zM900.4 101.6h2.6v2.6h-2.6zM902.9 104.1h2.6v2.6h-2.6zM904.2 105.4h2.6v2.6h-2.6zM905.5 106.7h2.6v2.6h-2.6zM908.0 109.2h2.6v2.6h-2.6zM909.3 110.5h2.6v2.6h-2.6zM911.8 113.0h2.6v2.6h-2.6zM913.1 114.3h2.6v2.6h-2.6zM915.6 116.8h2.6v2.6h-2.6zM916.9 118.1h2.6v2.6h-2.6zM919.5 120.6h2.6v2.6h-2.6zM920.7 121.9h2.6v2.6h-2.6zM923.3 124.4h2.6v2.6h-2.6zM924.5 125.7h2.6v2.6h-2.6zM925.8 128.2h2.6v2.6h-2.6zM928.3 129.5h2.6v2.6h-2.6zM929.6 132.0h2.6v2.6h-2.6zM932.2 133.3h2.6v2.6h-2.6zM933.4 135.9h2.6v2.6h-2.6zM936.0 137.1h2.6v2.6h-2.6zM937.2 139.7h2.6v2.6h-2.6zM939.8 142.2h2.6v2.6h-2.6zM941.0 143.5h2.6v2.6h-2.6zM942.3 146.0h2.6v2.6h-2.6zM944.9 147.3h2.6v2.6h-2.6zM946.1 149.8h2.6v2.6h-2.6zM948.7 152.4h2.6v2.6h-2.6zM949.9 153.6h2.6v2.6h-2.6zM952.5 156.2h2.6v2.6h-2.6zM953.7 158.7h2.6v2.6h-2.6zM956.3 160.0h2.6v2.6h-2.6zM957.6 162.5h2.6v2.6h-2.6zM958.8 165.1h2.6v2.6h-2.6zM961.4 166.3h2.6v2.6h-2.6zM962.6 168.9h2.6v2.6h-2.6zM965.2 171.4h2.6v2.6h-2.6zM966.4 172.7h2.6v2.6h-2.6zM969.0 175.2h2.6v2.6h-2.6zM970.3 177.8h2.6v2.6h-2.6zM972.8 180.3h2.6v2.6h-2.6zM974.1 181.6h2.6v2.6h-2.6zM976.6 184.1h2.6v2.6h-2.6zM977.9 186.7h2.6v2.6h-2.6zM979.1 189.2h2.6v2.6h-2.6zM981.7 190.5h2.6v2.6h-2.6zM983.0 193.0h2.6v2.6h-2.6zM985.5 195.5h2.6v2.6h-2.6zM986.8 198.1h2.6v2.6h-2.6zM989.3 199.4h2.6v2.6h-2.6zM990.6 201.9h2.6v2.6h-2.6zM993.1 203.2h2.6v2.6h-2.6zM994.4 205.7h2.6v2.6h-2.6zM995.7 207.0h2.6v2.6h-2.6zM998.2 208.2h2.6v2.6h-2.6zM999.5 210.8h2.6v2.6h-2.6zM1002.0 212.1h2.6v2.6h-2.6zM1003.3 213.3h2.6v2.6h-2.6zM875.0 76.2h2.6v2.6h-2.6zM877.5 77.4h2.6v2.6h-2.6zM878.8 80.0h2.6v2.6h-2.6zM881.4 81.2h2.6v2.6h-2.6zM882.6 82.5h2.6v2.6h-2.6zM885.2 83.8h2.6v2.6h-2.6zM886.4 86.3h2.6v2.6h-2.6zM889.0 87.6h2.6v2.6h-2.6zM890.2 88.9h2.6v2.6h-2.6zM891.5 90.1h2.6v2.6h-2.6zM894.1 92.7h2.6v2.6h-2.6zM895.3 94.0h2.6v2.6h-2.6zM897.9 95.2h2.6v2.6h-2.6zM899.1 97.8h2.6v2.6h-2.6zM901.7 99.0h2.6v2.6h-2.6zM902.9 101.6h2.6v2.6h-2.6zM905.5 102.8h2.6v2.6h-2.6zM906.8 104.1h2.6v2.6h-2.6zM909.3 106.7h2.6v2.6h-2.6zM910.6 107.9h2.6v2.6h-2.6zM911.8 110.5h2.6v2.6h-2.6zM914.4 111.7h2.6v2.6h-2.6zM915.6 114.3h2.6v2.6h-2.6zM918.2 115.5h2.6v2.6h-2.6zM919.5 118.1h2.6v2.6h-2.6zM922.0 119.4h2.6v2.6h-2.6zM923.3 121.9h2.6v2.6h-2.6zM925.8 123.2h2.6v2.6h-2.6zM927.1 125.7h2.6v2.6h-2.6zM929.6 127.0h2.6v2.6h-2.6zM930.9 129.5h2.6v2.6h-2.6zM932.2 130.8h2.6v2.6h-2.6zM934.7 133.3h2.6v2.6h-2.6zM936.0 134.6h2.6v2.6h-2.6zM938.5 137.1h2.6v2.6h-2.6zM939.8 139.7h2.6v2.6h-2.6zM942.3 140.9h2.6v2.6h-2.6zM943.6 143.5h2.6v2.6h-2.6zM946.1 146.0h2.6v2.6h-2.6zM947.4 147.3h2.6v2.6h-2.6zM948.7 149.8h2.6v2.6h-2.6zM951.2 151.1h2.6v2.6h-2.6zM952.5 153.6h2.6v2.6h-2.6zM955.0 156.2h2.6v2.6h-2.6zM956.3 157.4h2.6v2.6h-2.6zM958.8 160.0h2.6v2.6h-2.6zM960.1 162.5h2.6v2.6h-2.6zM962.6 163.8h2.6v2.6h-2.6zM963.9 166.3h2.6v2.6h-2.6zM966.4 168.9h2.6v2.6h-2.6zM967.7 171.4h2.6v2.6h-2.6zM969.0 172.7h2.6v2.6h-2.6zM971.5 175.2h2.6v2.6h-2.6zM972.8 177.8h2.6v2.6h-2.6zM975.3 179.0h2.6v2.6h-2.6zM976.6 181.6h2.6v2.6h-2.6zM979.1 184.1h2.6v2.6h-2.6zM980.4 186.7h2.6v2.6h-2.6zM983.0 187.9h2.6v2.6h-2.6zM984.2 190.5h2.6v2.6h-2.6zM985.5 193.0h2.6v2.6h-2.6zM915.6 452.1h2.6v2.6h-2.6zM918.2 459.7h2.6v2.6h-2.6zM919.5 463.5h2.6v2.6h-2.6zM922.0 464.8h2.6v2.6h-2.6zM923.3 464.8h2.6v2.6h-2.6zM925.8 464.8h2.6v2.6h-2.6zM927.1 462.2h2.6v2.6h-2.6zM928.3 459.7h2.6v2.6h-2.6zM930.9 454.6h2.6v2.6h-2.6zM932.2 450.8h2.6v2.6h-2.6zM934.7 444.5h2.6v2.6h-2.6zM936.0 435.6h2.6v2.6h-2.6zM938.5 425.4h2.6v2.6h-2.6zM939.8 417.8h2.6v2.6h-2.6zM942.3 410.2h2.6v2.6h-2.6zM943.6 403.8h2.6v2.6h-2.6zM944.9 396.2h2.6v2.6h-2.6zM947.4 388.6h2.6v2.6h-2.6zM948.7 382.2h2.6v2.6h-2.6zM951.2 377.2h2.6v2.6h-2.6zM952.5 372.1h2.6v2.6h-2.6zM955.0 365.7h2.6v2.6h-2.6zM956.3 359.4h2.6v2.6h-2.6zM958.8 355.6h2.6v2.6h-2.6zM960.1 351.8h2.6v2.6h-2.6zM961.4 349.2h2.6v2.6h-2.6zM963.9 346.7h2.6v2.6h-2.6zM965.2 342.9h2.6v2.6h-2.6zM967.7 340.3h2.6v2.6h-2.6zM969.0 337.8h2.6v2.6h-2.6zM971.5 335.2h2.6v2.6h-2.6zM972.8 332.7h2.6v2.6h-2.6zM975.3 330.2h2.6v2.6h-2.6zM976.6 328.9h2.6v2.6h-2.6zM979.1 326.4h2.6v2.6h-2.6zM980.4 325.1h2.6v2.6h-2.6zM981.7 323.8h2.6v2.6h-2.6zM984.2 322.6h2.6v2.6h-2.6zM985.5 320.0h2.6v2.6h-2.6zM988.0 318.7h2.6v2.6h-2.6zM989.3 318.7h2.6v2.6h-2.6zM991.8 317.5h2.6v2.6h-2.6zM993.1 316.2h2.6v2.6h-2.6zM995.7 314.9h2.6v2.6h-2.6zM996.9 314.9h2.6v2.6h-2.6zM999.5 314.9h2.6v2.6h-2.6zM1000.7 313.7h2.6v2.6h-2.6zM1002.0 313.7h2.6v2.6h-2.6zM1004.5 313.7h2.6v2.6h-2.6zM1004.5 313.7h2.6v2.6h-2.6zM1005.8 344.1h2.6v2.6h-2.6zM1003.3 344.1h2.6v2.6h-2.6zM1002.0 344.1h2.6v2.6h-2.6zM1000.7 345.4h2.6v2.6h-2.6zM998.2 345.4h2.6v2.6h-2.6zM996.9 345.4h2.6v2.6h-2.6zM994.4 346.7h2.6v2.6h-2.6zM993.1 347.9h2.6v2.6h-2.6zM990.6 349.2h2.6v2.6h-2.6zM989.3 350.5h2.6v2.6h-2.6zM986.8 351.8h2.6v2.6h-2.6zM985.5 353.0h2.6v2.6h-2.6zM983.0 354.3h2.6v2.6h-2.6zM981.7 356.8h2.6v2.6h-2.6zM980.4 358.1h2.6v2.6h-2.6zM977.9 360.6h2.6v2.6h-2.6zM976.6 361.9h2.6v2.6h-2.6zM974.1 364.5h2.6v2.6h-2.6zM972.8 367.0h2.6v2.6h-2.6zM970.3 369.5h2.6v2.6h-2.6zM969.0 372.1h2.6v2.6h-2.6zM966.4 374.6h2.6v2.6h-2.6zM965.2 377.2h2.6v2.6h-2.6zM963.9 381.0h2.6v2.6h-2.6zM961.4 384.8h2.6v2.6h-2.6zM960.1 387.3h2.6v2.6h-2.6zM957.6 391.1h2.6v2.6h-2.6zM956.3 393.7h2.6v2.6h-2.6zM953.7 397.5h2.6v2.6h-2.6zM952.5 401.3h2.6v2.6h-2.6zM949.9 405.1h2.6v2.6h-2.6zM948.7 408.9h2.6v2.6h-2.6zM946.1 415.3h2.6v2.6h-2.6zM944.9 421.6h2.6v2.6h-2.6zM946.1 459.7h2.6v2.6h-2.6zM948.7 468.6h2.6v2.6h-2.6zM946.1 482.6h2.6v2.6h-2.6zM946.1 482.6h2.6v2.6h-2.6zM946.1 481.3h2.6v2.6h-2.6zM947.4 477.5h2.6v2.6h-2.6zM949.9 473.7h2.6v2.6h-2.6zM951.2 471.1h2.6v2.6h-2.6zM953.7 467.3h2.6v2.6h-2.6zM955.0 464.8h2.6v2.6h-2.6zM956.3 461.0h2.6v2.6h-2.6zM958.8 458.4h2.6v2.6h-2.6zM960.1 455.9h2.6v2.6h-2.6zM962.6 452.1h2.6v2.6h-2.6zM963.9 449.6h2.6v2.6h-2.6zM966.4 445.7h2.6v2.6h-2.6zM967.7 441.9h2.6v2.6h-2.6zM970.3 439.4h2.6v2.6h-2.6zM971.5 436.9h2.6v2.6h-2.6zM974.1 433.0h2.6v2.6h-2.6zM975.3 430.5h2.6v2.6h-2.6zM976.6 428.0h2.6v2.6h-2.6zM979.1 424.1h2.6v2.6h-2.6zM980.4 420.3h2.6v2.6h-2.6zM983.0 417.8h2.6v2.6h-2.6zM984.2 415.3h2.6v2.6h-2.6zM986.8 412.7h2.6v2.6h-2.6zM988.0 408.9h2.6v2.6h-2.6zM990.6 406.4h2.6v2.6h-2.6zM991.8 405.1h2.6v2.6h-2.6zM993.1 402.6h2.6v2.6h-2.6zM995.7 400.0h2.6v2.6h-2.6zM996.9 398.8h2.6v2.6h-2.6zM999.5 396.2h2.6v2.6h-2.6zM1000.7 394.9h2.6v2.6h-2.6zM1003.3 393.7h2.6v2.6h-2.6zM1004.5 392.4h2.6v2.6h-2.6zM1007.1 392.4h2.6v2.6h-2.6zM1007.1 392.4h2.6v2.6h-2.6zM948.7 482.6h2.6v2.6h-2.6zM949.9 480.0h2.6v2.6h-2.6zM952.5 478.8h2.6v2.6h-2.6zM953.7 476.2h2.6v2.6h-2.6zM956.3 473.7h2.6v2.6h-2.6zM957.6 471.1h2.6v2.6h-2.6zM960.1 468.6h2.6v2.6h-2.6zM961.4 466.1h2.6v2.6h-2.6zM963.9 463.5h2.6v2.6h-2.6zM965.2 461.0h2.6v2.6h-2.6zM967.7 458.4h2.6v2.6h-2.6zM969.0 455.9h2.6v2.6h-2.6zM970.3 453.4h2.6v2.6h-2.6zM972.8 450.8h2.6v2.6h-2.6zM974.1 448.3h2.6v2.6h-2.6zM976.6 445.7h2.6v2.6h-2.6zM977.9 443.2h2.6v2.6h-2.6zM980.4 440.7h2.6v2.6h-2.6zM981.7 436.9h2.6v2.6h-2.6zM984.2 434.3h2.6v2.6h-2.6zM985.5 431.8h2.6v2.6h-2.6zM988.0 429.2h2.6v2.6h-2.6zM989.3 426.7h2.6v2.6h-2.6zM990.6 424.1h2.6v2.6h-2.6zM993.1 420.3h2.6v2.6h-2.6zM994.4 417.8h2.6v2.6h-2.6zM996.9 416.5h2.6v2.6h-2.6zM998.2 414.0h2.6v2.6h-2.6zM1000.7 411.4h2.6v2.6h-2.6zM1002.0 410.2h2.6v2.6h-2.6zM1004.5 408.9h2.6v2.6h-2.6zM1005.8 408.9h2.6v2.6h-2.6zM1007.1 408.9h2.6v2.6h-2.6zM716.2 495.3h2.6v2.6h-2.6zM717.5 474.9h2.6v2.6h-2.6zM718.8 444.5h2.6v2.6h-2.6zM422.9 372.1h2.6v2.6h-2.6zM402.6 444.5h2.6v2.6h-2.6zM402.6 462.2h2.6v2.6h-2.6zM405.1 514.3h2.6v2.6h-2.6zM405.1 532.1h2.6v2.6h-2.6zM406.4 538.5h2.6v2.6h-2.6zM408.9 549.9h2.6v2.6h-2.6zM407.6 556.2h2.6v2.6h-2.6zM408.9 567.7h2.6v2.6h-2.6zM410.2 575.3h2.6v2.6h-2.6zM407.6 567.7h2.6v2.6h-2.6zM408.9 572.7h2.6v2.6h-2.6zM725.1 171.4h2.6v2.6h-2.6zM722.6 316.2h2.6v2.6h-2.6zM721.3 396.2h2.6v2.6h-2.6zM886.4 27.9h2.6v2.6h-2.6zM889.0 55.9h2.6v2.6h-2.6zM969.0 53.3h2.6v2.6h-2.6zM965.2 68.5h2.6v2.6h-2.6zM901.7 113.0h2.6v2.6h-2.6zM899.1 129.5h2.6v2.6h-2.6zM970.3 120.6h2.6v2.6h-2.6zM1005.8 132.0h2.6v2.6h-2.6zM1000.7 137.1h2.6v2.6h-2.6zM999.5 147.3h2.6v2.6h-2.6zM998.2 157.4h2.6v2.6h-2.6zM995.7 166.3h2.6v2.6h-2.6zM994.4 175.2h2.6v2.6h-2.6zM991.8 184.1h2.6v2.6h-2.6zM986.8 208.2h2.6v2.6h-2.6zM984.2 214.6h2.6v2.6h-2.6zM983.0 219.7h2.6v2.6h-2.6zM980.4 224.8h2.6v2.6h-2.6zM979.1 220.9h2.6v2.6h-2.6zM976.6 212.1h2.6v2.6h-2.6zM974.1 195.5h2.6v2.6h-2.6zM972.8 166.3h2.6v2.6h-2.6zM979.1 166.3h2.6v2.6h-2.6zM981.7 144.8h2.6v2.6h-2.6zM961.4 238.7h2.6v2.6h-2.6zM896.6 294.6h2.6v2.6h-2.6zM905.5 295.9h2.6v2.6h-2.6zM960.1 290.8h2.6v2.6h-2.6zM957.6 330.2h2.6v2.6h-2.6zM894.1 342.9h2.6v2.6h-2.6zM906.8 346.7h2.6v2.6h-2.6zM892.8 373.3h2.6v2.6h-2.6zM909.3 382.2h2.6v2.6h-2.6zM910.6 410.2h2.6v2.6h-2.6zM913.1 428.0h2.6v2.6h-2.6zM914.4 440.7h2.6v2.6h-2.6zM936.0 400.0h2.6v2.6h-2.6zM938.5 407.6h2.6v2.6h-2.6zM936.0 417.8h2.6v2.6h-2.6zM934.7 424.1h2.6v2.6h-2.6zM932.2 431.8h2.6v2.6h-2.6zM942.3 444.5h2.6v2.6h-2.6zM933.4 363.2h2.6v2.6h-2.6zM938.5 368.3h2.6v2.6h-2.6z" fill="#f00" stroke="#f00" stroke-width="2.2" stroke-linejoin="round"/>
<line x1="470.5" y1="1.5" x2="470.5" y2="622.5" stroke="#a6a6a6" stroke-width="1"/>
<line x1="668.5" y1="1.5" x2="668.5" y2="622.5" stroke="#a6a6a6" stroke-width="1"/>
<line x1="723.5" y1="1.5" x2="723.5" y2="622.5" stroke="#a6a6a6" stroke-width="1"/>
<line x1="878.5" y1="1.5" x2="878.5" y2="622.5" stroke="#a6a6a6" stroke-width="1"/>
<rect x="668.5" y="472.6" width="55.3" height="115.4" fill="none" stroke="#007f00" stroke-width="3.6" stroke-dasharray="10 4"/>
<rect x="91.5" y="1.5" width="914.0" height="621.0" fill="none" stroke="#000" stroke-width="1.2"/>
<line x1="91.5" y1="622.5" x2="91.5" y2="612.5" stroke="#000" stroke-width="1.2"/>
<line x1="91.5" y1="1.5" x2="91.5" y2="11.5" stroke="#000" stroke-width="1.2"/>
<text x="91.5" y="653" font-size="29" text-anchor="middle" font-family="Liberation Sans, Arial, sans-serif" stroke="#000" stroke-width="0.35">0</text>
<line x1="273.5" y1="622.5" x2="273.5" y2="612.5" stroke="#000" stroke-width="1.2"/>
<line x1="273.5" y1="1.5" x2="273.5" y2="11.5" stroke="#000" stroke-width="1.2"/>
<text x="273.5" y="653" font-size="29" text-anchor="middle" font-family="Liberation Sans, Arial, sans-serif" stroke="#000" stroke-width="0.35">1</text>
<line x1="455.6" y1="622.5" x2="455.6" y2="612.5" stroke="#000" stroke-width="1.2"/>
<line x1="455.6" y1="1.5" x2="455.6" y2="11.5" stroke="#000" stroke-width="1.2"/>
<text x="455.6" y="653" font-size="29" text-anchor="middle" font-family="Liberation Sans, Arial, sans-serif" stroke="#000" stroke-width="0.35">2</text>
<line x1="640.0" y1="622.5" x2="640.0" y2="612.5" stroke="#000" stroke-width="1.2"/>
<line x1="640.0" y1="1.5" x2="640.0" y2="11.5" stroke="#000" stroke-width="1.2"/>
<text x="640.0" y="653" font-size="29" text-anchor="middle" font-family="Liberation Sans, Arial, sans-serif" stroke="#000" stroke-width="0.35">3</text>
<line x1="822.0" y1="622.5" x2="822.0" y2="612.5" stroke="#000" stroke-width="1.2"/>
<line x1="822.0" y1="1.5" x2="822.0" y2="11.5" stroke="#000" stroke-width="1.2"/>
<text x="822.0" y="653" font-size="29" text-anchor="middle" font-family="Liberation Sans, Arial, sans-serif" stroke="#000" stroke-width="0.35">4</text>
<line x1="1005.5" y1="622.5" x2="1005.5" y2="612.5" stroke="#000" stroke-width="1.2"/>
<line x1="1005.5" y1="1.5" x2="1005.5" y2="11.5" stroke="#000" stroke-width="1.2"/>
<text x="1005.5" y="653" font-size="29" text-anchor="middle" font-family="Liberation Sans, Arial, sans-serif" stroke="#000" stroke-width="0.35">5</text>
<line x1="91.5" y1="622.5" x2="101.5" y2="622.5" stroke="#000" stroke-width="1.2"/>
<line x1="1005.5" y1="622.5" x2="995.5" y2="622.5" stroke="#000" stroke-width="1.2"/>
<text x="83.5" y="631.7" font-size="29" text-anchor="end" font-family="Liberation Sans, Arial, sans-serif" stroke="#000" stroke-width="0.35">0</text>
<line x1="91.5" y1="507.0" x2="101.5" y2="507.0" stroke="#000" stroke-width="1.2"/>
<line x1="1005.5" y1="507.0" x2="995.5" y2="507.0" stroke="#000" stroke-width="1.2"/>
<text x="83.5" y="516.2" font-size="29" text-anchor="end" font-family="Liberation Sans, Arial, sans-serif" stroke="#000" stroke-width="0.35">0.5</text>
<line x1="91.5" y1="392.3" x2="101.5" y2="392.3" stroke="#000" stroke-width="1.2"/>
<line x1="1005.5" y1="392.3" x2="995.5" y2="392.3" stroke="#000" stroke-width="1.2"/>
<text x="83.5" y="401.5" font-size="29" text-anchor="end" font-family="Liberation Sans, Arial, sans-serif" stroke="#000" stroke-width="0.35">1</text>
<line x1="91.5" y1="278.0" x2="101.5" y2="278.0" stroke="#000" stroke-width="1.2"/>
<line x1="1005.5" y1="278.0" x2="995.5" y2="278.0" stroke="#000" stroke-width="1.2"/>
<text x="83.5" y="287.2" font-size="29" text-anchor="end" font-family="Liberation Sans, Arial, sans-serif" stroke="#000" stroke-width="0.35">1.5</text>
<line x1="91.5" y1="161.0" x2="101.5" y2="161.0" stroke="#000" stroke-width="1.2"/>
<line x1="1005.5" y1="161.0" x2="995.5" y2="161.0" stroke="#000" stroke-width="1.2"/>
<text x="83.5" y="170.2" font-size="29" text-anchor="end" font-family="Liberation Sans, Arial, sans-serif" stroke="#000" stroke-width="0.35">2</text>
<line x1="91.5" y1="46.5" x2="101.5" y2="46.5" stroke="#000" stroke-width="1.2"/>
<line x1="1005.5" y1="46.5" x2="995.5" y2="46.5" stroke="#000" stroke-width="1.2"/>
<text x="83.5" y="55.7" font-size="29" text-anchor="end" font-family="Liberation Sans, Arial, sans-serif" stroke="#000" stroke-width="0.35">2.5</text>
<text x="546" y="689" font-size="29" text-anchor="middle" textLength="187" lengthAdjust="spacingAndGlyphs" font-family="Liberation Sans, Arial, sans-serif" stroke="#000" stroke-width="0.35">Frequency [Hz]</text>
<text transform="translate(23.3,309.5) rotate(-90)" font-size="29" text-anchor="middle" textLength="365" lengthAdjust="spacingAndGlyphs" font-family="Liberation Sans, Arial, sans-serif" stroke="#000" stroke-width="0.35">Attenuation η = 2Im(k)/Re(k)</text>
<rect x="105.3" y="14.6" width="347.2" height="119.4" fill="#fff" stroke="#000" stroke-width="1.2"/>
<path d="M156.6 33.5l3.5 3.5l-3.5 3.5l-3.5-3.5z" fill="#000"/>
<circle cx="156.6" cy="75" r="4.6" fill="#00f"/>
<circle cx="156.6" cy="111.6" r="2.6" fill="#000"/>
<text x="199.4" y="47.2" font-size="29" textLength="240.6" lengthAdjust="spacingAndGlyphs" font-family="Liberation Sans, Arial, sans-serif" stroke="#000" stroke-width="0.35">elastic propagating</text>
<text x="199.4" y="85.2" font-size="29" textLength="233.3" lengthAdjust="spacingAndGlyphs" font-family="Liberation Sans, Arial, sans-serif" stroke="#000" stroke-width="0.35">elastic evanescent</text>
<text x="199.4" y="121.2" font-size="29" textLength="146.2" lengthAdjust="spacingAndGlyphs" font-family="Liberation Sans, Arial, sans-serif" stroke="#000" stroke-width="0.35">viscoelastic</text>
</svg>
</body></html>
